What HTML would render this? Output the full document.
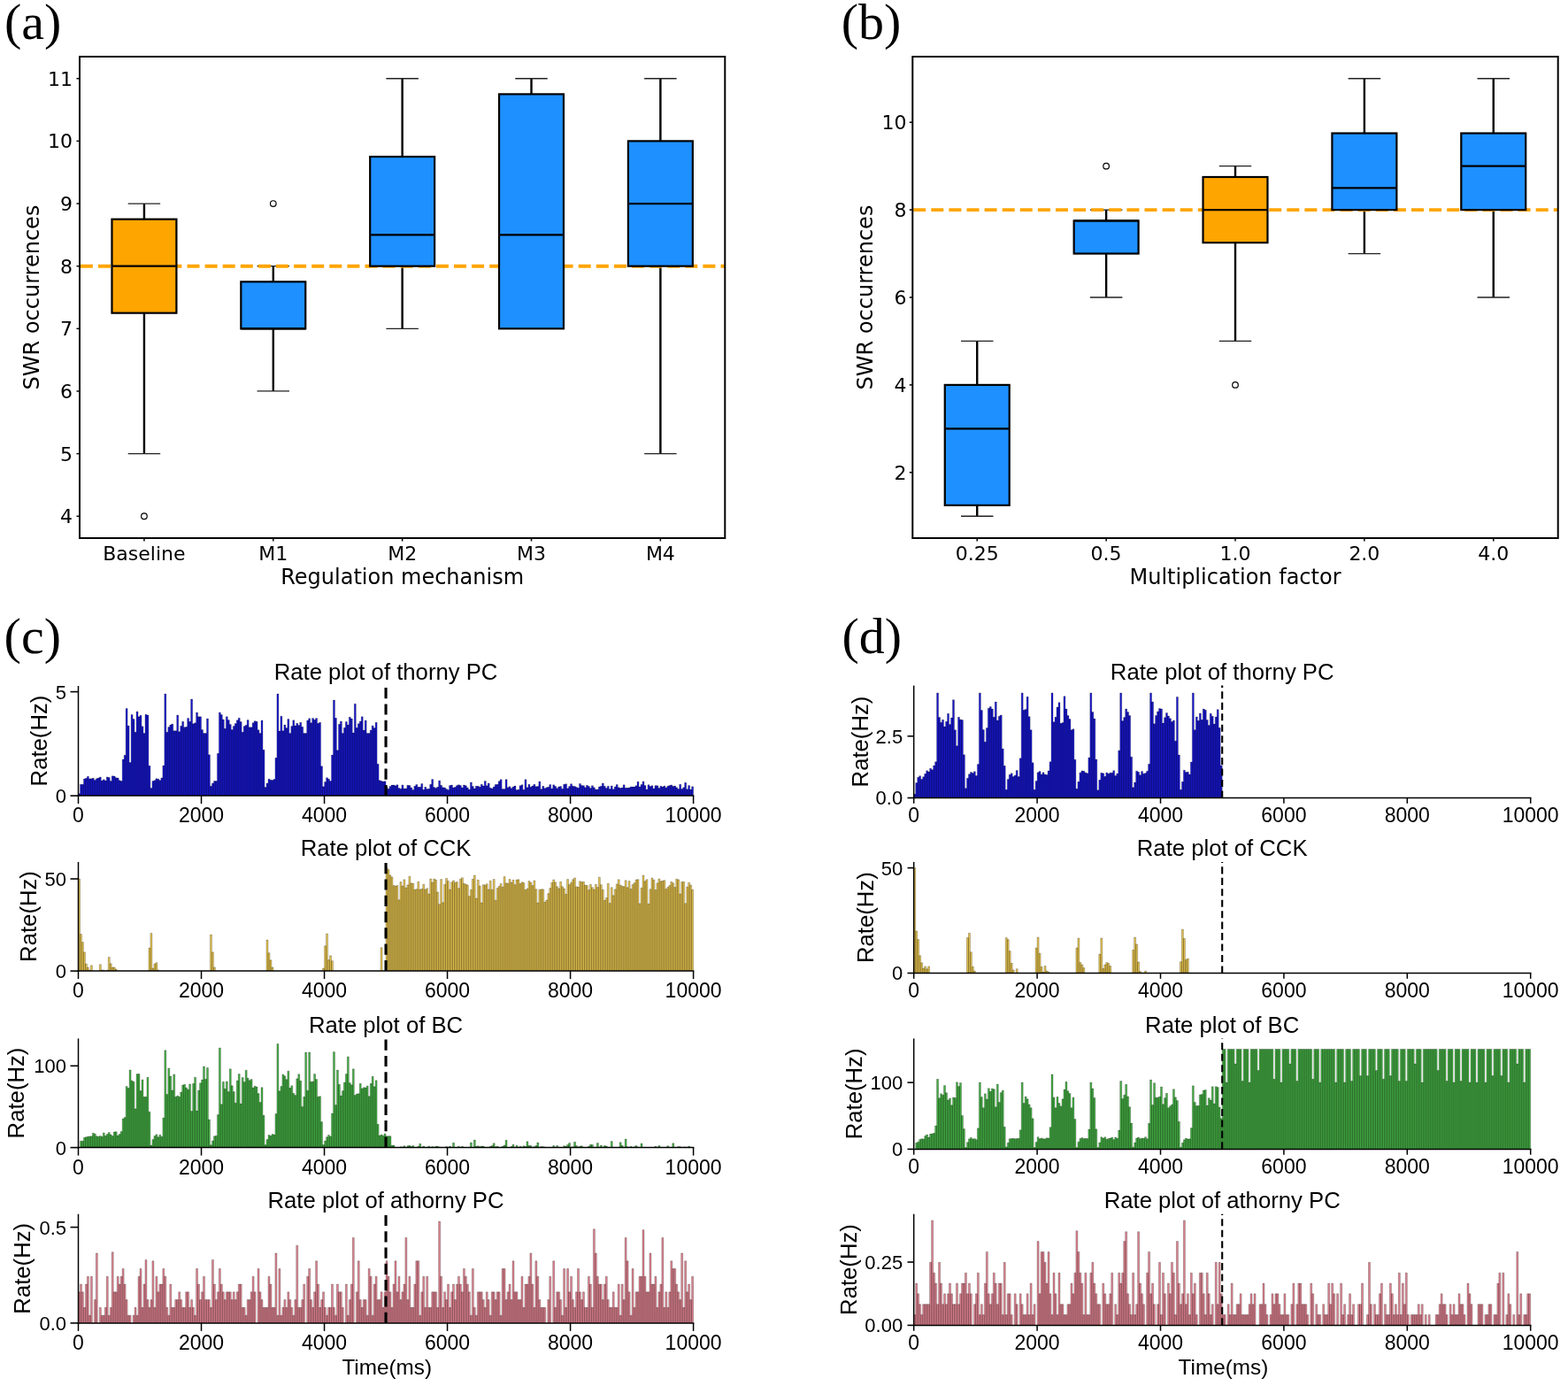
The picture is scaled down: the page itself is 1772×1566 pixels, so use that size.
<!DOCTYPE html>
<html><head><meta charset="utf-8"><title>SWR figure</title>
<style>html,body{margin:0;padding:0;background:#fff;overflow:hidden;} svg{display:block;}</style>
</head><body>
<svg width="1772" height="1566" viewBox="0 0 1772 1566"><text x="4.9" y="44.1" font-family="'Liberation Serif', 'Times New Roman', serif" font-size="58">(a)</text>
<text x="950.8" y="43.8" font-family="'Liberation Serif', 'Times New Roman', serif" font-size="58">(b)</text>
<text x="4.6" y="737.9" font-family="'Liberation Serif', 'Times New Roman', serif" font-size="58">(c)</text>
<text x="951.4" y="737.5" font-family="'Liberation Serif', 'Times New Roman', serif" font-size="58">(d)</text>
<line x1="162.93" y1="247.69" x2="162.93" y2="230.03" stroke="#000" stroke-width="2.4"/>
<line x1="162.93" y1="353.66" x2="162.93" y2="512.62" stroke="#000" stroke-width="2.4"/>
<line x1="144.70" y1="512.62" x2="181.16" y2="512.62" stroke="#222" stroke-width="1.3"/>
<line x1="144.70" y1="230.03" x2="181.16" y2="230.03" stroke="#222" stroke-width="1.3"/>
<line x1="308.79" y1="318.34" x2="308.79" y2="300.68" stroke="#000" stroke-width="2.4"/>
<line x1="308.79" y1="371.32" x2="308.79" y2="441.97" stroke="#000" stroke-width="2.4"/>
<line x1="290.56" y1="441.97" x2="327.02" y2="441.97" stroke="#222" stroke-width="1.3"/>
<line x1="290.56" y1="300.68" x2="327.02" y2="300.68" stroke="#222" stroke-width="1.3"/>
<line x1="454.65" y1="177.04" x2="454.65" y2="88.73" stroke="#000" stroke-width="2.4"/>
<line x1="454.65" y1="300.68" x2="454.65" y2="371.32" stroke="#000" stroke-width="2.4"/>
<line x1="436.42" y1="371.32" x2="472.88" y2="371.32" stroke="#222" stroke-width="1.3"/>
<line x1="436.42" y1="88.73" x2="472.88" y2="88.73" stroke="#222" stroke-width="1.3"/>
<line x1="600.51" y1="106.39" x2="600.51" y2="88.73" stroke="#000" stroke-width="2.4"/>
<line x1="600.51" y1="371.32" x2="600.51" y2="371.32" stroke="#000" stroke-width="2.4"/>
<line x1="582.28" y1="371.32" x2="618.74" y2="371.32" stroke="#222" stroke-width="1.3"/>
<line x1="582.28" y1="88.73" x2="618.74" y2="88.73" stroke="#222" stroke-width="1.3"/>
<line x1="746.37" y1="159.38" x2="746.37" y2="88.73" stroke="#000" stroke-width="2.4"/>
<line x1="746.37" y1="300.68" x2="746.37" y2="512.62" stroke="#000" stroke-width="2.4"/>
<line x1="728.14" y1="512.62" x2="764.60" y2="512.62" stroke="#222" stroke-width="1.3"/>
<line x1="728.14" y1="88.73" x2="764.60" y2="88.73" stroke="#222" stroke-width="1.3"/>
<line x1="90" y1="300.68" x2="819.3" y2="300.68" stroke="#FFA500" stroke-width="3.9" stroke-dasharray="14 6.1" stroke-dashoffset="-0.9"/>
<rect x="126.47" y="247.69" width="72.93" height="105.97" fill="#FFA500" stroke="#000" stroke-width="2.2"/>
<line x1="126.47" y1="300.68" x2="199.40" y2="300.68" stroke="#000" stroke-width="2.2"/>
<circle cx="162.93" cy="583.27" r="3.3" fill="none" stroke="#000" stroke-width="1.2"/>
<line x1="162.93" y1="608" x2="162.93" y2="611.5" stroke="#000" stroke-width="1.5"/>
<text x="162.93" y="632.6" font-family="'DejaVu Sans', sans-serif" font-size="22" text-anchor="middle">Baseline</text>
<rect x="272.32" y="318.34" width="72.93" height="52.99" fill="#1E90FF" stroke="#000" stroke-width="2.2"/>
<line x1="272.32" y1="371.32" x2="345.25" y2="371.32" stroke="#000" stroke-width="2.2"/>
<circle cx="308.79" cy="230.03" r="3.3" fill="none" stroke="#000" stroke-width="1.2"/>
<line x1="308.79" y1="608" x2="308.79" y2="611.5" stroke="#000" stroke-width="1.5"/>
<text x="308.79" y="632.6" font-family="'DejaVu Sans', sans-serif" font-size="22" text-anchor="middle">M1</text>
<rect x="418.19" y="177.04" width="72.93" height="123.64" fill="#1E90FF" stroke="#000" stroke-width="2.2"/>
<line x1="418.19" y1="265.35" x2="491.11" y2="265.35" stroke="#000" stroke-width="2.2"/>
<line x1="454.65" y1="608" x2="454.65" y2="611.5" stroke="#000" stroke-width="1.5"/>
<text x="454.65" y="632.6" font-family="'DejaVu Sans', sans-serif" font-size="22" text-anchor="middle">M2</text>
<rect x="564.04" y="106.39" width="72.93" height="264.94" fill="#1E90FF" stroke="#000" stroke-width="2.2"/>
<line x1="564.04" y1="265.35" x2="636.98" y2="265.35" stroke="#000" stroke-width="2.2"/>
<line x1="600.51" y1="608" x2="600.51" y2="611.5" stroke="#000" stroke-width="1.5"/>
<text x="600.51" y="632.6" font-family="'DejaVu Sans', sans-serif" font-size="22" text-anchor="middle">M3</text>
<rect x="709.90" y="159.38" width="72.93" height="141.30" fill="#1E90FF" stroke="#000" stroke-width="2.2"/>
<line x1="709.90" y1="230.03" x2="782.84" y2="230.03" stroke="#000" stroke-width="2.2"/>
<line x1="746.37" y1="608" x2="746.37" y2="611.5" stroke="#000" stroke-width="1.5"/>
<text x="746.37" y="632.6" font-family="'DejaVu Sans', sans-serif" font-size="22" text-anchor="middle">M4</text>
<line x1="86.5" y1="583.27" x2="90" y2="583.27" stroke="#000" stroke-width="1.5"/>
<text x="82" y="591.27" font-family="'DejaVu Sans', sans-serif" font-size="22" text-anchor="end">4</text>
<line x1="86.5" y1="512.62" x2="90" y2="512.62" stroke="#000" stroke-width="1.5"/>
<text x="82" y="520.62" font-family="'DejaVu Sans', sans-serif" font-size="22" text-anchor="end">5</text>
<line x1="86.5" y1="441.97" x2="90" y2="441.97" stroke="#000" stroke-width="1.5"/>
<text x="82" y="449.97" font-family="'DejaVu Sans', sans-serif" font-size="22" text-anchor="end">6</text>
<line x1="86.5" y1="371.32" x2="90" y2="371.32" stroke="#000" stroke-width="1.5"/>
<text x="82" y="379.32" font-family="'DejaVu Sans', sans-serif" font-size="22" text-anchor="end">7</text>
<line x1="86.5" y1="300.68" x2="90" y2="300.68" stroke="#000" stroke-width="1.5"/>
<text x="82" y="308.68" font-family="'DejaVu Sans', sans-serif" font-size="22" text-anchor="end">8</text>
<line x1="86.5" y1="230.03" x2="90" y2="230.03" stroke="#000" stroke-width="1.5"/>
<text x="82" y="238.03" font-family="'DejaVu Sans', sans-serif" font-size="22" text-anchor="end">9</text>
<line x1="86.5" y1="159.38" x2="90" y2="159.38" stroke="#000" stroke-width="1.5"/>
<text x="82" y="167.38" font-family="'DejaVu Sans', sans-serif" font-size="22" text-anchor="end">10</text>
<line x1="86.5" y1="88.73" x2="90" y2="88.73" stroke="#000" stroke-width="1.5"/>
<text x="82" y="96.73" font-family="'DejaVu Sans', sans-serif" font-size="22" text-anchor="end">11</text>
<rect x="90" y="64" width="729.3" height="544" fill="none" stroke="#000" stroke-width="2"/>
<text x="454.65" y="659.8" font-family="'DejaVu Sans', sans-serif" font-size="24" text-anchor="middle">Regulation mechanism</text>
<text transform="translate(44.2,336.00) rotate(-90)" font-family="'DejaVu Sans', sans-serif" font-size="24" text-anchor="middle">SWR occurrences</text>
<line x1="1104.24" y1="434.91" x2="1104.24" y2="385.45" stroke="#000" stroke-width="2.4"/>
<line x1="1104.24" y1="570.91" x2="1104.24" y2="583.27" stroke="#000" stroke-width="2.4"/>
<line x1="1086.01" y1="583.27" x2="1122.47" y2="583.27" stroke="#222" stroke-width="1.3"/>
<line x1="1086.01" y1="385.45" x2="1122.47" y2="385.45" stroke="#222" stroke-width="1.3"/>
<line x1="1250.12" y1="249.45" x2="1250.12" y2="237.09" stroke="#000" stroke-width="2.4"/>
<line x1="1250.12" y1="286.55" x2="1250.12" y2="336.00" stroke="#000" stroke-width="2.4"/>
<line x1="1231.88" y1="336.00" x2="1268.35" y2="336.00" stroke="#222" stroke-width="1.3"/>
<line x1="1231.88" y1="237.09" x2="1268.35" y2="237.09" stroke="#222" stroke-width="1.3"/>
<line x1="1396.00" y1="200.00" x2="1396.00" y2="187.64" stroke="#000" stroke-width="2.4"/>
<line x1="1396.00" y1="274.18" x2="1396.00" y2="385.45" stroke="#000" stroke-width="2.4"/>
<line x1="1377.77" y1="385.45" x2="1414.23" y2="385.45" stroke="#222" stroke-width="1.3"/>
<line x1="1377.77" y1="187.64" x2="1414.23" y2="187.64" stroke="#222" stroke-width="1.3"/>
<line x1="1541.88" y1="150.55" x2="1541.88" y2="88.73" stroke="#000" stroke-width="2.4"/>
<line x1="1541.88" y1="237.09" x2="1541.88" y2="286.55" stroke="#000" stroke-width="2.4"/>
<line x1="1523.65" y1="286.55" x2="1560.12" y2="286.55" stroke="#222" stroke-width="1.3"/>
<line x1="1523.65" y1="88.73" x2="1560.12" y2="88.73" stroke="#222" stroke-width="1.3"/>
<line x1="1687.76" y1="150.55" x2="1687.76" y2="88.73" stroke="#000" stroke-width="2.4"/>
<line x1="1687.76" y1="237.09" x2="1687.76" y2="336.00" stroke="#000" stroke-width="2.4"/>
<line x1="1669.53" y1="336.00" x2="1705.99" y2="336.00" stroke="#222" stroke-width="1.3"/>
<line x1="1669.53" y1="88.73" x2="1705.99" y2="88.73" stroke="#222" stroke-width="1.3"/>
<line x1="1031.3" y1="237.09" x2="1760.7" y2="237.09" stroke="#FFA500" stroke-width="3.9" stroke-dasharray="14 6.1" stroke-dashoffset="-0.9"/>
<rect x="1067.77" y="434.91" width="72.94" height="136.00" fill="#1E90FF" stroke="#000" stroke-width="2.2"/>
<line x1="1067.77" y1="484.36" x2="1140.71" y2="484.36" stroke="#000" stroke-width="2.2"/>
<line x1="1104.24" y1="608" x2="1104.24" y2="611.5" stroke="#000" stroke-width="1.5"/>
<text x="1104.24" y="632.6" font-family="'DejaVu Sans', sans-serif" font-size="22" text-anchor="middle">0.25</text>
<rect x="1213.65" y="249.45" width="72.94" height="37.09" fill="#1E90FF" stroke="#000" stroke-width="2.2"/>
<line x1="1213.65" y1="249.45" x2="1286.59" y2="249.45" stroke="#000" stroke-width="2.2"/>
<circle cx="1250.12" cy="187.64" r="3.3" fill="none" stroke="#000" stroke-width="1.2"/>
<line x1="1250.12" y1="608" x2="1250.12" y2="611.5" stroke="#000" stroke-width="1.5"/>
<text x="1250.12" y="632.6" font-family="'DejaVu Sans', sans-serif" font-size="22" text-anchor="middle">0.5</text>
<rect x="1359.53" y="200.00" width="72.94" height="74.18" fill="#FFA500" stroke="#000" stroke-width="2.2"/>
<line x1="1359.53" y1="237.09" x2="1432.47" y2="237.09" stroke="#000" stroke-width="2.2"/>
<circle cx="1396.00" cy="434.91" r="3.3" fill="none" stroke="#000" stroke-width="1.2"/>
<line x1="1396.00" y1="608" x2="1396.00" y2="611.5" stroke="#000" stroke-width="1.5"/>
<text x="1396.00" y="632.6" font-family="'DejaVu Sans', sans-serif" font-size="22" text-anchor="middle">1.0</text>
<rect x="1505.41" y="150.55" width="72.94" height="86.55" fill="#1E90FF" stroke="#000" stroke-width="2.2"/>
<line x1="1505.41" y1="212.36" x2="1578.35" y2="212.36" stroke="#000" stroke-width="2.2"/>
<line x1="1541.88" y1="608" x2="1541.88" y2="611.5" stroke="#000" stroke-width="1.5"/>
<text x="1541.88" y="632.6" font-family="'DejaVu Sans', sans-serif" font-size="22" text-anchor="middle">2.0</text>
<rect x="1651.29" y="150.55" width="72.94" height="86.55" fill="#1E90FF" stroke="#000" stroke-width="2.2"/>
<line x1="1651.29" y1="187.64" x2="1724.23" y2="187.64" stroke="#000" stroke-width="2.2"/>
<line x1="1687.76" y1="608" x2="1687.76" y2="611.5" stroke="#000" stroke-width="1.5"/>
<text x="1687.76" y="632.6" font-family="'DejaVu Sans', sans-serif" font-size="22" text-anchor="middle">4.0</text>
<line x1="1027.8" y1="533.82" x2="1031.3" y2="533.82" stroke="#000" stroke-width="1.5"/>
<text x="1024.6" y="541.82" font-family="'DejaVu Sans', sans-serif" font-size="22" text-anchor="end">2</text>
<line x1="1027.8" y1="434.91" x2="1031.3" y2="434.91" stroke="#000" stroke-width="1.5"/>
<text x="1024.6" y="442.91" font-family="'DejaVu Sans', sans-serif" font-size="22" text-anchor="end">4</text>
<line x1="1027.8" y1="336.00" x2="1031.3" y2="336.00" stroke="#000" stroke-width="1.5"/>
<text x="1024.6" y="344.00" font-family="'DejaVu Sans', sans-serif" font-size="22" text-anchor="end">6</text>
<line x1="1027.8" y1="237.09" x2="1031.3" y2="237.09" stroke="#000" stroke-width="1.5"/>
<text x="1024.6" y="245.09" font-family="'DejaVu Sans', sans-serif" font-size="22" text-anchor="end">8</text>
<line x1="1027.8" y1="138.18" x2="1031.3" y2="138.18" stroke="#000" stroke-width="1.5"/>
<text x="1024.6" y="146.18" font-family="'DejaVu Sans', sans-serif" font-size="22" text-anchor="end">10</text>
<rect x="1031.3" y="64" width="729.4000000000001" height="544" fill="none" stroke="#000" stroke-width="2"/>
<text x="1396.00" y="659.8" font-family="'DejaVu Sans', sans-serif" font-size="24" text-anchor="middle">Multiplication factor</text>
<text transform="translate(985.9,336.00) rotate(-90)" font-family="'DejaVu Sans', sans-serif" font-size="24" text-anchor="middle">SWR occurrences</text>
<path d="M88.50 899.10V896.75H90.49V886.18H92.47V886.18H94.46V879.99H96.44V879.36H98.43V877.22H100.42V879.92H102.40V879.67H104.39V879.20H106.37V881.57H108.36V879.64H110.35V878.96H112.33V878.00H114.32V882.09H116.30V880.86H118.29V882.11H120.28V877.90H122.26V878.58H124.25V882.42H126.23V876.87H128.22V876.99H130.21V878.82H132.19V879.03H134.18V881.73H136.16V882.56H138.15V858.07H140.14V853.27H142.12V800.40H144.11V820.00H146.09V861.50H148.08V807.45H150.07V812.50H152.05V827.19H154.04V804.04H156.02V809.80H158.01V808.23H160.00V820.80H161.98V828.60H163.97V807.31H165.95V807.94H167.94V865.24H169.93V890.38H171.91V882.46H173.90V881.71H175.88V879.76H177.87V880.32H179.86V881.64H181.84V878.89H183.83V865.07H185.81V783.95H187.80V827.24H189.79V821.50H191.77V819.08H193.76V817.95H195.74V825.73H197.73V825.80H199.72V807.94H201.70V826.72H203.69V820.26H205.67V815.28H207.66V821.69H209.65V821.15H211.63V811.49H213.62V815.21H215.60V789.90H217.59V817.72H219.58V816.76H221.56V805.08H223.55V809.80H225.53V809.85H227.52V824.51H229.51V828.44H231.49V828.60H233.48V811.94H235.46V852.76H237.45V888.17H239.44V885.07H241.42V882.42H243.41V882.51H245.39V851.32H247.38V805.10H249.37V807.40H251.35V812.90H253.34V823.15H255.32V809.80H257.31V813.58H259.30V818.38H261.28V824.46H263.27V820.54H265.25V817.58H267.24V813.84H269.23V811.35H271.21V815.44H273.20V827.31H275.18V820.49H277.17V819.29H279.16V813.54H281.14V821.74H283.13V821.81H285.11V816.71H287.10V814.69H289.09V815.16H291.07V824.82H293.06V828.60H295.04V813.98H297.03V847.28H299.02V889.47H301.00V884.95H302.99V880.32H304.97V881.22H306.96V881.52H308.95V880.51H310.93V856.35H312.92V783.95H314.90V825.94H316.89V809.14H318.88V825.71H320.86V819.01H322.85V822.56H324.83V812.50H326.82V828.60H328.81V820.59H330.79V813.87H332.78V819.95H334.76V817.18H336.75V819.55H338.74V816.19H340.72V821.27H342.71V828.60H344.69V828.60H346.68V814.08H348.67V811.75H350.65V816.73H352.64V811.54H354.62V813.37H356.61V811.59H358.60V817.30H360.58V816.31H362.57V865.64H364.55V888.78H366.54V883.43H368.53V878.70H370.51V880.14H372.50V882.46H374.48V853.11H376.47V791.00H378.46V811.30H380.44V847.66H382.43V818.14H384.41V814.88H386.40V828.60H388.39V822.16H390.37V815.56H392.36V818.99H394.34V810.25H396.33V812.01H398.32V828.04H400.30V795.23H402.29V822.30H404.27V817.67H406.26V814.90H408.25V809.80H410.23V825.08H412.22V814.05H414.20V828.48H416.19V828.60H418.18V825.12H420.16V819.98H422.15V822.58H424.13V816.31H426.12V863.19H428.11V881.80H430.09V882.58H432.08V883.07H434.06V882.77H436.05V889.16H438.04V891.23H440.02V888.48H442.01V887.12H443.99V887.09H445.98V887.82H447.97V886.79H449.95V890.52H451.94V891.13H453.92V886.88H455.91V890.99H457.90V890.88H459.88V887.23H461.87V887.51H463.85V889.96H465.84V892.40H467.83V888.20H469.81V886.39H471.80V889.30H473.78V889.32H475.77V885.54H477.76V892.28H479.74V889.25H481.73V891.58H483.71V891.23H485.70V886.25H487.69V880.58H489.67V889.58H491.66V890.45H493.64V889.25H495.63V882.06H497.62V887.16H499.60V889.63H501.59V889.96H503.57V891.46H505.56V892.43H507.55V887.44H509.53V887.07H511.52V889.96H513.50V889.32H515.49V887.42H517.48V886.74H519.46V887.59H521.45V889.94H523.43V886.93H525.42V887.66H527.41V889.94H529.39V892.07H531.38V884.08H533.36V888.48H535.35V891.04H537.34V888.29H539.32V888.34H541.31V889.14H543.29V886.18H545.28V888.08H547.27V882.56H549.25V887.84H551.24V885.02H553.22V890.15H555.21V890.92H557.20V889.02H559.18V886.39H561.17V886.20H563.15V882.67H565.14V880.70H567.13V891.51H569.11V891.44H571.10V880.63H573.08V889.84H575.07V888.74H577.06V890.71H579.04V888.97H581.03V887.98H583.01V892.43H585.00V892.24H586.99V887.73H588.97V886.83H590.96V892.19H592.94V880.86H594.93V889.79H596.92V886.34H598.90V889.21H600.89V887.94H602.87V886.32H604.86V888.69H606.85V888.55H608.83V883.07H610.82V891.72H612.80V888.29H614.79V890.85H616.78V889.86H618.76V889.16H620.75V886.48H622.73V891.02H624.72V886.86H626.71V888.55H628.69V890.80H630.68V888.92H632.66V888.50H634.65V891.32H636.64V886.29H638.62V885.82H640.61V890.80H642.59V888.57H644.58V885.66H646.57V888.22H648.55V888.52H650.54V889.49H652.52V890.33H654.51V885.47H656.50V887.40H658.48V887.63H660.47V889.82H662.45V887.37H664.44V888.38H666.43V890.45H668.41V887.80H670.40V889.82H672.38V891.91H674.37V892.03H676.36V888.95H678.34V888.17H680.33V884.93H682.31V888.31H684.30V890.59H686.29V888.13H688.27V891.60H690.26V887.91H692.24V891.77H694.23V888.90H696.22V886.55H698.20V889.75H700.19V890.59H702.17V889.98H704.16V886.83H706.15V890.22H708.13V890.22H710.12V890.05H712.10V888.95H714.09V889.09H716.08V888.95H718.06V887.70H720.05V883.14H722.03V889.07H724.02V886.39H726.01V882.96H727.99V887.51H729.98V892.00H731.96V886.81H733.95V888.50H735.94V887.80H737.92V890.97H739.91V887.66H741.89V887.68H743.88V890.38H745.87V888.24H747.85V889.11H749.84V888.03H751.82V889.91H753.81V888.29H755.80V887.40H757.78V886.88H759.77V888.45H761.75V888.01H763.74V889.84H765.73V891.60H767.71V886.22H769.70V891.46H771.68V889.82H773.67V884.37H775.66V891.79H777.64V887.59H779.63V892.12H781.61V888.81H783.60V899.10Z" fill="#1818d0"/>
<path d="M88.50 899.10V896.75H90.49V899.10M90.49 899.10V886.18H92.47V899.10M92.47 899.10V886.18H94.46V899.10M94.46 899.10V879.99H96.44V899.10M96.44 899.10V879.36H98.43V899.10M98.43 899.10V877.22H100.42V899.10M100.42 899.10V879.92H102.40V899.10M102.40 899.10V879.67H104.39V899.10M104.39 899.10V879.20H106.37V899.10M106.37 899.10V881.57H108.36V899.10M108.36 899.10V879.64H110.35V899.10M110.35 899.10V878.96H112.33V899.10M112.33 899.10V878.00H114.32V899.10M114.32 899.10V882.09H116.30V899.10M116.30 899.10V880.86H118.29V899.10M118.29 899.10V882.11H120.28V899.10M120.28 899.10V877.90H122.26V899.10M122.26 899.10V878.58H124.25V899.10M124.25 899.10V882.42H126.23V899.10M126.23 899.10V876.87H128.22V899.10M128.22 899.10V876.99H130.21V899.10M130.21 899.10V878.82H132.19V899.10M132.19 899.10V879.03H134.18V899.10M134.18 899.10V881.73H136.16V899.10M136.16 899.10V882.56H138.15V899.10M138.15 899.10V858.07H140.14V899.10M140.14 899.10V853.27H142.12V899.10M142.12 899.10V800.40H144.11V899.10M144.11 899.10V820.00H146.09V899.10M146.09 899.10V861.50H148.08V899.10M148.08 899.10V807.45H150.07V899.10M150.07 899.10V812.50H152.05V899.10M152.05 899.10V827.19H154.04V899.10M154.04 899.10V804.04H156.02V899.10M156.02 899.10V809.80H158.01V899.10M158.01 899.10V808.23H160.00V899.10M160.00 899.10V820.80H161.98V899.10M161.98 899.10V828.60H163.97V899.10M163.97 899.10V807.31H165.95V899.10M165.95 899.10V807.94H167.94V899.10M167.94 899.10V865.24H169.93V899.10M169.93 899.10V890.38H171.91V899.10M171.91 899.10V882.46H173.90V899.10M173.90 899.10V881.71H175.88V899.10M175.88 899.10V879.76H177.87V899.10M177.87 899.10V880.32H179.86V899.10M179.86 899.10V881.64H181.84V899.10M181.84 899.10V878.89H183.83V899.10M183.83 899.10V865.07H185.81V899.10M185.81 899.10V783.95H187.80V899.10M187.80 899.10V827.24H189.79V899.10M189.79 899.10V821.50H191.77V899.10M191.77 899.10V819.08H193.76V899.10M193.76 899.10V817.95H195.74V899.10M195.74 899.10V825.73H197.73V899.10M197.73 899.10V825.80H199.72V899.10M199.72 899.10V807.94H201.70V899.10M201.70 899.10V826.72H203.69V899.10M203.69 899.10V820.26H205.67V899.10M205.67 899.10V815.28H207.66V899.10M207.66 899.10V821.69H209.65V899.10M209.65 899.10V821.15H211.63V899.10M211.63 899.10V811.49H213.62V899.10M213.62 899.10V815.21H215.60V899.10M215.60 899.10V789.90H217.59V899.10M217.59 899.10V817.72H219.58V899.10M219.58 899.10V816.76H221.56V899.10M221.56 899.10V805.08H223.55V899.10M223.55 899.10V809.80H225.53V899.10M225.53 899.10V809.85H227.52V899.10M227.52 899.10V824.51H229.51V899.10M229.51 899.10V828.44H231.49V899.10M231.49 899.10V828.60H233.48V899.10M233.48 899.10V811.94H235.46V899.10M235.46 899.10V852.76H237.45V899.10M237.45 899.10V888.17H239.44V899.10M239.44 899.10V885.07H241.42V899.10M241.42 899.10V882.42H243.41V899.10M243.41 899.10V882.51H245.39V899.10M245.39 899.10V851.32H247.38V899.10M247.38 899.10V805.10H249.37V899.10M249.37 899.10V807.40H251.35V899.10M251.35 899.10V812.90H253.34V899.10M253.34 899.10V823.15H255.32V899.10M255.32 899.10V809.80H257.31V899.10M257.31 899.10V813.58H259.30V899.10M259.30 899.10V818.38H261.28V899.10M261.28 899.10V824.46H263.27V899.10M263.27 899.10V820.54H265.25V899.10M265.25 899.10V817.58H267.24V899.10M267.24 899.10V813.84H269.23V899.10M269.23 899.10V811.35H271.21V899.10M271.21 899.10V815.44H273.20V899.10M273.20 899.10V827.31H275.18V899.10M275.18 899.10V820.49H277.17V899.10M277.17 899.10V819.29H279.16V899.10M279.16 899.10V813.54H281.14V899.10M281.14 899.10V821.74H283.13V899.10M283.13 899.10V821.81H285.11V899.10M285.11 899.10V816.71H287.10V899.10M287.10 899.10V814.69H289.09V899.10M289.09 899.10V815.16H291.07V899.10M291.07 899.10V824.82H293.06V899.10M293.06 899.10V828.60H295.04V899.10M295.04 899.10V813.98H297.03V899.10M297.03 899.10V847.28H299.02V899.10M299.02 899.10V889.47H301.00V899.10M301.00 899.10V884.95H302.99V899.10M302.99 899.10V880.32H304.97V899.10M304.97 899.10V881.22H306.96V899.10M306.96 899.10V881.52H308.95V899.10M308.95 899.10V880.51H310.93V899.10M310.93 899.10V856.35H312.92V899.10M312.92 899.10V783.95H314.90V899.10M314.90 899.10V825.94H316.89V899.10M316.89 899.10V809.14H318.88V899.10M318.88 899.10V825.71H320.86V899.10M320.86 899.10V819.01H322.85V899.10M322.85 899.10V822.56H324.83V899.10M324.83 899.10V812.50H326.82V899.10M326.82 899.10V828.60H328.81V899.10M328.81 899.10V820.59H330.79V899.10M330.79 899.10V813.87H332.78V899.10M332.78 899.10V819.95H334.76V899.10M334.76 899.10V817.18H336.75V899.10M336.75 899.10V819.55H338.74V899.10M338.74 899.10V816.19H340.72V899.10M340.72 899.10V821.27H342.71V899.10M342.71 899.10V828.60H344.69V899.10M344.69 899.10V828.60H346.68V899.10M346.68 899.10V814.08H348.67V899.10M348.67 899.10V811.75H350.65V899.10M350.65 899.10V816.73H352.64V899.10M352.64 899.10V811.54H354.62V899.10M354.62 899.10V813.37H356.61V899.10M356.61 899.10V811.59H358.60V899.10M358.60 899.10V817.30H360.58V899.10M360.58 899.10V816.31H362.57V899.10M362.57 899.10V865.64H364.55V899.10M364.55 899.10V888.78H366.54V899.10M366.54 899.10V883.43H368.53V899.10M368.53 899.10V878.70H370.51V899.10M370.51 899.10V880.14H372.50V899.10M372.50 899.10V882.46H374.48V899.10M374.48 899.10V853.11H376.47V899.10M376.47 899.10V791.00H378.46V899.10M378.46 899.10V811.30H380.44V899.10M380.44 899.10V847.66H382.43V899.10M382.43 899.10V818.14H384.41V899.10M384.41 899.10V814.88H386.40V899.10M386.40 899.10V828.60H388.39V899.10M388.39 899.10V822.16H390.37V899.10M390.37 899.10V815.56H392.36V899.10M392.36 899.10V818.99H394.34V899.10M394.34 899.10V810.25H396.33V899.10M396.33 899.10V812.01H398.32V899.10M398.32 899.10V828.04H400.30V899.10M400.30 899.10V795.23H402.29V899.10M402.29 899.10V822.30H404.27V899.10M404.27 899.10V817.67H406.26V899.10M406.26 899.10V814.90H408.25V899.10M408.25 899.10V809.80H410.23V899.10M410.23 899.10V825.08H412.22V899.10M412.22 899.10V814.05H414.20V899.10M414.20 899.10V828.48H416.19V899.10M416.19 899.10V828.60H418.18V899.10M418.18 899.10V825.12H420.16V899.10M420.16 899.10V819.98H422.15V899.10M422.15 899.10V822.58H424.13V899.10M424.13 899.10V816.31H426.12V899.10M426.12 899.10V863.19H428.11V899.10M428.11 899.10V881.80H430.09V899.10M430.09 899.10V882.58H432.08V899.10M432.08 899.10V883.07H434.06V899.10M434.06 899.10V882.77H436.05V899.10M436.05 899.10V889.16H438.04V899.10M438.04 899.10V891.23H440.02V899.10M440.02 899.10V888.48H442.01V899.10M442.01 899.10V887.12H443.99V899.10M443.99 899.10V887.09H445.98V899.10M445.98 899.10V887.82H447.97V899.10M447.97 899.10V886.79H449.95V899.10M449.95 899.10V890.52H451.94V899.10M451.94 899.10V891.13H453.92V899.10M453.92 899.10V886.88H455.91V899.10M455.91 899.10V890.99H457.90V899.10M457.90 899.10V890.88H459.88V899.10M459.88 899.10V887.23H461.87V899.10M461.87 899.10V887.51H463.85V899.10M463.85 899.10V889.96H465.84V899.10M465.84 899.10V892.40H467.83V899.10M467.83 899.10V888.20H469.81V899.10M469.81 899.10V886.39H471.80V899.10M471.80 899.10V889.30H473.78V899.10M473.78 899.10V889.32H475.77V899.10M475.77 899.10V885.54H477.76V899.10M477.76 899.10V892.28H479.74V899.10M479.74 899.10V889.25H481.73V899.10M481.73 899.10V891.58H483.71V899.10M483.71 899.10V891.23H485.70V899.10M485.70 899.10V886.25H487.69V899.10M487.69 899.10V880.58H489.67V899.10M489.67 899.10V889.58H491.66V899.10M491.66 899.10V890.45H493.64V899.10M493.64 899.10V889.25H495.63V899.10M495.63 899.10V882.06H497.62V899.10M497.62 899.10V887.16H499.60V899.10M499.60 899.10V889.63H501.59V899.10M501.59 899.10V889.96H503.57V899.10M503.57 899.10V891.46H505.56V899.10M505.56 899.10V892.43H507.55V899.10M507.55 899.10V887.44H509.53V899.10M509.53 899.10V887.07H511.52V899.10M511.52 899.10V889.96H513.50V899.10M513.50 899.10V889.32H515.49V899.10M515.49 899.10V887.42H517.48V899.10M517.48 899.10V886.74H519.46V899.10M519.46 899.10V887.59H521.45V899.10M521.45 899.10V889.94H523.43V899.10M523.43 899.10V886.93H525.42V899.10M525.42 899.10V887.66H527.41V899.10M527.41 899.10V889.94H529.39V899.10M529.39 899.10V892.07H531.38V899.10M531.38 899.10V884.08H533.36V899.10M533.36 899.10V888.48H535.35V899.10M535.35 899.10V891.04H537.34V899.10M537.34 899.10V888.29H539.32V899.10M539.32 899.10V888.34H541.31V899.10M541.31 899.10V889.14H543.29V899.10M543.29 899.10V886.18H545.28V899.10M545.28 899.10V888.08H547.27V899.10M547.27 899.10V882.56H549.25V899.10M549.25 899.10V887.84H551.24V899.10M551.24 899.10V885.02H553.22V899.10M553.22 899.10V890.15H555.21V899.10M555.21 899.10V890.92H557.20V899.10M557.20 899.10V889.02H559.18V899.10M559.18 899.10V886.39H561.17V899.10M561.17 899.10V886.20H563.15V899.10M563.15 899.10V882.67H565.14V899.10M565.14 899.10V880.70H567.13V899.10M567.13 899.10V891.51H569.11V899.10M569.11 899.10V891.44H571.10V899.10M571.10 899.10V880.63H573.08V899.10M573.08 899.10V889.84H575.07V899.10M575.07 899.10V888.74H577.06V899.10M577.06 899.10V890.71H579.04V899.10M579.04 899.10V888.97H581.03V899.10M581.03 899.10V887.98H583.01V899.10M583.01 899.10V892.43H585.00V899.10M585.00 899.10V892.24H586.99V899.10M586.99 899.10V887.73H588.97V899.10M588.97 899.10V886.83H590.96V899.10M590.96 899.10V892.19H592.94V899.10M592.94 899.10V880.86H594.93V899.10M594.93 899.10V889.79H596.92V899.10M596.92 899.10V886.34H598.90V899.10M598.90 899.10V889.21H600.89V899.10M600.89 899.10V887.94H602.87V899.10M602.87 899.10V886.32H604.86V899.10M604.86 899.10V888.69H606.85V899.10M606.85 899.10V888.55H608.83V899.10M608.83 899.10V883.07H610.82V899.10M610.82 899.10V891.72H612.80V899.10M612.80 899.10V888.29H614.79V899.10M614.79 899.10V890.85H616.78V899.10M616.78 899.10V889.86H618.76V899.10M618.76 899.10V889.16H620.75V899.10M620.75 899.10V886.48H622.73V899.10M622.73 899.10V891.02H624.72V899.10M624.72 899.10V886.86H626.71V899.10M626.71 899.10V888.55H628.69V899.10M628.69 899.10V890.80H630.68V899.10M630.68 899.10V888.92H632.66V899.10M632.66 899.10V888.50H634.65V899.10M634.65 899.10V891.32H636.64V899.10M636.64 899.10V886.29H638.62V899.10M638.62 899.10V885.82H640.61V899.10M640.61 899.10V890.80H642.59V899.10M642.59 899.10V888.57H644.58V899.10M644.58 899.10V885.66H646.57V899.10M646.57 899.10V888.22H648.55V899.10M648.55 899.10V888.52H650.54V899.10M650.54 899.10V889.49H652.52V899.10M652.52 899.10V890.33H654.51V899.10M654.51 899.10V885.47H656.50V899.10M656.50 899.10V887.40H658.48V899.10M658.48 899.10V887.63H660.47V899.10M660.47 899.10V889.82H662.45V899.10M662.45 899.10V887.37H664.44V899.10M664.44 899.10V888.38H666.43V899.10M666.43 899.10V890.45H668.41V899.10M668.41 899.10V887.80H670.40V899.10M670.40 899.10V889.82H672.38V899.10M672.38 899.10V891.91H674.37V899.10M674.37 899.10V892.03H676.36V899.10M676.36 899.10V888.95H678.34V899.10M678.34 899.10V888.17H680.33V899.10M680.33 899.10V884.93H682.31V899.10M682.31 899.10V888.31H684.30V899.10M684.30 899.10V890.59H686.29V899.10M686.29 899.10V888.13H688.27V899.10M688.27 899.10V891.60H690.26V899.10M690.26 899.10V887.91H692.24V899.10M692.24 899.10V891.77H694.23V899.10M694.23 899.10V888.90H696.22V899.10M696.22 899.10V886.55H698.20V899.10M698.20 899.10V889.75H700.19V899.10M700.19 899.10V890.59H702.17V899.10M702.17 899.10V889.98H704.16V899.10M704.16 899.10V886.83H706.15V899.10M706.15 899.10V890.22H708.13V899.10M708.13 899.10V890.22H710.12V899.10M710.12 899.10V890.05H712.10V899.10M712.10 899.10V888.95H714.09V899.10M714.09 899.10V889.09H716.08V899.10M716.08 899.10V888.95H718.06V899.10M718.06 899.10V887.70H720.05V899.10M720.05 899.10V883.14H722.03V899.10M722.03 899.10V889.07H724.02V899.10M724.02 899.10V886.39H726.01V899.10M726.01 899.10V882.96H727.99V899.10M727.99 899.10V887.51H729.98V899.10M729.98 899.10V892.00H731.96V899.10M731.96 899.10V886.81H733.95V899.10M733.95 899.10V888.50H735.94V899.10M735.94 899.10V887.80H737.92V899.10M737.92 899.10V890.97H739.91V899.10M739.91 899.10V887.66H741.89V899.10M741.89 899.10V887.68H743.88V899.10M743.88 899.10V890.38H745.87V899.10M745.87 899.10V888.24H747.85V899.10M747.85 899.10V889.11H749.84V899.10M749.84 899.10V888.03H751.82V899.10M751.82 899.10V889.91H753.81V899.10M753.81 899.10V888.29H755.80V899.10M755.80 899.10V887.40H757.78V899.10M757.78 899.10V886.88H759.77V899.10M759.77 899.10V888.45H761.75V899.10M761.75 899.10V888.01H763.74V899.10M763.74 899.10V889.84H765.73V899.10M765.73 899.10V891.60H767.71V899.10M767.71 899.10V886.22H769.70V899.10M769.70 899.10V891.46H771.68V899.10M771.68 899.10V889.82H773.67V899.10M773.67 899.10V884.37H775.66V899.10M775.66 899.10V891.79H777.64V899.10M777.64 899.10V887.59H779.63V899.10M779.63 899.10V892.12H781.61V899.10M781.61 899.10V888.81H783.60V899.10" fill="none" stroke="#000" stroke-width="0.25"/>
<line x1="436.05" y1="899.10" x2="436.05" y2="775.00" stroke="#000" stroke-width="3.1" stroke-dasharray="12.2 6.1"/>
<line x1="88.50" y1="775.00" x2="88.50" y2="899.85" stroke="#000" stroke-width="1.5"/>
<line x1="87.75" y1="899.10" x2="784.35" y2="899.10" stroke="#000" stroke-width="1.5"/>
<line x1="88.50" y1="899.10" x2="88.50" y2="908.10" stroke="#000" stroke-width="1.5"/>
<text x="88.50" y="929.30" font-family="'Liberation Sans', Arial, sans-serif" font-size="23" text-anchor="middle">0</text>
<line x1="227.52" y1="899.10" x2="227.52" y2="908.10" stroke="#000" stroke-width="1.5"/>
<text x="227.52" y="929.30" font-family="'Liberation Sans', Arial, sans-serif" font-size="23" text-anchor="middle">2000</text>
<line x1="366.54" y1="899.10" x2="366.54" y2="908.10" stroke="#000" stroke-width="1.5"/>
<text x="366.54" y="929.30" font-family="'Liberation Sans', Arial, sans-serif" font-size="23" text-anchor="middle">4000</text>
<line x1="505.56" y1="899.10" x2="505.56" y2="908.10" stroke="#000" stroke-width="1.5"/>
<text x="505.56" y="929.30" font-family="'Liberation Sans', Arial, sans-serif" font-size="23" text-anchor="middle">6000</text>
<line x1="644.58" y1="899.10" x2="644.58" y2="908.10" stroke="#000" stroke-width="1.5"/>
<text x="644.58" y="929.30" font-family="'Liberation Sans', Arial, sans-serif" font-size="23" text-anchor="middle">8000</text>
<line x1="783.60" y1="899.10" x2="783.60" y2="908.10" stroke="#000" stroke-width="1.5"/>
<text x="783.60" y="929.30" font-family="'Liberation Sans', Arial, sans-serif" font-size="23" text-anchor="middle">10000</text>
<line x1="79.50" y1="899.10" x2="88.50" y2="899.10" stroke="#000" stroke-width="1.6"/>
<text x="75" y="907.00" font-family="'Liberation Sans', Arial, sans-serif" font-size="22" text-anchor="end">0</text>
<line x1="79.50" y1="781.60" x2="88.50" y2="781.60" stroke="#000" stroke-width="1.6"/>
<text x="75" y="789.50" font-family="'Liberation Sans', Arial, sans-serif" font-size="22" text-anchor="end">5</text>
<text x="436.05" y="768.40" font-family="'Liberation Sans', Arial, sans-serif" font-size="25.7" text-anchor="middle">Rate plot of thorny PC</text>
<text transform="translate(52.9,837.05) rotate(-90)" font-family="'Liberation Sans', Arial, sans-serif" font-size="25.7" text-anchor="middle">Rate(Hz)</text>
<path d="M88.50 1097.10V993.00H90.49V1055.46H92.47V1064.62H94.46V1075.86H96.44V1088.98H98.43V1092.94H100.42V1096.06H102.40V1090.85H104.39V1097.10H106.37V1097.10H108.36V1097.10H110.35V1097.10H112.33V1089.81H114.32V1096.06H116.30V1096.06H118.29V1097.10H120.28V1096.06H122.26V1081.48H124.25V1088.77H126.23V1092.94H128.22V1092.94H130.21V1095.02H132.19V1097.10H134.18V1097.10H136.16V1097.10H138.15V1097.10H140.14V1097.10H142.12V1097.10H144.11V1097.10H146.09V1097.10H148.08V1097.10H150.07V1097.10H152.05V1097.10H154.04V1097.10H156.02V1097.10H158.01V1097.10H160.00V1097.10H161.98V1097.10H163.97V1097.10H165.95V1097.10H167.94V1071.07H169.93V1054.42H171.91V1093.98H173.90V1088.98H175.88V1087.73H177.87V1096.06H179.86V1097.10H181.84V1097.10H183.83V1097.10H185.81V1097.10H187.80V1097.10H189.79V1097.10H191.77V1097.10H193.76V1097.10H195.74V1097.10H197.73V1097.10H199.72V1097.10H201.70V1097.10H203.69V1097.10H205.67V1097.10H207.66V1097.10H209.65V1097.10H211.63V1097.10H213.62V1097.10H215.60V1097.10H217.59V1097.10H219.58V1097.10H221.56V1097.10H223.55V1097.10H225.53V1097.10H227.52V1097.10H229.51V1097.10H231.49V1097.10H233.48V1097.10H235.46V1097.10H237.45V1056.08H239.44V1075.86H241.42V1092.94H243.41V1097.10H245.39V1097.10H247.38V1097.10H249.37V1097.10H251.35V1097.10H253.34V1097.10H255.32V1097.10H257.31V1097.10H259.30V1097.10H261.28V1097.10H263.27V1097.10H265.25V1097.10H267.24V1097.10H269.23V1097.10H271.21V1097.10H273.20V1097.10H275.18V1097.10H277.17V1097.10H279.16V1097.10H281.14V1097.10H283.13V1097.10H285.11V1097.10H287.10V1097.10H289.09V1097.10H291.07V1097.10H293.06V1097.10H295.04V1097.10H297.03V1097.10H299.02V1097.10H301.00V1062.12H302.99V1076.70H304.97V1084.82H306.96V1092.94H308.95V1097.10H310.93V1097.10H312.92V1097.10H314.90V1097.10H316.89V1097.10H318.88V1097.10H320.86V1097.10H322.85V1097.10H324.83V1097.10H326.82V1097.10H328.81V1097.10H330.79V1097.10H332.78V1097.10H334.76V1097.10H336.75V1097.10H338.74V1097.10H340.72V1097.10H342.71V1097.10H344.69V1097.10H346.68V1097.10H348.67V1097.10H350.65V1097.10H352.64V1097.10H354.62V1097.10H356.61V1097.10H358.60V1097.10H360.58V1097.10H362.57V1097.10H364.55V1093.98H366.54V1068.78H368.53V1055.04H370.51V1084.61H372.50V1079.82H374.48V1085.65H376.47V1097.10H378.46V1097.10H380.44V1097.10H382.43V1097.10H384.41V1097.10H386.40V1097.10H388.39V1097.10H390.37V1097.10H392.36V1097.10H394.34V1097.10H396.33V1097.10H398.32V1097.10H400.30V1097.10H402.29V1097.10H404.27V1097.10H406.26V1097.10H408.25V1097.10H410.23V1097.10H412.22V1097.10H414.20V1097.10H416.19V1097.10H418.18V1097.10H420.16V1097.10H422.15V1097.10H424.13V1097.10H426.12V1097.10H428.11V1097.10H430.09V1070.66H432.08V1097.10H434.06V1097.10H436.05V980.51H438.04V982.59H440.02V988.84H442.01V990.92H443.99V1000.56H445.98V1001.12H447.97V1000.60H449.95V1016.76H451.94V996.46H453.92V1001.10H455.91V993.85H457.90V1002.99H459.88V999.85H461.87V990.17H463.85V997.87H465.84V998.31H467.83V1005.22H469.81V1004.68H471.80V996.25H473.78V1005.05H475.77V1004.33H477.76V999.20H479.74V1004.93H481.73V1003.76H483.71V1009.97H485.70V993.00H487.69V997.12H489.67V993.08H491.66V994.17H493.64V1007.95H495.63V1021.67H497.62V993.56H499.60V1019.82H501.59V999.33H503.57V992.44H505.56V995.46H507.55V1004.95H509.53V996.73H511.52V994.89H513.50V997.14H515.49V996.41H517.48V1003.66H519.46V993.21H521.45V991.67H523.43V998.23H525.42V998.98H527.41V999.97H529.39V1012.61H531.38V1005.28H533.36V993.31H535.35V988.98H537.34V1015.09H539.32V994.33H541.31V1001.12H543.29V1020.00H545.28V999.64H547.27V1000.02H549.25V998.70H551.24V1004.93H553.22V995.21H555.21V1005.18H557.20V993.48H559.18V1017.17H561.17V1003.41H563.15V1001.29H565.14V998.48H567.13V1002.37H569.11V990.58H571.10V997.85H573.08V998.16H575.07V993.62H577.06V997.02H579.04V994.35H581.03V999.64H583.01V994.00H585.00V993.83H586.99V998.56H588.97V996.73H590.96V997.52H592.94V1005.45H594.93V1004.10H596.92V995.50H598.90V996.93H600.89V1000.47H602.87V994.92H604.86V1004.78H606.85V1020.07H608.83V1005.16H610.82V1004.87H612.80V1004.87H614.79V1019.32H616.78V1017.01H618.76V1009.61H620.75V1003.60H622.73V997.18H624.72V993.92H626.71V996.87H628.69V1001.77H630.68V1003.89H632.66V996.37H634.65V1001.77H636.64V1004.01H638.62V1010.36H640.61V993.54H642.59V999.60H644.58V997.06H646.57V993.75H648.55V991.92H650.54V1001.89H652.52V1002.31H654.51V995.81H656.50V996.64H658.48V996.14H660.47V1000.04H662.45V1000.56H664.44V1005.45H666.43V999.33H668.41V1002.68H670.40V1005.01H672.38V999.25H674.37V1002.60H676.36V991.21H678.34V999.66H680.33V1005.16H682.31V1017.36H684.30V1014.38H686.29V998.25H688.27V1020.57H690.26V1002.76H692.24V1011.86H694.23V1004.87H696.22V998.91H698.20V993.83H700.19V1000.08H702.17V1001.24H704.16V1001.81H706.15V994.79H708.13V1002.81H710.12V995.62H712.10V1004.51H714.09V999.54H716.08V997.62H718.06V993.94H720.05V993.67H722.03V1020.88H724.02V1003.22H726.01V988.96H727.99V995.66H729.98V993.81H731.96V1021.29H733.95V1004.74H735.94V991.94H737.92V994.19H739.91V1005.47H741.89V997.81H743.88V993.06H745.87V995.69H747.85V995.31H749.84V994.71H751.82V1004.41H753.81V1002.43H755.80V1000.45H757.78V996.21H759.77V997.77H761.75V1002.43H763.74V993.17H765.73V993.92H767.71V1009.97H769.70V996.48H771.68V996.27H773.67V1020.79H775.66V1002.14H777.64V997.21H779.63V1000.06H781.61V1005.20H783.60V1097.10Z" fill="#e6c450"/>
<path d="M88.50 1097.10V993.00H90.49V1097.10M90.49 1097.10V1055.46H92.47V1097.10M92.47 1097.10V1064.62H94.46V1097.10M94.46 1097.10V1075.86H96.44V1097.10M96.44 1097.10V1088.98H98.43V1097.10M98.43 1097.10V1092.94H100.42V1097.10M100.42 1097.10V1096.06H102.40V1097.10M102.40 1097.10V1090.85H104.39V1097.10M112.33 1097.10V1089.81H114.32V1097.10M114.32 1097.10V1096.06H116.30V1097.10M116.30 1097.10V1096.06H118.29V1097.10M120.28 1097.10V1096.06H122.26V1097.10M122.26 1097.10V1081.48H124.25V1097.10M124.25 1097.10V1088.77H126.23V1097.10M126.23 1097.10V1092.94H128.22V1097.10M128.22 1097.10V1092.94H130.21V1097.10M130.21 1097.10V1095.02H132.19V1097.10M167.94 1097.10V1071.07H169.93V1097.10M169.93 1097.10V1054.42H171.91V1097.10M171.91 1097.10V1093.98H173.90V1097.10M173.90 1097.10V1088.98H175.88V1097.10M175.88 1097.10V1087.73H177.87V1097.10M177.87 1097.10V1096.06H179.86V1097.10M237.45 1097.10V1056.08H239.44V1097.10M239.44 1097.10V1075.86H241.42V1097.10M241.42 1097.10V1092.94H243.41V1097.10M301.00 1097.10V1062.12H302.99V1097.10M302.99 1097.10V1076.70H304.97V1097.10M304.97 1097.10V1084.82H306.96V1097.10M306.96 1097.10V1092.94H308.95V1097.10M364.55 1097.10V1093.98H366.54V1097.10M366.54 1097.10V1068.78H368.53V1097.10M368.53 1097.10V1055.04H370.51V1097.10M370.51 1097.10V1084.61H372.50V1097.10M372.50 1097.10V1079.82H374.48V1097.10M374.48 1097.10V1085.65H376.47V1097.10M430.09 1097.10V1070.66H432.08V1097.10M436.05 1097.10V980.51H438.04V1097.10M438.04 1097.10V982.59H440.02V1097.10M440.02 1097.10V988.84H442.01V1097.10M442.01 1097.10V990.92H443.99V1097.10M443.99 1097.10V1000.56H445.98V1097.10M445.98 1097.10V1001.12H447.97V1097.10M447.97 1097.10V1000.60H449.95V1097.10M449.95 1097.10V1016.76H451.94V1097.10M451.94 1097.10V996.46H453.92V1097.10M453.92 1097.10V1001.10H455.91V1097.10M455.91 1097.10V993.85H457.90V1097.10M457.90 1097.10V1002.99H459.88V1097.10M459.88 1097.10V999.85H461.87V1097.10M461.87 1097.10V990.17H463.85V1097.10M463.85 1097.10V997.87H465.84V1097.10M465.84 1097.10V998.31H467.83V1097.10M467.83 1097.10V1005.22H469.81V1097.10M469.81 1097.10V1004.68H471.80V1097.10M471.80 1097.10V996.25H473.78V1097.10M473.78 1097.10V1005.05H475.77V1097.10M475.77 1097.10V1004.33H477.76V1097.10M477.76 1097.10V999.20H479.74V1097.10M479.74 1097.10V1004.93H481.73V1097.10M481.73 1097.10V1003.76H483.71V1097.10M483.71 1097.10V1009.97H485.70V1097.10M485.70 1097.10V993.00H487.69V1097.10M487.69 1097.10V997.12H489.67V1097.10M489.67 1097.10V993.08H491.66V1097.10M491.66 1097.10V994.17H493.64V1097.10M493.64 1097.10V1007.95H495.63V1097.10M495.63 1097.10V1021.67H497.62V1097.10M497.62 1097.10V993.56H499.60V1097.10M499.60 1097.10V1019.82H501.59V1097.10M501.59 1097.10V999.33H503.57V1097.10M503.57 1097.10V992.44H505.56V1097.10M505.56 1097.10V995.46H507.55V1097.10M507.55 1097.10V1004.95H509.53V1097.10M509.53 1097.10V996.73H511.52V1097.10M511.52 1097.10V994.89H513.50V1097.10M513.50 1097.10V997.14H515.49V1097.10M515.49 1097.10V996.41H517.48V1097.10M517.48 1097.10V1003.66H519.46V1097.10M519.46 1097.10V993.21H521.45V1097.10M521.45 1097.10V991.67H523.43V1097.10M523.43 1097.10V998.23H525.42V1097.10M525.42 1097.10V998.98H527.41V1097.10M527.41 1097.10V999.97H529.39V1097.10M529.39 1097.10V1012.61H531.38V1097.10M531.38 1097.10V1005.28H533.36V1097.10M533.36 1097.10V993.31H535.35V1097.10M535.35 1097.10V988.98H537.34V1097.10M537.34 1097.10V1015.09H539.32V1097.10M539.32 1097.10V994.33H541.31V1097.10M541.31 1097.10V1001.12H543.29V1097.10M543.29 1097.10V1020.00H545.28V1097.10M545.28 1097.10V999.64H547.27V1097.10M547.27 1097.10V1000.02H549.25V1097.10M549.25 1097.10V998.70H551.24V1097.10M551.24 1097.10V1004.93H553.22V1097.10M553.22 1097.10V995.21H555.21V1097.10M555.21 1097.10V1005.18H557.20V1097.10M557.20 1097.10V993.48H559.18V1097.10M559.18 1097.10V1017.17H561.17V1097.10M561.17 1097.10V1003.41H563.15V1097.10M563.15 1097.10V1001.29H565.14V1097.10M565.14 1097.10V998.48H567.13V1097.10M567.13 1097.10V1002.37H569.11V1097.10M569.11 1097.10V990.58H571.10V1097.10M571.10 1097.10V997.85H573.08V1097.10M573.08 1097.10V998.16H575.07V1097.10M575.07 1097.10V993.62H577.06V1097.10M577.06 1097.10V997.02H579.04V1097.10M579.04 1097.10V994.35H581.03V1097.10M581.03 1097.10V999.64H583.01V1097.10M583.01 1097.10V994.00H585.00V1097.10M585.00 1097.10V993.83H586.99V1097.10M586.99 1097.10V998.56H588.97V1097.10M588.97 1097.10V996.73H590.96V1097.10M590.96 1097.10V997.52H592.94V1097.10M592.94 1097.10V1005.45H594.93V1097.10M594.93 1097.10V1004.10H596.92V1097.10M596.92 1097.10V995.50H598.90V1097.10M598.90 1097.10V996.93H600.89V1097.10M600.89 1097.10V1000.47H602.87V1097.10M602.87 1097.10V994.92H604.86V1097.10M604.86 1097.10V1004.78H606.85V1097.10M606.85 1097.10V1020.07H608.83V1097.10M608.83 1097.10V1005.16H610.82V1097.10M610.82 1097.10V1004.87H612.80V1097.10M612.80 1097.10V1004.87H614.79V1097.10M614.79 1097.10V1019.32H616.78V1097.10M616.78 1097.10V1017.01H618.76V1097.10M618.76 1097.10V1009.61H620.75V1097.10M620.75 1097.10V1003.60H622.73V1097.10M622.73 1097.10V997.18H624.72V1097.10M624.72 1097.10V993.92H626.71V1097.10M626.71 1097.10V996.87H628.69V1097.10M628.69 1097.10V1001.77H630.68V1097.10M630.68 1097.10V1003.89H632.66V1097.10M632.66 1097.10V996.37H634.65V1097.10M634.65 1097.10V1001.77H636.64V1097.10M636.64 1097.10V1004.01H638.62V1097.10M638.62 1097.10V1010.36H640.61V1097.10M640.61 1097.10V993.54H642.59V1097.10M642.59 1097.10V999.60H644.58V1097.10M644.58 1097.10V997.06H646.57V1097.10M646.57 1097.10V993.75H648.55V1097.10M648.55 1097.10V991.92H650.54V1097.10M650.54 1097.10V1001.89H652.52V1097.10M652.52 1097.10V1002.31H654.51V1097.10M654.51 1097.10V995.81H656.50V1097.10M656.50 1097.10V996.64H658.48V1097.10M658.48 1097.10V996.14H660.47V1097.10M660.47 1097.10V1000.04H662.45V1097.10M662.45 1097.10V1000.56H664.44V1097.10M664.44 1097.10V1005.45H666.43V1097.10M666.43 1097.10V999.33H668.41V1097.10M668.41 1097.10V1002.68H670.40V1097.10M670.40 1097.10V1005.01H672.38V1097.10M672.38 1097.10V999.25H674.37V1097.10M674.37 1097.10V1002.60H676.36V1097.10M676.36 1097.10V991.21H678.34V1097.10M678.34 1097.10V999.66H680.33V1097.10M680.33 1097.10V1005.16H682.31V1097.10M682.31 1097.10V1017.36H684.30V1097.10M684.30 1097.10V1014.38H686.29V1097.10M686.29 1097.10V998.25H688.27V1097.10M688.27 1097.10V1020.57H690.26V1097.10M690.26 1097.10V1002.76H692.24V1097.10M692.24 1097.10V1011.86H694.23V1097.10M694.23 1097.10V1004.87H696.22V1097.10M696.22 1097.10V998.91H698.20V1097.10M698.20 1097.10V993.83H700.19V1097.10M700.19 1097.10V1000.08H702.17V1097.10M702.17 1097.10V1001.24H704.16V1097.10M704.16 1097.10V1001.81H706.15V1097.10M706.15 1097.10V994.79H708.13V1097.10M708.13 1097.10V1002.81H710.12V1097.10M710.12 1097.10V995.62H712.10V1097.10M712.10 1097.10V1004.51H714.09V1097.10M714.09 1097.10V999.54H716.08V1097.10M716.08 1097.10V997.62H718.06V1097.10M718.06 1097.10V993.94H720.05V1097.10M720.05 1097.10V993.67H722.03V1097.10M722.03 1097.10V1020.88H724.02V1097.10M724.02 1097.10V1003.22H726.01V1097.10M726.01 1097.10V988.96H727.99V1097.10M727.99 1097.10V995.66H729.98V1097.10M729.98 1097.10V993.81H731.96V1097.10M731.96 1097.10V1021.29H733.95V1097.10M733.95 1097.10V1004.74H735.94V1097.10M735.94 1097.10V991.94H737.92V1097.10M737.92 1097.10V994.19H739.91V1097.10M739.91 1097.10V1005.47H741.89V1097.10M741.89 1097.10V997.81H743.88V1097.10M743.88 1097.10V993.06H745.87V1097.10M745.87 1097.10V995.69H747.85V1097.10M747.85 1097.10V995.31H749.84V1097.10M749.84 1097.10V994.71H751.82V1097.10M751.82 1097.10V1004.41H753.81V1097.10M753.81 1097.10V1002.43H755.80V1097.10M755.80 1097.10V1000.45H757.78V1097.10M757.78 1097.10V996.21H759.77V1097.10M759.77 1097.10V997.77H761.75V1097.10M761.75 1097.10V1002.43H763.74V1097.10M763.74 1097.10V993.17H765.73V1097.10M765.73 1097.10V993.92H767.71V1097.10M767.71 1097.10V1009.97H769.70V1097.10M769.70 1097.10V996.48H771.68V1097.10M771.68 1097.10V996.27H773.67V1097.10M773.67 1097.10V1020.79H775.66V1097.10M775.66 1097.10V1002.14H777.64V1097.10M777.64 1097.10V997.21H779.63V1097.10M779.63 1097.10V1000.06H781.61V1097.10M781.61 1097.10V1005.20H783.60V1097.10" fill="none" stroke="#000" stroke-width="0.25"/>
<line x1="436.05" y1="1097.10" x2="436.05" y2="973.90" stroke="#000" stroke-width="3.1" stroke-dasharray="12.2 6.1"/>
<line x1="88.50" y1="973.90" x2="88.50" y2="1097.85" stroke="#000" stroke-width="1.5"/>
<line x1="87.75" y1="1097.10" x2="784.35" y2="1097.10" stroke="#000" stroke-width="1.5"/>
<line x1="88.50" y1="1097.10" x2="88.50" y2="1106.10" stroke="#000" stroke-width="1.5"/>
<text x="88.50" y="1127.30" font-family="'Liberation Sans', Arial, sans-serif" font-size="23" text-anchor="middle">0</text>
<line x1="227.52" y1="1097.10" x2="227.52" y2="1106.10" stroke="#000" stroke-width="1.5"/>
<text x="227.52" y="1127.30" font-family="'Liberation Sans', Arial, sans-serif" font-size="23" text-anchor="middle">2000</text>
<line x1="366.54" y1="1097.10" x2="366.54" y2="1106.10" stroke="#000" stroke-width="1.5"/>
<text x="366.54" y="1127.30" font-family="'Liberation Sans', Arial, sans-serif" font-size="23" text-anchor="middle">4000</text>
<line x1="505.56" y1="1097.10" x2="505.56" y2="1106.10" stroke="#000" stroke-width="1.5"/>
<text x="505.56" y="1127.30" font-family="'Liberation Sans', Arial, sans-serif" font-size="23" text-anchor="middle">6000</text>
<line x1="644.58" y1="1097.10" x2="644.58" y2="1106.10" stroke="#000" stroke-width="1.5"/>
<text x="644.58" y="1127.30" font-family="'Liberation Sans', Arial, sans-serif" font-size="23" text-anchor="middle">8000</text>
<line x1="783.60" y1="1097.10" x2="783.60" y2="1106.10" stroke="#000" stroke-width="1.5"/>
<text x="783.60" y="1127.30" font-family="'Liberation Sans', Arial, sans-serif" font-size="23" text-anchor="middle">10000</text>
<line x1="79.50" y1="1097.10" x2="88.50" y2="1097.10" stroke="#000" stroke-width="1.6"/>
<text x="75" y="1105.00" font-family="'Liberation Sans', Arial, sans-serif" font-size="22" text-anchor="end">0</text>
<line x1="79.50" y1="993.00" x2="88.50" y2="993.00" stroke="#000" stroke-width="1.6"/>
<text x="75" y="1000.90" font-family="'Liberation Sans', Arial, sans-serif" font-size="22" text-anchor="end">50</text>
<text x="436.05" y="967.30" font-family="'Liberation Sans', Arial, sans-serif" font-size="25.7" text-anchor="middle">Rate plot of CCK</text>
<text transform="translate(40.6,1035.50) rotate(-90)" font-family="'Liberation Sans', Arial, sans-serif" font-size="25.7" text-anchor="middle">Rate(Hz)</text>
<path d="M88.50 1296.60V1296.60H90.49V1289.22H92.47V1289.22H94.46V1285.26H96.44V1284.72H98.43V1284.16H100.42V1283.92H102.40V1283.79H104.39V1280.23H106.37V1281.13H108.36V1283.87H110.35V1284.16H112.33V1283.45H114.32V1284.25H116.30V1279.93H118.29V1283.23H120.28V1281.47H122.26V1279.49H124.25V1281.98H126.23V1283.60H128.22V1278.97H130.21V1278.78H132.19V1282.99H134.18V1281.48H136.16V1278.45H138.15V1263.94H140.14V1262.45H142.12V1227.38H144.11V1229.51H146.09V1208.91H148.08V1220.91H150.07V1222.23H152.05V1252.86H154.04V1213.53H156.02V1213.53H158.01V1232.50H160.00V1219.93H161.98V1239.37H163.97V1239.37H165.95V1217.21H167.94V1256.13H169.93V1294.05H171.91V1287.42H173.90V1283.60H175.88V1281.83H177.87V1284.76H179.86V1282.16H181.84V1284.34H183.83V1263.08H185.81V1186.76H187.80V1236.49H189.79V1206.99H191.77V1216.10H193.76V1231.90H195.74V1213.95H197.73V1239.37H199.72V1238.10H201.70V1239.37H203.69V1234.03H205.67V1225.97H207.66V1225.32H209.65V1228.96H211.63V1231.02H213.62V1224.88H215.60V1255.46H217.59V1224.33H219.58V1217.13H221.56V1255.12H223.55V1232.05H225.53V1223.66H227.52V1220.06H229.51V1204.95H231.49V1219.32H233.48V1206.44H235.46V1264.97H237.45V1293.66H239.44V1288.91H241.42V1283.74H243.41V1283.27H245.39V1259.57H247.38V1183.99H249.37V1247.77H251.35V1222.31H253.34V1230.23H255.32V1222.00H257.31V1233.52H259.30V1207.75H261.28V1226.73H263.27V1233.53H265.25V1246.19H267.24V1221.05H269.23V1213.53H271.21V1247.10H273.20V1217.42H275.18V1222.52H277.17V1209.27H279.16V1218.18H281.14V1220.77H283.13V1219.58H285.11V1229.04H287.10V1227.20H289.09V1227.99H291.07V1235.47H293.06V1245.56H295.04V1228.68H297.03V1260.14H299.02V1293.62H301.00V1287.48H302.99V1282.41H304.97V1283.35H306.96V1281.56H308.95V1282.11H310.93V1258.62H312.92V1179.38H314.90V1232.79H316.89V1227.46H318.88V1213.99H320.86V1215.87H322.85V1219.63H324.83V1210.13H326.82V1229.36H328.81V1226.73H330.79V1235.29H332.78V1237.57H334.76V1218.87H336.75V1213.71H338.74V1221.18H340.72V1250.39H342.71V1239.37H344.69V1189.07H346.68V1232.14H348.67V1188.98H350.65V1222.20H352.64V1222.10H354.62V1213.53H356.61V1219.53H358.60V1239.21H360.58V1238.71H362.57V1267.56H364.55V1293.41H366.54V1289.04H368.53V1284.70H370.51V1282.51H372.50V1283.97H374.48V1257.97H376.47V1188.61H378.46V1248.58H380.44V1209.08H382.43V1225.32H384.41V1238.12H386.40V1232.53H388.39V1223.10H390.37V1213.53H392.36V1193.93H394.34V1223.39H396.33V1225.70H398.32V1207.84H400.30V1237.51H402.29V1236.01H404.27V1235.71H406.26V1224.36H408.25V1229.92H410.23V1228.76H412.22V1228.90H414.20V1226.98H416.19V1238.66H418.18V1224.33H420.16V1216.32H422.15V1227.84H424.13V1220.75H426.12V1270.24H428.11V1282.97H430.09V1282.09H432.08V1283.14H434.06V1280.93H436.05V1283.68H438.04V1283.68H440.02V1283.68H442.01V1294.29H443.99V1294.04H445.98V1296.60H447.97V1296.60H449.95V1296.60H451.94V1295.80H453.92V1296.04H455.91V1294.71H457.90V1296.60H459.88V1294.78H461.87V1294.25H463.85V1295.55H465.84V1294.54H467.83V1296.60H469.81V1296.60H471.80V1295.19H473.78V1292.23H475.77V1296.60H477.76V1295.01H479.74V1296.60H481.73V1296.60H483.71V1295.09H485.70V1296.60H487.69V1295.58H489.67V1296.60H491.66V1295.23H493.64V1295.16H495.63V1296.06H497.62V1296.60H499.60V1296.60H501.59V1296.60H503.57V1295.56H505.56V1296.60H507.55V1295.08H509.53V1296.60H511.52V1291.34H513.50V1296.60H515.49V1296.60H517.48V1295.21H519.46V1296.60H521.45V1295.34H523.43V1296.60H525.42V1296.60H527.41V1296.60H529.39V1296.60H531.38V1290.93H533.36V1296.60H535.35V1288.06H537.34V1295.34H539.32V1294.87H541.31V1295.67H543.29V1295.06H545.28V1295.10H547.27V1296.60H549.25V1296.60H551.24V1296.60H553.22V1295.25H555.21V1294.54H557.20V1291.80H559.18V1295.71H561.17V1295.23H563.15V1296.60H565.14V1296.60H567.13V1295.31H569.11V1293.98H571.10V1288.17H573.08V1296.60H575.07V1296.60H577.06V1295.39H579.04V1293.21H581.03V1296.60H583.01V1294.36H585.00V1296.60H586.99V1295.23H588.97V1296.05H590.96V1294.76H592.94V1295.42H594.93V1289.82H596.92V1294.50H598.90V1294.47H600.89V1296.60H602.87V1295.67H604.86V1294.50H606.85V1290.98H608.83V1296.60H610.82V1295.46H612.80V1295.64H614.79V1296.08H616.78V1296.60H618.76V1296.60H620.75V1296.60H622.73V1296.60H624.72V1294.59H626.71V1296.60H628.69V1294.55H630.68V1296.60H632.66V1296.60H634.65V1296.60H636.64V1294.68H638.62V1295.15H640.61V1293.39H642.59V1291.40H644.58V1296.60H646.57V1295.77H648.55V1290.32H650.54V1294.61H652.52V1295.93H654.51V1295.16H656.50V1294.79H658.48V1296.60H660.47V1296.60H662.45V1296.60H664.44V1295.23H666.43V1293.37H668.41V1293.42H670.40V1296.60H672.38V1296.60H674.37V1291.43H676.36V1296.08H678.34V1294.08H680.33V1296.60H682.31V1294.60H684.30V1295.06H686.29V1296.60H688.27V1296.60H690.26V1289.58H692.24V1296.60H694.23V1296.60H696.22V1296.60H698.20V1296.60H700.19V1290.77H702.17V1294.23H704.16V1296.60H706.15V1287.11H708.13V1295.82H710.12V1296.60H712.10V1295.31H714.09V1296.60H716.08V1295.70H718.06V1294.57H720.05V1296.14H722.03V1296.60H724.02V1292.07H726.01V1296.60H727.99V1296.60H729.98V1296.60H731.96V1296.60H733.95V1296.60H735.94V1296.60H737.92V1296.60H739.91V1295.34H741.89V1296.60H743.88V1294.49H745.87V1296.60H747.85V1296.60H749.84V1296.60H751.82V1296.60H753.81V1294.71H755.80V1296.60H757.78V1296.60H759.77V1291.72H761.75V1296.60H763.74V1296.60H765.73V1295.57H767.71V1295.73H769.70V1296.60H771.68V1295.99H773.67V1295.90H775.66V1296.60H777.64V1295.10H779.63V1296.60H781.61V1296.60H783.60V1296.60Z" fill="#46b046"/>
<path d="M90.49 1296.60V1289.22H92.47V1296.60M92.47 1296.60V1289.22H94.46V1296.60M94.46 1296.60V1285.26H96.44V1296.60M96.44 1296.60V1284.72H98.43V1296.60M98.43 1296.60V1284.16H100.42V1296.60M100.42 1296.60V1283.92H102.40V1296.60M102.40 1296.60V1283.79H104.39V1296.60M104.39 1296.60V1280.23H106.37V1296.60M106.37 1296.60V1281.13H108.36V1296.60M108.36 1296.60V1283.87H110.35V1296.60M110.35 1296.60V1284.16H112.33V1296.60M112.33 1296.60V1283.45H114.32V1296.60M114.32 1296.60V1284.25H116.30V1296.60M116.30 1296.60V1279.93H118.29V1296.60M118.29 1296.60V1283.23H120.28V1296.60M120.28 1296.60V1281.47H122.26V1296.60M122.26 1296.60V1279.49H124.25V1296.60M124.25 1296.60V1281.98H126.23V1296.60M126.23 1296.60V1283.60H128.22V1296.60M128.22 1296.60V1278.97H130.21V1296.60M130.21 1296.60V1278.78H132.19V1296.60M132.19 1296.60V1282.99H134.18V1296.60M134.18 1296.60V1281.48H136.16V1296.60M136.16 1296.60V1278.45H138.15V1296.60M138.15 1296.60V1263.94H140.14V1296.60M140.14 1296.60V1262.45H142.12V1296.60M142.12 1296.60V1227.38H144.11V1296.60M144.11 1296.60V1229.51H146.09V1296.60M146.09 1296.60V1208.91H148.08V1296.60M148.08 1296.60V1220.91H150.07V1296.60M150.07 1296.60V1222.23H152.05V1296.60M152.05 1296.60V1252.86H154.04V1296.60M154.04 1296.60V1213.53H156.02V1296.60M156.02 1296.60V1213.53H158.01V1296.60M158.01 1296.60V1232.50H160.00V1296.60M160.00 1296.60V1219.93H161.98V1296.60M161.98 1296.60V1239.37H163.97V1296.60M163.97 1296.60V1239.37H165.95V1296.60M165.95 1296.60V1217.21H167.94V1296.60M167.94 1296.60V1256.13H169.93V1296.60M169.93 1296.60V1294.05H171.91V1296.60M171.91 1296.60V1287.42H173.90V1296.60M173.90 1296.60V1283.60H175.88V1296.60M175.88 1296.60V1281.83H177.87V1296.60M177.87 1296.60V1284.76H179.86V1296.60M179.86 1296.60V1282.16H181.84V1296.60M181.84 1296.60V1284.34H183.83V1296.60M183.83 1296.60V1263.08H185.81V1296.60M185.81 1296.60V1186.76H187.80V1296.60M187.80 1296.60V1236.49H189.79V1296.60M189.79 1296.60V1206.99H191.77V1296.60M191.77 1296.60V1216.10H193.76V1296.60M193.76 1296.60V1231.90H195.74V1296.60M195.74 1296.60V1213.95H197.73V1296.60M197.73 1296.60V1239.37H199.72V1296.60M199.72 1296.60V1238.10H201.70V1296.60M201.70 1296.60V1239.37H203.69V1296.60M203.69 1296.60V1234.03H205.67V1296.60M205.67 1296.60V1225.97H207.66V1296.60M207.66 1296.60V1225.32H209.65V1296.60M209.65 1296.60V1228.96H211.63V1296.60M211.63 1296.60V1231.02H213.62V1296.60M213.62 1296.60V1224.88H215.60V1296.60M215.60 1296.60V1255.46H217.59V1296.60M217.59 1296.60V1224.33H219.58V1296.60M219.58 1296.60V1217.13H221.56V1296.60M221.56 1296.60V1255.12H223.55V1296.60M223.55 1296.60V1232.05H225.53V1296.60M225.53 1296.60V1223.66H227.52V1296.60M227.52 1296.60V1220.06H229.51V1296.60M229.51 1296.60V1204.95H231.49V1296.60M231.49 1296.60V1219.32H233.48V1296.60M233.48 1296.60V1206.44H235.46V1296.60M235.46 1296.60V1264.97H237.45V1296.60M237.45 1296.60V1293.66H239.44V1296.60M239.44 1296.60V1288.91H241.42V1296.60M241.42 1296.60V1283.74H243.41V1296.60M243.41 1296.60V1283.27H245.39V1296.60M245.39 1296.60V1259.57H247.38V1296.60M247.38 1296.60V1183.99H249.37V1296.60M249.37 1296.60V1247.77H251.35V1296.60M251.35 1296.60V1222.31H253.34V1296.60M253.34 1296.60V1230.23H255.32V1296.60M255.32 1296.60V1222.00H257.31V1296.60M257.31 1296.60V1233.52H259.30V1296.60M259.30 1296.60V1207.75H261.28V1296.60M261.28 1296.60V1226.73H263.27V1296.60M263.27 1296.60V1233.53H265.25V1296.60M265.25 1296.60V1246.19H267.24V1296.60M267.24 1296.60V1221.05H269.23V1296.60M269.23 1296.60V1213.53H271.21V1296.60M271.21 1296.60V1247.10H273.20V1296.60M273.20 1296.60V1217.42H275.18V1296.60M275.18 1296.60V1222.52H277.17V1296.60M277.17 1296.60V1209.27H279.16V1296.60M279.16 1296.60V1218.18H281.14V1296.60M281.14 1296.60V1220.77H283.13V1296.60M283.13 1296.60V1219.58H285.11V1296.60M285.11 1296.60V1229.04H287.10V1296.60M287.10 1296.60V1227.20H289.09V1296.60M289.09 1296.60V1227.99H291.07V1296.60M291.07 1296.60V1235.47H293.06V1296.60M293.06 1296.60V1245.56H295.04V1296.60M295.04 1296.60V1228.68H297.03V1296.60M297.03 1296.60V1260.14H299.02V1296.60M299.02 1296.60V1293.62H301.00V1296.60M301.00 1296.60V1287.48H302.99V1296.60M302.99 1296.60V1282.41H304.97V1296.60M304.97 1296.60V1283.35H306.96V1296.60M306.96 1296.60V1281.56H308.95V1296.60M308.95 1296.60V1282.11H310.93V1296.60M310.93 1296.60V1258.62H312.92V1296.60M312.92 1296.60V1179.38H314.90V1296.60M314.90 1296.60V1232.79H316.89V1296.60M316.89 1296.60V1227.46H318.88V1296.60M318.88 1296.60V1213.99H320.86V1296.60M320.86 1296.60V1215.87H322.85V1296.60M322.85 1296.60V1219.63H324.83V1296.60M324.83 1296.60V1210.13H326.82V1296.60M326.82 1296.60V1229.36H328.81V1296.60M328.81 1296.60V1226.73H330.79V1296.60M330.79 1296.60V1235.29H332.78V1296.60M332.78 1296.60V1237.57H334.76V1296.60M334.76 1296.60V1218.87H336.75V1296.60M336.75 1296.60V1213.71H338.74V1296.60M338.74 1296.60V1221.18H340.72V1296.60M340.72 1296.60V1250.39H342.71V1296.60M342.71 1296.60V1239.37H344.69V1296.60M344.69 1296.60V1189.07H346.68V1296.60M346.68 1296.60V1232.14H348.67V1296.60M348.67 1296.60V1188.98H350.65V1296.60M350.65 1296.60V1222.20H352.64V1296.60M352.64 1296.60V1222.10H354.62V1296.60M354.62 1296.60V1213.53H356.61V1296.60M356.61 1296.60V1219.53H358.60V1296.60M358.60 1296.60V1239.21H360.58V1296.60M360.58 1296.60V1238.71H362.57V1296.60M362.57 1296.60V1267.56H364.55V1296.60M364.55 1296.60V1293.41H366.54V1296.60M366.54 1296.60V1289.04H368.53V1296.60M368.53 1296.60V1284.70H370.51V1296.60M370.51 1296.60V1282.51H372.50V1296.60M372.50 1296.60V1283.97H374.48V1296.60M374.48 1296.60V1257.97H376.47V1296.60M376.47 1296.60V1188.61H378.46V1296.60M378.46 1296.60V1248.58H380.44V1296.60M380.44 1296.60V1209.08H382.43V1296.60M382.43 1296.60V1225.32H384.41V1296.60M384.41 1296.60V1238.12H386.40V1296.60M386.40 1296.60V1232.53H388.39V1296.60M388.39 1296.60V1223.10H390.37V1296.60M390.37 1296.60V1213.53H392.36V1296.60M392.36 1296.60V1193.93H394.34V1296.60M394.34 1296.60V1223.39H396.33V1296.60M396.33 1296.60V1225.70H398.32V1296.60M398.32 1296.60V1207.84H400.30V1296.60M400.30 1296.60V1237.51H402.29V1296.60M402.29 1296.60V1236.01H404.27V1296.60M404.27 1296.60V1235.71H406.26V1296.60M406.26 1296.60V1224.36H408.25V1296.60M408.25 1296.60V1229.92H410.23V1296.60M410.23 1296.60V1228.76H412.22V1296.60M412.22 1296.60V1228.90H414.20V1296.60M414.20 1296.60V1226.98H416.19V1296.60M416.19 1296.60V1238.66H418.18V1296.60M418.18 1296.60V1224.33H420.16V1296.60M420.16 1296.60V1216.32H422.15V1296.60M422.15 1296.60V1227.84H424.13V1296.60M424.13 1296.60V1220.75H426.12V1296.60M426.12 1296.60V1270.24H428.11V1296.60M428.11 1296.60V1282.97H430.09V1296.60M430.09 1296.60V1282.09H432.08V1296.60M432.08 1296.60V1283.14H434.06V1296.60M434.06 1296.60V1280.93H436.05V1296.60M436.05 1296.60V1283.68H438.04V1296.60M438.04 1296.60V1283.68H440.02V1296.60M440.02 1296.60V1283.68H442.01V1296.60M442.01 1296.60V1294.29H443.99V1296.60M443.99 1296.60V1294.04H445.98V1296.60M451.94 1296.60V1295.80H453.92V1296.60M453.92 1296.60V1296.04H455.91V1296.60M455.91 1296.60V1294.71H457.90V1296.60M459.88 1296.60V1294.78H461.87V1296.60M461.87 1296.60V1294.25H463.85V1296.60M463.85 1296.60V1295.55H465.84V1296.60M465.84 1296.60V1294.54H467.83V1296.60M471.80 1296.60V1295.19H473.78V1296.60M473.78 1296.60V1292.23H475.77V1296.60M477.76 1296.60V1295.01H479.74V1296.60M483.71 1296.60V1295.09H485.70V1296.60M487.69 1296.60V1295.58H489.67V1296.60M491.66 1296.60V1295.23H493.64V1296.60M493.64 1296.60V1295.16H495.63V1296.60M495.63 1296.60V1296.06H497.62V1296.60M503.57 1296.60V1295.56H505.56V1296.60M507.55 1296.60V1295.08H509.53V1296.60M511.52 1296.60V1291.34H513.50V1296.60M517.48 1296.60V1295.21H519.46V1296.60M521.45 1296.60V1295.34H523.43V1296.60M531.38 1296.60V1290.93H533.36V1296.60M535.35 1296.60V1288.06H537.34V1296.60M537.34 1296.60V1295.34H539.32V1296.60M539.32 1296.60V1294.87H541.31V1296.60M541.31 1296.60V1295.67H543.29V1296.60M543.29 1296.60V1295.06H545.28V1296.60M545.28 1296.60V1295.10H547.27V1296.60M553.22 1296.60V1295.25H555.21V1296.60M555.21 1296.60V1294.54H557.20V1296.60M557.20 1296.60V1291.80H559.18V1296.60M559.18 1296.60V1295.71H561.17V1296.60M561.17 1296.60V1295.23H563.15V1296.60M567.13 1296.60V1295.31H569.11V1296.60M569.11 1296.60V1293.98H571.10V1296.60M571.10 1296.60V1288.17H573.08V1296.60M577.06 1296.60V1295.39H579.04V1296.60M579.04 1296.60V1293.21H581.03V1296.60M583.01 1296.60V1294.36H585.00V1296.60M586.99 1296.60V1295.23H588.97V1296.60M588.97 1296.60V1296.05H590.96V1296.60M590.96 1296.60V1294.76H592.94V1296.60M592.94 1296.60V1295.42H594.93V1296.60M594.93 1296.60V1289.82H596.92V1296.60M596.92 1296.60V1294.50H598.90V1296.60M598.90 1296.60V1294.47H600.89V1296.60M602.87 1296.60V1295.67H604.86V1296.60M604.86 1296.60V1294.50H606.85V1296.60M606.85 1296.60V1290.98H608.83V1296.60M610.82 1296.60V1295.46H612.80V1296.60M612.80 1296.60V1295.64H614.79V1296.60M614.79 1296.60V1296.08H616.78V1296.60M624.72 1296.60V1294.59H626.71V1296.60M628.69 1296.60V1294.55H630.68V1296.60M636.64 1296.60V1294.68H638.62V1296.60M638.62 1296.60V1295.15H640.61V1296.60M640.61 1296.60V1293.39H642.59V1296.60M642.59 1296.60V1291.40H644.58V1296.60M646.57 1296.60V1295.77H648.55V1296.60M648.55 1296.60V1290.32H650.54V1296.60M650.54 1296.60V1294.61H652.52V1296.60M652.52 1296.60V1295.93H654.51V1296.60M654.51 1296.60V1295.16H656.50V1296.60M656.50 1296.60V1294.79H658.48V1296.60M664.44 1296.60V1295.23H666.43V1296.60M666.43 1296.60V1293.37H668.41V1296.60M668.41 1296.60V1293.42H670.40V1296.60M674.37 1296.60V1291.43H676.36V1296.60M676.36 1296.60V1296.08H678.34V1296.60M678.34 1296.60V1294.08H680.33V1296.60M682.31 1296.60V1294.60H684.30V1296.60M684.30 1296.60V1295.06H686.29V1296.60M690.26 1296.60V1289.58H692.24V1296.60M700.19 1296.60V1290.77H702.17V1296.60M702.17 1296.60V1294.23H704.16V1296.60M706.15 1296.60V1287.11H708.13V1296.60M708.13 1296.60V1295.82H710.12V1296.60M712.10 1296.60V1295.31H714.09V1296.60M716.08 1296.60V1295.70H718.06V1296.60M718.06 1296.60V1294.57H720.05V1296.60M720.05 1296.60V1296.14H722.03V1296.60M724.02 1296.60V1292.07H726.01V1296.60M739.91 1296.60V1295.34H741.89V1296.60M743.88 1296.60V1294.49H745.87V1296.60M753.81 1296.60V1294.71H755.80V1296.60M759.77 1296.60V1291.72H761.75V1296.60M765.73 1296.60V1295.57H767.71V1296.60M767.71 1296.60V1295.73H769.70V1296.60M771.68 1296.60V1295.99H773.67V1296.60M773.67 1296.60V1295.90H775.66V1296.60M777.64 1296.60V1295.10H779.63V1296.60" fill="none" stroke="#000" stroke-width="0.25"/>
<line x1="436.05" y1="1296.60" x2="436.05" y2="1173.40" stroke="#000" stroke-width="3.1" stroke-dasharray="12.2 6.1"/>
<line x1="88.50" y1="1173.40" x2="88.50" y2="1297.35" stroke="#000" stroke-width="1.5"/>
<line x1="87.75" y1="1296.60" x2="784.35" y2="1296.60" stroke="#000" stroke-width="1.5"/>
<line x1="88.50" y1="1296.60" x2="88.50" y2="1305.60" stroke="#000" stroke-width="1.5"/>
<text x="88.50" y="1326.80" font-family="'Liberation Sans', Arial, sans-serif" font-size="23" text-anchor="middle">0</text>
<line x1="227.52" y1="1296.60" x2="227.52" y2="1305.60" stroke="#000" stroke-width="1.5"/>
<text x="227.52" y="1326.80" font-family="'Liberation Sans', Arial, sans-serif" font-size="23" text-anchor="middle">2000</text>
<line x1="366.54" y1="1296.60" x2="366.54" y2="1305.60" stroke="#000" stroke-width="1.5"/>
<text x="366.54" y="1326.80" font-family="'Liberation Sans', Arial, sans-serif" font-size="23" text-anchor="middle">4000</text>
<line x1="505.56" y1="1296.60" x2="505.56" y2="1305.60" stroke="#000" stroke-width="1.5"/>
<text x="505.56" y="1326.80" font-family="'Liberation Sans', Arial, sans-serif" font-size="23" text-anchor="middle">6000</text>
<line x1="644.58" y1="1296.60" x2="644.58" y2="1305.60" stroke="#000" stroke-width="1.5"/>
<text x="644.58" y="1326.80" font-family="'Liberation Sans', Arial, sans-serif" font-size="23" text-anchor="middle">8000</text>
<line x1="783.60" y1="1296.60" x2="783.60" y2="1305.60" stroke="#000" stroke-width="1.5"/>
<text x="783.60" y="1326.80" font-family="'Liberation Sans', Arial, sans-serif" font-size="23" text-anchor="middle">10000</text>
<line x1="79.50" y1="1296.60" x2="88.50" y2="1296.60" stroke="#000" stroke-width="1.6"/>
<text x="75" y="1304.50" font-family="'Liberation Sans', Arial, sans-serif" font-size="22" text-anchor="end">0</text>
<line x1="79.50" y1="1204.30" x2="88.50" y2="1204.30" stroke="#000" stroke-width="1.6"/>
<text x="75" y="1212.20" font-family="'Liberation Sans', Arial, sans-serif" font-size="22" text-anchor="end">100</text>
<text x="436.05" y="1166.80" font-family="'Liberation Sans', Arial, sans-serif" font-size="25.7" text-anchor="middle">Rate plot of BC</text>
<text transform="translate(27.1,1235.00) rotate(-90)" font-family="'Liberation Sans', Arial, sans-serif" font-size="25.7" text-anchor="middle">Rate(Hz)</text>
<path d="M88.50 1494.90V1459.81H90.49V1451.04H92.47V1459.81H94.46V1477.36H96.44V1451.04H98.43V1442.27H100.42V1486.13H102.40V1442.27H104.39V1494.90H106.37V1468.58H108.36V1415.95H110.35V1494.90H112.33V1477.36H114.32V1486.13H116.30V1486.13H118.29V1477.36H120.28V1442.27H122.26V1486.13H124.25V1477.36H126.23V1414.76H128.22V1459.81H130.21V1459.81H132.19V1442.27H134.18V1451.04H136.16V1442.27H138.15V1433.49H140.14V1451.04H142.12V1468.58H144.11V1486.13H146.09V1486.13H148.08V1494.90H150.07V1486.13H152.05V1477.36H154.04V1486.13H156.02V1442.27H158.01V1433.49H160.00V1477.36H161.98V1451.04H163.97V1423.42H165.95V1468.58H167.94V1477.36H169.93V1468.58H171.91V1424.72H173.90V1477.36H175.88V1442.27H177.87V1459.81H179.86V1451.04H181.84V1451.04H183.83V1433.49H185.81V1442.27H187.80V1477.36H189.79V1486.13H191.77V1451.04H193.76V1477.36H195.74V1477.36H197.73V1468.58H199.72V1468.58H201.70V1459.81H203.69V1468.58H205.67V1477.36H207.66V1477.36H209.65V1459.81H211.63V1459.81H213.62V1477.36H215.60V1468.58H217.59V1477.36H219.58V1486.13H221.56V1433.49H223.55V1451.04H225.53V1468.58H227.52V1459.81H229.51V1442.27H231.49V1468.58H233.48V1468.58H235.46V1468.58H237.45V1477.36H239.44V1423.42H241.42V1451.04H243.41V1468.58H245.39V1459.81H247.38V1433.49H249.37V1451.04H251.35V1459.81H253.34V1468.58H255.32V1459.81H257.31V1459.81H259.30V1459.81H261.28V1468.58H263.27V1459.81H265.25V1468.58H267.24V1459.81H269.23V1451.04H271.21V1451.04H273.20V1477.36H275.18V1477.36H277.17V1486.13H279.16V1468.58H281.14V1468.58H283.13V1459.81H285.11V1442.27H287.10V1459.81H289.09V1494.90H291.07V1433.49H293.06V1459.81H295.04V1468.58H297.03V1477.36H299.02V1477.36H301.00V1477.36H302.99V1442.27H304.97V1451.04H306.96V1477.36H308.95V1477.36H310.93V1415.95H312.92V1486.13H314.90V1433.49H316.89V1486.13H318.88V1477.36H320.86V1468.58H322.85V1477.36H324.83V1459.81H326.82V1468.58H328.81V1477.36H330.79V1486.13H332.78V1468.58H334.76V1407.18H336.75V1477.36H338.74V1477.36H340.72V1468.58H342.71V1451.04H344.69V1494.90H346.68V1442.27H348.67V1433.49H350.65V1468.58H352.64V1477.36H354.62V1459.81H356.61V1424.72H358.60V1451.04H360.58V1477.36H362.57V1468.58H364.55V1459.81H366.54V1477.36H368.53V1486.13H370.51V1477.36H372.50V1477.36H374.48V1451.04H376.47V1477.36H378.46V1486.13H380.44V1451.04H382.43V1459.81H384.41V1459.81H386.40V1477.36H388.39V1494.90H390.37V1451.04H392.36V1486.13H394.34V1468.58H396.33V1451.04H398.32V1398.40H400.30V1494.90H402.29V1459.81H404.27V1424.72H406.26V1468.58H408.25V1477.36H410.23V1468.58H412.22V1468.58H414.20V1486.13H416.19V1433.49H418.18V1442.27H420.16V1486.13H422.15V1451.04H424.13V1442.27H426.12V1468.58H428.11V1468.58H430.09V1459.81H432.08V1477.36H434.06V1459.81H436.05V1424.72H438.04V1442.27H440.02V1459.81H442.01V1477.36H443.99V1451.04H445.98V1424.72H447.97V1459.81H449.95V1442.27H451.94V1468.58H453.92V1459.81H455.91V1451.04H457.90V1398.40H459.88V1468.58H461.87V1442.27H463.85V1477.36H465.84V1477.36H467.83V1451.04H469.81V1424.72H471.80V1424.72H473.78V1486.13H475.77V1459.81H477.76V1442.27H479.74V1477.36H481.73V1442.27H483.71V1477.36H485.70V1477.36H487.69V1459.81H489.67V1459.81H491.66V1459.81H493.64V1477.36H495.63V1380.10H497.62V1442.27H499.60V1477.36H501.59V1459.81H503.57V1468.58H505.56V1451.04H507.55V1477.36H509.53V1459.81H511.52V1451.04H513.50V1468.58H515.49V1451.04H517.48V1442.27H519.46V1451.04H521.45V1459.81H523.43V1433.49H525.42V1442.27H527.41V1451.04H529.39V1459.81H531.38V1486.13H533.36V1433.49H535.35V1477.36H537.34V1486.13H539.32V1459.81H541.31V1459.81H543.29V1459.81H545.28V1468.58H547.27V1477.36H549.25V1459.81H551.24V1468.58H553.22V1486.13H555.21V1459.81H557.20V1459.81H559.18V1468.58H561.17V1459.81H563.15V1459.81H565.14V1486.13H567.13V1433.49H569.11V1433.49H571.10V1468.58H573.08V1459.81H575.07V1451.04H577.06V1468.58H579.04V1424.72H581.03V1459.81H583.01V1459.81H585.00V1468.58H586.99V1468.58H588.97V1442.27H590.96V1477.36H592.94V1451.04H594.93V1451.04H596.92V1442.27H598.90V1415.95H600.89V1451.04H602.87V1477.36H604.86V1424.72H606.85V1442.27H608.83V1468.58H610.82V1477.36H612.80V1477.36H614.79V1477.36H616.78V1494.90H618.76V1468.58H620.75V1442.27H622.73V1494.90H624.72V1424.72H626.71V1477.36H628.69V1459.81H630.68V1459.81H632.66V1468.58H634.65V1486.13H636.64V1433.49H638.62V1477.36H640.61V1433.49H642.59V1459.81H644.58V1442.27H646.57V1468.58H648.55V1477.36H650.54V1459.81H652.52V1433.49H654.51V1459.81H656.50V1468.58H658.48V1459.81H660.47V1477.36H662.45V1477.36H664.44V1442.27H666.43V1451.04H668.41V1477.36H670.40V1388.77H672.38V1415.95H674.37V1442.27H676.36V1451.04H678.34V1451.04H680.33V1468.58H682.31V1451.04H684.30V1442.27H686.29V1468.58H688.27V1477.36H690.26V1477.36H692.24V1459.81H694.23V1477.36H696.22V1477.36H698.20V1451.04H700.19V1486.13H702.17V1451.04H704.16V1468.58H706.15V1398.40H708.13V1424.72H710.12V1459.81H712.10V1486.13H714.09V1433.49H716.08V1477.36H718.06V1459.81H720.05V1459.81H722.03V1442.27H724.02V1442.27H726.01V1389.63H727.99V1442.27H729.98V1459.81H731.96V1459.81H733.95V1415.95H735.94V1451.04H737.92V1451.04H739.91V1442.27H741.89V1477.36H743.88V1459.81H745.87V1451.04H747.85V1398.40H749.84V1477.36H751.82V1459.81H753.81V1477.36H755.80V1459.81H757.78V1424.72H759.77V1433.49H761.75V1433.49H763.74V1451.04H765.73V1459.81H767.71V1468.58H769.70V1415.95H771.68V1477.36H773.67V1424.72H775.66V1459.81H777.64V1451.04H779.63V1468.58H781.61V1442.27H783.60V1494.90Z" fill="#e08592"/>
<path d="M88.50 1494.90V1459.81H90.49V1494.90M90.49 1494.90V1451.04H92.47V1494.90M92.47 1494.90V1459.81H94.46V1494.90M94.46 1494.90V1477.36H96.44V1494.90M96.44 1494.90V1451.04H98.43V1494.90M98.43 1494.90V1442.27H100.42V1494.90M100.42 1494.90V1486.13H102.40V1494.90M102.40 1494.90V1442.27H104.39V1494.90M106.37 1494.90V1468.58H108.36V1494.90M108.36 1494.90V1415.95H110.35V1494.90M112.33 1494.90V1477.36H114.32V1494.90M114.32 1494.90V1486.13H116.30V1494.90M116.30 1494.90V1486.13H118.29V1494.90M118.29 1494.90V1477.36H120.28V1494.90M120.28 1494.90V1442.27H122.26V1494.90M122.26 1494.90V1486.13H124.25V1494.90M124.25 1494.90V1477.36H126.23V1494.90M126.23 1494.90V1414.76H128.22V1494.90M128.22 1494.90V1459.81H130.21V1494.90M130.21 1494.90V1459.81H132.19V1494.90M132.19 1494.90V1442.27H134.18V1494.90M134.18 1494.90V1451.04H136.16V1494.90M136.16 1494.90V1442.27H138.15V1494.90M138.15 1494.90V1433.49H140.14V1494.90M140.14 1494.90V1451.04H142.12V1494.90M142.12 1494.90V1468.58H144.11V1494.90M144.11 1494.90V1486.13H146.09V1494.90M146.09 1494.90V1486.13H148.08V1494.90M150.07 1494.90V1486.13H152.05V1494.90M152.05 1494.90V1477.36H154.04V1494.90M154.04 1494.90V1486.13H156.02V1494.90M156.02 1494.90V1442.27H158.01V1494.90M158.01 1494.90V1433.49H160.00V1494.90M160.00 1494.90V1477.36H161.98V1494.90M161.98 1494.90V1451.04H163.97V1494.90M163.97 1494.90V1423.42H165.95V1494.90M165.95 1494.90V1468.58H167.94V1494.90M167.94 1494.90V1477.36H169.93V1494.90M169.93 1494.90V1468.58H171.91V1494.90M171.91 1494.90V1424.72H173.90V1494.90M173.90 1494.90V1477.36H175.88V1494.90M175.88 1494.90V1442.27H177.87V1494.90M177.87 1494.90V1459.81H179.86V1494.90M179.86 1494.90V1451.04H181.84V1494.90M181.84 1494.90V1451.04H183.83V1494.90M183.83 1494.90V1433.49H185.81V1494.90M185.81 1494.90V1442.27H187.80V1494.90M187.80 1494.90V1477.36H189.79V1494.90M189.79 1494.90V1486.13H191.77V1494.90M191.77 1494.90V1451.04H193.76V1494.90M193.76 1494.90V1477.36H195.74V1494.90M195.74 1494.90V1477.36H197.73V1494.90M197.73 1494.90V1468.58H199.72V1494.90M199.72 1494.90V1468.58H201.70V1494.90M201.70 1494.90V1459.81H203.69V1494.90M203.69 1494.90V1468.58H205.67V1494.90M205.67 1494.90V1477.36H207.66V1494.90M207.66 1494.90V1477.36H209.65V1494.90M209.65 1494.90V1459.81H211.63V1494.90M211.63 1494.90V1459.81H213.62V1494.90M213.62 1494.90V1477.36H215.60V1494.90M215.60 1494.90V1468.58H217.59V1494.90M217.59 1494.90V1477.36H219.58V1494.90M219.58 1494.90V1486.13H221.56V1494.90M221.56 1494.90V1433.49H223.55V1494.90M223.55 1494.90V1451.04H225.53V1494.90M225.53 1494.90V1468.58H227.52V1494.90M227.52 1494.90V1459.81H229.51V1494.90M229.51 1494.90V1442.27H231.49V1494.90M231.49 1494.90V1468.58H233.48V1494.90M233.48 1494.90V1468.58H235.46V1494.90M235.46 1494.90V1468.58H237.45V1494.90M237.45 1494.90V1477.36H239.44V1494.90M239.44 1494.90V1423.42H241.42V1494.90M241.42 1494.90V1451.04H243.41V1494.90M243.41 1494.90V1468.58H245.39V1494.90M245.39 1494.90V1459.81H247.38V1494.90M247.38 1494.90V1433.49H249.37V1494.90M249.37 1494.90V1451.04H251.35V1494.90M251.35 1494.90V1459.81H253.34V1494.90M253.34 1494.90V1468.58H255.32V1494.90M255.32 1494.90V1459.81H257.31V1494.90M257.31 1494.90V1459.81H259.30V1494.90M259.30 1494.90V1459.81H261.28V1494.90M261.28 1494.90V1468.58H263.27V1494.90M263.27 1494.90V1459.81H265.25V1494.90M265.25 1494.90V1468.58H267.24V1494.90M267.24 1494.90V1459.81H269.23V1494.90M269.23 1494.90V1451.04H271.21V1494.90M271.21 1494.90V1451.04H273.20V1494.90M273.20 1494.90V1477.36H275.18V1494.90M275.18 1494.90V1477.36H277.17V1494.90M277.17 1494.90V1486.13H279.16V1494.90M279.16 1494.90V1468.58H281.14V1494.90M281.14 1494.90V1468.58H283.13V1494.90M283.13 1494.90V1459.81H285.11V1494.90M285.11 1494.90V1442.27H287.10V1494.90M287.10 1494.90V1459.81H289.09V1494.90M291.07 1494.90V1433.49H293.06V1494.90M293.06 1494.90V1459.81H295.04V1494.90M295.04 1494.90V1468.58H297.03V1494.90M297.03 1494.90V1477.36H299.02V1494.90M299.02 1494.90V1477.36H301.00V1494.90M301.00 1494.90V1477.36H302.99V1494.90M302.99 1494.90V1442.27H304.97V1494.90M304.97 1494.90V1451.04H306.96V1494.90M306.96 1494.90V1477.36H308.95V1494.90M308.95 1494.90V1477.36H310.93V1494.90M310.93 1494.90V1415.95H312.92V1494.90M312.92 1494.90V1486.13H314.90V1494.90M314.90 1494.90V1433.49H316.89V1494.90M316.89 1494.90V1486.13H318.88V1494.90M318.88 1494.90V1477.36H320.86V1494.90M320.86 1494.90V1468.58H322.85V1494.90M322.85 1494.90V1477.36H324.83V1494.90M324.83 1494.90V1459.81H326.82V1494.90M326.82 1494.90V1468.58H328.81V1494.90M328.81 1494.90V1477.36H330.79V1494.90M330.79 1494.90V1486.13H332.78V1494.90M332.78 1494.90V1468.58H334.76V1494.90M334.76 1494.90V1407.18H336.75V1494.90M336.75 1494.90V1477.36H338.74V1494.90M338.74 1494.90V1477.36H340.72V1494.90M340.72 1494.90V1468.58H342.71V1494.90M342.71 1494.90V1451.04H344.69V1494.90M346.68 1494.90V1442.27H348.67V1494.90M348.67 1494.90V1433.49H350.65V1494.90M350.65 1494.90V1468.58H352.64V1494.90M352.64 1494.90V1477.36H354.62V1494.90M354.62 1494.90V1459.81H356.61V1494.90M356.61 1494.90V1424.72H358.60V1494.90M358.60 1494.90V1451.04H360.58V1494.90M360.58 1494.90V1477.36H362.57V1494.90M362.57 1494.90V1468.58H364.55V1494.90M364.55 1494.90V1459.81H366.54V1494.90M366.54 1494.90V1477.36H368.53V1494.90M368.53 1494.90V1486.13H370.51V1494.90M370.51 1494.90V1477.36H372.50V1494.90M372.50 1494.90V1477.36H374.48V1494.90M374.48 1494.90V1451.04H376.47V1494.90M376.47 1494.90V1477.36H378.46V1494.90M378.46 1494.90V1486.13H380.44V1494.90M380.44 1494.90V1451.04H382.43V1494.90M382.43 1494.90V1459.81H384.41V1494.90M384.41 1494.90V1459.81H386.40V1494.90M386.40 1494.90V1477.36H388.39V1494.90M390.37 1494.90V1451.04H392.36V1494.90M392.36 1494.90V1486.13H394.34V1494.90M394.34 1494.90V1468.58H396.33V1494.90M396.33 1494.90V1451.04H398.32V1494.90M398.32 1494.90V1398.40H400.30V1494.90M402.29 1494.90V1459.81H404.27V1494.90M404.27 1494.90V1424.72H406.26V1494.90M406.26 1494.90V1468.58H408.25V1494.90M408.25 1494.90V1477.36H410.23V1494.90M410.23 1494.90V1468.58H412.22V1494.90M412.22 1494.90V1468.58H414.20V1494.90M414.20 1494.90V1486.13H416.19V1494.90M416.19 1494.90V1433.49H418.18V1494.90M418.18 1494.90V1442.27H420.16V1494.90M420.16 1494.90V1486.13H422.15V1494.90M422.15 1494.90V1451.04H424.13V1494.90M424.13 1494.90V1442.27H426.12V1494.90M426.12 1494.90V1468.58H428.11V1494.90M428.11 1494.90V1468.58H430.09V1494.90M430.09 1494.90V1459.81H432.08V1494.90M432.08 1494.90V1477.36H434.06V1494.90M434.06 1494.90V1459.81H436.05V1494.90M436.05 1494.90V1424.72H438.04V1494.90M438.04 1494.90V1442.27H440.02V1494.90M440.02 1494.90V1459.81H442.01V1494.90M442.01 1494.90V1477.36H443.99V1494.90M443.99 1494.90V1451.04H445.98V1494.90M445.98 1494.90V1424.72H447.97V1494.90M447.97 1494.90V1459.81H449.95V1494.90M449.95 1494.90V1442.27H451.94V1494.90M451.94 1494.90V1468.58H453.92V1494.90M453.92 1494.90V1459.81H455.91V1494.90M455.91 1494.90V1451.04H457.90V1494.90M457.90 1494.90V1398.40H459.88V1494.90M459.88 1494.90V1468.58H461.87V1494.90M461.87 1494.90V1442.27H463.85V1494.90M463.85 1494.90V1477.36H465.84V1494.90M465.84 1494.90V1477.36H467.83V1494.90M467.83 1494.90V1451.04H469.81V1494.90M469.81 1494.90V1424.72H471.80V1494.90M471.80 1494.90V1424.72H473.78V1494.90M473.78 1494.90V1486.13H475.77V1494.90M475.77 1494.90V1459.81H477.76V1494.90M477.76 1494.90V1442.27H479.74V1494.90M479.74 1494.90V1477.36H481.73V1494.90M481.73 1494.90V1442.27H483.71V1494.90M483.71 1494.90V1477.36H485.70V1494.90M485.70 1494.90V1477.36H487.69V1494.90M487.69 1494.90V1459.81H489.67V1494.90M489.67 1494.90V1459.81H491.66V1494.90M491.66 1494.90V1459.81H493.64V1494.90M493.64 1494.90V1477.36H495.63V1494.90M495.63 1494.90V1380.10H497.62V1494.90M497.62 1494.90V1442.27H499.60V1494.90M499.60 1494.90V1477.36H501.59V1494.90M501.59 1494.90V1459.81H503.57V1494.90M503.57 1494.90V1468.58H505.56V1494.90M505.56 1494.90V1451.04H507.55V1494.90M507.55 1494.90V1477.36H509.53V1494.90M509.53 1494.90V1459.81H511.52V1494.90M511.52 1494.90V1451.04H513.50V1494.90M513.50 1494.90V1468.58H515.49V1494.90M515.49 1494.90V1451.04H517.48V1494.90M517.48 1494.90V1442.27H519.46V1494.90M519.46 1494.90V1451.04H521.45V1494.90M521.45 1494.90V1459.81H523.43V1494.90M523.43 1494.90V1433.49H525.42V1494.90M525.42 1494.90V1442.27H527.41V1494.90M527.41 1494.90V1451.04H529.39V1494.90M529.39 1494.90V1459.81H531.38V1494.90M531.38 1494.90V1486.13H533.36V1494.90M533.36 1494.90V1433.49H535.35V1494.90M535.35 1494.90V1477.36H537.34V1494.90M537.34 1494.90V1486.13H539.32V1494.90M539.32 1494.90V1459.81H541.31V1494.90M541.31 1494.90V1459.81H543.29V1494.90M543.29 1494.90V1459.81H545.28V1494.90M545.28 1494.90V1468.58H547.27V1494.90M547.27 1494.90V1477.36H549.25V1494.90M549.25 1494.90V1459.81H551.24V1494.90M551.24 1494.90V1468.58H553.22V1494.90M553.22 1494.90V1486.13H555.21V1494.90M555.21 1494.90V1459.81H557.20V1494.90M557.20 1494.90V1459.81H559.18V1494.90M559.18 1494.90V1468.58H561.17V1494.90M561.17 1494.90V1459.81H563.15V1494.90M563.15 1494.90V1459.81H565.14V1494.90M565.14 1494.90V1486.13H567.13V1494.90M567.13 1494.90V1433.49H569.11V1494.90M569.11 1494.90V1433.49H571.10V1494.90M571.10 1494.90V1468.58H573.08V1494.90M573.08 1494.90V1459.81H575.07V1494.90M575.07 1494.90V1451.04H577.06V1494.90M577.06 1494.90V1468.58H579.04V1494.90M579.04 1494.90V1424.72H581.03V1494.90M581.03 1494.90V1459.81H583.01V1494.90M583.01 1494.90V1459.81H585.00V1494.90M585.00 1494.90V1468.58H586.99V1494.90M586.99 1494.90V1468.58H588.97V1494.90M588.97 1494.90V1442.27H590.96V1494.90M590.96 1494.90V1477.36H592.94V1494.90M592.94 1494.90V1451.04H594.93V1494.90M594.93 1494.90V1451.04H596.92V1494.90M596.92 1494.90V1442.27H598.90V1494.90M598.90 1494.90V1415.95H600.89V1494.90M600.89 1494.90V1451.04H602.87V1494.90M602.87 1494.90V1477.36H604.86V1494.90M604.86 1494.90V1424.72H606.85V1494.90M606.85 1494.90V1442.27H608.83V1494.90M608.83 1494.90V1468.58H610.82V1494.90M610.82 1494.90V1477.36H612.80V1494.90M612.80 1494.90V1477.36H614.79V1494.90M614.79 1494.90V1477.36H616.78V1494.90M618.76 1494.90V1468.58H620.75V1494.90M620.75 1494.90V1442.27H622.73V1494.90M624.72 1494.90V1424.72H626.71V1494.90M626.71 1494.90V1477.36H628.69V1494.90M628.69 1494.90V1459.81H630.68V1494.90M630.68 1494.90V1459.81H632.66V1494.90M632.66 1494.90V1468.58H634.65V1494.90M634.65 1494.90V1486.13H636.64V1494.90M636.64 1494.90V1433.49H638.62V1494.90M638.62 1494.90V1477.36H640.61V1494.90M640.61 1494.90V1433.49H642.59V1494.90M642.59 1494.90V1459.81H644.58V1494.90M644.58 1494.90V1442.27H646.57V1494.90M646.57 1494.90V1468.58H648.55V1494.90M648.55 1494.90V1477.36H650.54V1494.90M650.54 1494.90V1459.81H652.52V1494.90M652.52 1494.90V1433.49H654.51V1494.90M654.51 1494.90V1459.81H656.50V1494.90M656.50 1494.90V1468.58H658.48V1494.90M658.48 1494.90V1459.81H660.47V1494.90M660.47 1494.90V1477.36H662.45V1494.90M662.45 1494.90V1477.36H664.44V1494.90M664.44 1494.90V1442.27H666.43V1494.90M666.43 1494.90V1451.04H668.41V1494.90M668.41 1494.90V1477.36H670.40V1494.90M670.40 1494.90V1388.77H672.38V1494.90M672.38 1494.90V1415.95H674.37V1494.90M674.37 1494.90V1442.27H676.36V1494.90M676.36 1494.90V1451.04H678.34V1494.90M678.34 1494.90V1451.04H680.33V1494.90M680.33 1494.90V1468.58H682.31V1494.90M682.31 1494.90V1451.04H684.30V1494.90M684.30 1494.90V1442.27H686.29V1494.90M686.29 1494.90V1468.58H688.27V1494.90M688.27 1494.90V1477.36H690.26V1494.90M690.26 1494.90V1477.36H692.24V1494.90M692.24 1494.90V1459.81H694.23V1494.90M694.23 1494.90V1477.36H696.22V1494.90M696.22 1494.90V1477.36H698.20V1494.90M698.20 1494.90V1451.04H700.19V1494.90M700.19 1494.90V1486.13H702.17V1494.90M702.17 1494.90V1451.04H704.16V1494.90M704.16 1494.90V1468.58H706.15V1494.90M706.15 1494.90V1398.40H708.13V1494.90M708.13 1494.90V1424.72H710.12V1494.90M710.12 1494.90V1459.81H712.10V1494.90M712.10 1494.90V1486.13H714.09V1494.90M714.09 1494.90V1433.49H716.08V1494.90M716.08 1494.90V1477.36H718.06V1494.90M718.06 1494.90V1459.81H720.05V1494.90M720.05 1494.90V1459.81H722.03V1494.90M722.03 1494.90V1442.27H724.02V1494.90M724.02 1494.90V1442.27H726.01V1494.90M726.01 1494.90V1389.63H727.99V1494.90M727.99 1494.90V1442.27H729.98V1494.90M729.98 1494.90V1459.81H731.96V1494.90M731.96 1494.90V1459.81H733.95V1494.90M733.95 1494.90V1415.95H735.94V1494.90M735.94 1494.90V1451.04H737.92V1494.90M737.92 1494.90V1451.04H739.91V1494.90M739.91 1494.90V1442.27H741.89V1494.90M741.89 1494.90V1477.36H743.88V1494.90M743.88 1494.90V1459.81H745.87V1494.90M745.87 1494.90V1451.04H747.85V1494.90M747.85 1494.90V1398.40H749.84V1494.90M749.84 1494.90V1477.36H751.82V1494.90M751.82 1494.90V1459.81H753.81V1494.90M753.81 1494.90V1477.36H755.80V1494.90M755.80 1494.90V1459.81H757.78V1494.90M757.78 1494.90V1424.72H759.77V1494.90M759.77 1494.90V1433.49H761.75V1494.90M761.75 1494.90V1433.49H763.74V1494.90M763.74 1494.90V1451.04H765.73V1494.90M765.73 1494.90V1459.81H767.71V1494.90M767.71 1494.90V1468.58H769.70V1494.90M769.70 1494.90V1415.95H771.68V1494.90M771.68 1494.90V1477.36H773.67V1494.90M773.67 1494.90V1424.72H775.66V1494.90M775.66 1494.90V1459.81H777.64V1494.90M777.64 1494.90V1451.04H779.63V1494.90M779.63 1494.90V1468.58H781.61V1494.90M781.61 1494.90V1442.27H783.60V1494.90" fill="none" stroke="#000" stroke-width="0.25"/>
<line x1="436.05" y1="1494.90" x2="436.05" y2="1371.70" stroke="#000" stroke-width="3.1" stroke-dasharray="12.2 6.1"/>
<line x1="88.50" y1="1371.70" x2="88.50" y2="1495.65" stroke="#000" stroke-width="1.5"/>
<line x1="87.75" y1="1494.90" x2="784.35" y2="1494.90" stroke="#000" stroke-width="1.5"/>
<line x1="88.50" y1="1494.90" x2="88.50" y2="1503.90" stroke="#000" stroke-width="1.5"/>
<text x="88.50" y="1525.10" font-family="'Liberation Sans', Arial, sans-serif" font-size="23" text-anchor="middle">0</text>
<line x1="227.52" y1="1494.90" x2="227.52" y2="1503.90" stroke="#000" stroke-width="1.5"/>
<text x="227.52" y="1525.10" font-family="'Liberation Sans', Arial, sans-serif" font-size="23" text-anchor="middle">2000</text>
<line x1="366.54" y1="1494.90" x2="366.54" y2="1503.90" stroke="#000" stroke-width="1.5"/>
<text x="366.54" y="1525.10" font-family="'Liberation Sans', Arial, sans-serif" font-size="23" text-anchor="middle">4000</text>
<line x1="505.56" y1="1494.90" x2="505.56" y2="1503.90" stroke="#000" stroke-width="1.5"/>
<text x="505.56" y="1525.10" font-family="'Liberation Sans', Arial, sans-serif" font-size="23" text-anchor="middle">6000</text>
<line x1="644.58" y1="1494.90" x2="644.58" y2="1503.90" stroke="#000" stroke-width="1.5"/>
<text x="644.58" y="1525.10" font-family="'Liberation Sans', Arial, sans-serif" font-size="23" text-anchor="middle">8000</text>
<line x1="783.60" y1="1494.90" x2="783.60" y2="1503.90" stroke="#000" stroke-width="1.5"/>
<text x="783.60" y="1525.10" font-family="'Liberation Sans', Arial, sans-serif" font-size="23" text-anchor="middle">10000</text>
<line x1="79.50" y1="1494.90" x2="88.50" y2="1494.90" stroke="#000" stroke-width="1.6"/>
<text x="75" y="1502.80" font-family="'Liberation Sans', Arial, sans-serif" font-size="22" text-anchor="end">0.0</text>
<line x1="79.50" y1="1386.60" x2="88.50" y2="1386.60" stroke="#000" stroke-width="1.6"/>
<text x="75" y="1394.50" font-family="'Liberation Sans', Arial, sans-serif" font-size="22" text-anchor="end">0.5</text>
<text x="436.05" y="1365.10" font-family="'Liberation Sans', Arial, sans-serif" font-size="25.7" text-anchor="middle">Rate plot of athorny PC</text>
<text transform="translate(33.9,1433.30) rotate(-90)" font-family="'Liberation Sans', Arial, sans-serif" font-size="25.7" text-anchor="middle">Rate(Hz)</text>
<text x="437.25" y="1552.8" font-family="'Liberation Sans', Arial, sans-serif" font-size="24.3" text-anchor="middle">Time(ms)</text>
<path d="M1032.70 901.50V897.32H1034.69V884.62H1036.68V878.32H1038.67V876.70H1040.67V880.58H1042.66V877.65H1044.65V874.35H1046.64V870.81H1048.63V871.93H1050.62V868.16H1052.61V869.69H1054.61V864.98H1056.60V860.71H1058.59V782.92H1060.58V810.38H1062.57V816.13H1064.56V813.25H1066.55V820.98H1068.55V815.29H1070.54V806.28H1072.53V818.58H1074.52V810.96H1076.51V790.71H1078.50V824.77H1080.49V842.71H1082.49V810.35H1084.48V812.92H1086.47V813.48H1088.46V852.76H1090.45V890.70H1092.44V879.35H1094.43V874.69H1096.43V872.46H1098.42V873.54H1100.41V871.67H1102.40V876.47H1104.39V863.61H1106.38V782.92H1108.37V802.46H1110.37V824.58H1112.36V838.19H1114.35V822.60H1116.34V800.14H1118.33V798.41H1120.32V801.06H1122.31V810.24H1124.31V793.08H1126.30V813.92H1128.29V809.29H1130.28V807.90H1132.27V845.98H1134.26V865.26H1136.25V892.29H1138.25V880.49H1140.24V875.27H1142.23V873.77H1144.22V877.48H1146.21V876.03H1148.20V870.50H1150.19V877.48H1152.19V856.86H1154.18V782.92H1156.17V802.29H1158.16V801.42H1160.15V787.28H1162.14V809.65H1164.13V824.77H1166.13V861.74H1168.12V892.18H1170.11V882.44H1172.10V872.74H1174.09V871.59H1176.08V874.88H1178.07V872.87H1180.07V874.97H1182.06V875.50H1184.05V870.89H1186.04V860.79H1188.03V782.92H1190.02V815.76H1192.01V810.13H1194.01V799.00H1196.00V793.78H1197.99V817.33H1199.98V816.43H1201.97V786.72H1203.96V801.06H1205.95V808.45H1207.95V812.50H1209.94V824.77H1211.93V823.77H1213.92V858.28H1215.91V891.18H1217.90V883.23H1219.89V873.01H1221.89V871.03H1223.88V871.26H1225.87V872.93H1227.86V873.85H1229.85V856.08H1231.84V782.92H1233.83V804.58H1235.83V812.11H1237.82V858.12H1239.81V892.80H1241.80V881.27H1243.79V873.35H1245.78V873.77H1247.77V877.31H1249.77V872.93H1251.76V874.27H1253.75V873.18H1255.74V873.18H1257.73V870.70H1259.72V876.45H1261.71V874.10H1263.71V847.93H1265.70V782.92H1267.69V814.62H1269.68V810.49H1271.67V801.06H1273.66V804.60H1275.65V808.45H1277.65V855.19H1279.64V889.81H1281.63V883.98H1283.62V871.14H1285.61V872.32H1287.60V875.72H1289.59V871.62H1291.59V874.21H1293.58V873.60H1295.57V871.17H1297.56V863.22H1299.55V782.92H1301.54V793.00H1303.53V817.86H1305.53V808.43H1307.52V803.88H1309.51V800.53H1311.50V801.06H1313.49V816.99H1315.48V810.66H1317.47V805.52H1319.47V809.04H1321.46V811.80H1323.45V815.60H1325.44V813.92H1327.43V837.13H1329.42V787.42H1331.41V852.93H1333.41V892.29H1335.40V883.31H1337.39V870.22H1339.38V872.46H1341.37V872.15H1343.36V874.91H1345.35V861.02H1347.35V782.92H1349.34V824.77H1351.33V809.90H1353.32V814.23H1355.31V806.00H1357.30V813.22H1359.29V801.06H1361.29V802.15H1363.28V813.39H1365.27V819.47H1367.26V806.25H1369.25V809.32H1371.24V818.05H1373.23V809.99H1375.23V801.67H1377.22V822.29H1379.21V864.95H1381.20V901.50H1383.19V901.50H1385.18V901.50H1387.17V901.50H1389.17V901.50H1391.16V901.50H1393.15V901.50H1395.14V901.50H1397.13V901.50H1399.12V901.50H1401.11V901.50H1403.11V901.50H1405.10V901.50H1407.09V901.50H1409.08V901.50H1411.07V901.50H1413.06V901.50H1415.05V901.50H1417.05V901.50H1419.04V901.50H1421.03V901.50H1423.02V901.50H1425.01V901.50H1427.00V901.50H1428.99V901.50H1430.99V901.50H1432.98V901.50H1434.97V901.50H1436.96V901.50H1438.95V901.50H1440.94V901.50H1442.93V901.50H1444.93V901.50H1446.92V901.50H1448.91V901.50H1450.90V901.50H1452.89V901.50H1454.88V901.50H1456.87V901.50H1458.87V901.50H1460.86V901.50H1462.85V901.50H1464.84V901.50H1466.83V901.50H1468.82V901.50H1470.81V901.50H1472.81V901.50H1474.80V901.50H1476.79V901.50H1478.78V901.50H1480.77V901.50H1482.76V901.50H1484.75V901.50H1486.75V901.50H1488.74V901.50H1490.73V901.50H1492.72V901.50H1494.71V901.50H1496.70V901.50H1498.69V901.50H1500.69V901.50H1502.68V901.50H1504.67V901.50H1506.66V901.50H1508.65V901.50H1510.64V901.50H1512.63V901.50H1514.63V901.50H1516.62V901.50H1518.61V901.50H1520.60V901.50H1522.59V901.50H1524.58V901.50H1526.57V901.50H1528.57V901.50H1530.56V901.50H1532.55V901.50H1534.54V901.50H1536.53V901.50H1538.52V901.50H1540.51V901.50H1542.51V901.50H1544.50V901.50H1546.49V901.50H1548.48V901.50H1550.47V901.50H1552.46V901.50H1554.45V901.50H1556.45V901.50H1558.44V901.50H1560.43V901.50H1562.42V901.50H1564.41V901.50H1566.40V901.50H1568.39V901.50H1570.39V901.50H1572.38V901.50H1574.37V901.50H1576.36V901.50H1578.35V901.50H1580.34V901.50H1582.33V901.50H1584.33V901.50H1586.32V901.50H1588.31V901.50H1590.30V901.50H1592.29V901.50H1594.28V901.50H1596.27V901.50H1598.27V901.50H1600.26V901.50H1602.25V901.50H1604.24V901.50H1606.23V901.50H1608.22V901.50H1610.21V901.50H1612.21V901.50H1614.20V901.50H1616.19V901.50H1618.18V901.50H1620.17V901.50H1622.16V901.50H1624.15V901.50H1626.15V901.50H1628.14V901.50H1630.13V901.50H1632.12V901.50H1634.11V901.50H1636.10V901.50H1638.09V901.50H1640.09V901.50H1642.08V901.50H1644.07V901.50H1646.06V901.50H1648.05V901.50H1650.04V901.50H1652.03V901.50H1654.03V901.50H1656.02V901.50H1658.01V901.50H1660.00V901.50H1661.99V901.50H1663.98V901.50H1665.97V901.50H1667.97V901.50H1669.96V901.50H1671.95V901.50H1673.94V901.50H1675.93V901.50H1677.92V901.50H1679.91V901.50H1681.91V901.50H1683.90V901.50H1685.89V901.50H1687.88V901.50H1689.87V901.50H1691.86V901.50H1693.85V901.50H1695.85V901.50H1697.84V901.50H1699.83V901.50H1701.82V901.50H1703.81V901.50H1705.80V901.50H1707.79V901.50H1709.79V901.50H1711.78V901.50H1713.77V901.50H1715.76V901.50H1717.75V901.50H1719.74V901.50H1721.73V901.50H1723.73V901.50H1725.72V901.50H1727.71V901.50H1729.70V901.50Z" fill="#1818d0"/>
<path d="M1032.70 901.50V897.32H1034.69V901.50M1034.69 901.50V884.62H1036.68V901.50M1036.68 901.50V878.32H1038.67V901.50M1038.67 901.50V876.70H1040.67V901.50M1040.67 901.50V880.58H1042.66V901.50M1042.66 901.50V877.65H1044.65V901.50M1044.65 901.50V874.35H1046.64V901.50M1046.64 901.50V870.81H1048.63V901.50M1048.63 901.50V871.93H1050.62V901.50M1050.62 901.50V868.16H1052.61V901.50M1052.61 901.50V869.69H1054.61V901.50M1054.61 901.50V864.98H1056.60V901.50M1056.60 901.50V860.71H1058.59V901.50M1058.59 901.50V782.92H1060.58V901.50M1060.58 901.50V810.38H1062.57V901.50M1062.57 901.50V816.13H1064.56V901.50M1064.56 901.50V813.25H1066.55V901.50M1066.55 901.50V820.98H1068.55V901.50M1068.55 901.50V815.29H1070.54V901.50M1070.54 901.50V806.28H1072.53V901.50M1072.53 901.50V818.58H1074.52V901.50M1074.52 901.50V810.96H1076.51V901.50M1076.51 901.50V790.71H1078.50V901.50M1078.50 901.50V824.77H1080.49V901.50M1080.49 901.50V842.71H1082.49V901.50M1082.49 901.50V810.35H1084.48V901.50M1084.48 901.50V812.92H1086.47V901.50M1086.47 901.50V813.48H1088.46V901.50M1088.46 901.50V852.76H1090.45V901.50M1090.45 901.50V890.70H1092.44V901.50M1092.44 901.50V879.35H1094.43V901.50M1094.43 901.50V874.69H1096.43V901.50M1096.43 901.50V872.46H1098.42V901.50M1098.42 901.50V873.54H1100.41V901.50M1100.41 901.50V871.67H1102.40V901.50M1102.40 901.50V876.47H1104.39V901.50M1104.39 901.50V863.61H1106.38V901.50M1106.38 901.50V782.92H1108.37V901.50M1108.37 901.50V802.46H1110.37V901.50M1110.37 901.50V824.58H1112.36V901.50M1112.36 901.50V838.19H1114.35V901.50M1114.35 901.50V822.60H1116.34V901.50M1116.34 901.50V800.14H1118.33V901.50M1118.33 901.50V798.41H1120.32V901.50M1120.32 901.50V801.06H1122.31V901.50M1122.31 901.50V810.24H1124.31V901.50M1124.31 901.50V793.08H1126.30V901.50M1126.30 901.50V813.92H1128.29V901.50M1128.29 901.50V809.29H1130.28V901.50M1130.28 901.50V807.90H1132.27V901.50M1132.27 901.50V845.98H1134.26V901.50M1134.26 901.50V865.26H1136.25V901.50M1136.25 901.50V892.29H1138.25V901.50M1138.25 901.50V880.49H1140.24V901.50M1140.24 901.50V875.27H1142.23V901.50M1142.23 901.50V873.77H1144.22V901.50M1144.22 901.50V877.48H1146.21V901.50M1146.21 901.50V876.03H1148.20V901.50M1148.20 901.50V870.50H1150.19V901.50M1150.19 901.50V877.48H1152.19V901.50M1152.19 901.50V856.86H1154.18V901.50M1154.18 901.50V782.92H1156.17V901.50M1156.17 901.50V802.29H1158.16V901.50M1158.16 901.50V801.42H1160.15V901.50M1160.15 901.50V787.28H1162.14V901.50M1162.14 901.50V809.65H1164.13V901.50M1164.13 901.50V824.77H1166.13V901.50M1166.13 901.50V861.74H1168.12V901.50M1168.12 901.50V892.18H1170.11V901.50M1170.11 901.50V882.44H1172.10V901.50M1172.10 901.50V872.74H1174.09V901.50M1174.09 901.50V871.59H1176.08V901.50M1176.08 901.50V874.88H1178.07V901.50M1178.07 901.50V872.87H1180.07V901.50M1180.07 901.50V874.97H1182.06V901.50M1182.06 901.50V875.50H1184.05V901.50M1184.05 901.50V870.89H1186.04V901.50M1186.04 901.50V860.79H1188.03V901.50M1188.03 901.50V782.92H1190.02V901.50M1190.02 901.50V815.76H1192.01V901.50M1192.01 901.50V810.13H1194.01V901.50M1194.01 901.50V799.00H1196.00V901.50M1196.00 901.50V793.78H1197.99V901.50M1197.99 901.50V817.33H1199.98V901.50M1199.98 901.50V816.43H1201.97V901.50M1201.97 901.50V786.72H1203.96V901.50M1203.96 901.50V801.06H1205.95V901.50M1205.95 901.50V808.45H1207.95V901.50M1207.95 901.50V812.50H1209.94V901.50M1209.94 901.50V824.77H1211.93V901.50M1211.93 901.50V823.77H1213.92V901.50M1213.92 901.50V858.28H1215.91V901.50M1215.91 901.50V891.18H1217.90V901.50M1217.90 901.50V883.23H1219.89V901.50M1219.89 901.50V873.01H1221.89V901.50M1221.89 901.50V871.03H1223.88V901.50M1223.88 901.50V871.26H1225.87V901.50M1225.87 901.50V872.93H1227.86V901.50M1227.86 901.50V873.85H1229.85V901.50M1229.85 901.50V856.08H1231.84V901.50M1231.84 901.50V782.92H1233.83V901.50M1233.83 901.50V804.58H1235.83V901.50M1235.83 901.50V812.11H1237.82V901.50M1237.82 901.50V858.12H1239.81V901.50M1239.81 901.50V892.80H1241.80V901.50M1241.80 901.50V881.27H1243.79V901.50M1243.79 901.50V873.35H1245.78V901.50M1245.78 901.50V873.77H1247.77V901.50M1247.77 901.50V877.31H1249.77V901.50M1249.77 901.50V872.93H1251.76V901.50M1251.76 901.50V874.27H1253.75V901.50M1253.75 901.50V873.18H1255.74V901.50M1255.74 901.50V873.18H1257.73V901.50M1257.73 901.50V870.70H1259.72V901.50M1259.72 901.50V876.45H1261.71V901.50M1261.71 901.50V874.10H1263.71V901.50M1263.71 901.50V847.93H1265.70V901.50M1265.70 901.50V782.92H1267.69V901.50M1267.69 901.50V814.62H1269.68V901.50M1269.68 901.50V810.49H1271.67V901.50M1271.67 901.50V801.06H1273.66V901.50M1273.66 901.50V804.60H1275.65V901.50M1275.65 901.50V808.45H1277.65V901.50M1277.65 901.50V855.19H1279.64V901.50M1279.64 901.50V889.81H1281.63V901.50M1281.63 901.50V883.98H1283.62V901.50M1283.62 901.50V871.14H1285.61V901.50M1285.61 901.50V872.32H1287.60V901.50M1287.60 901.50V875.72H1289.59V901.50M1289.59 901.50V871.62H1291.59V901.50M1291.59 901.50V874.21H1293.58V901.50M1293.58 901.50V873.60H1295.57V901.50M1295.57 901.50V871.17H1297.56V901.50M1297.56 901.50V863.22H1299.55V901.50M1299.55 901.50V782.92H1301.54V901.50M1301.54 901.50V793.00H1303.53V901.50M1303.53 901.50V817.86H1305.53V901.50M1305.53 901.50V808.43H1307.52V901.50M1307.52 901.50V803.88H1309.51V901.50M1309.51 901.50V800.53H1311.50V901.50M1311.50 901.50V801.06H1313.49V901.50M1313.49 901.50V816.99H1315.48V901.50M1315.48 901.50V810.66H1317.47V901.50M1317.47 901.50V805.52H1319.47V901.50M1319.47 901.50V809.04H1321.46V901.50M1321.46 901.50V811.80H1323.45V901.50M1323.45 901.50V815.60H1325.44V901.50M1325.44 901.50V813.92H1327.43V901.50M1327.43 901.50V837.13H1329.42V901.50M1329.42 901.50V787.42H1331.41V901.50M1331.41 901.50V852.93H1333.41V901.50M1333.41 901.50V892.29H1335.40V901.50M1335.40 901.50V883.31H1337.39V901.50M1337.39 901.50V870.22H1339.38V901.50M1339.38 901.50V872.46H1341.37V901.50M1341.37 901.50V872.15H1343.36V901.50M1343.36 901.50V874.91H1345.35V901.50M1345.35 901.50V861.02H1347.35V901.50M1347.35 901.50V782.92H1349.34V901.50M1349.34 901.50V824.77H1351.33V901.50M1351.33 901.50V809.90H1353.32V901.50M1353.32 901.50V814.23H1355.31V901.50M1355.31 901.50V806.00H1357.30V901.50M1357.30 901.50V813.22H1359.29V901.50M1359.29 901.50V801.06H1361.29V901.50M1361.29 901.50V802.15H1363.28V901.50M1363.28 901.50V813.39H1365.27V901.50M1365.27 901.50V819.47H1367.26V901.50M1367.26 901.50V806.25H1369.25V901.50M1369.25 901.50V809.32H1371.24V901.50M1371.24 901.50V818.05H1373.23V901.50M1373.23 901.50V809.99H1375.23V901.50M1375.23 901.50V801.67H1377.22V901.50M1377.22 901.50V822.29H1379.21V901.50M1379.21 901.50V864.95H1381.20V901.50" fill="none" stroke="#000" stroke-width="0.25"/>
<line x1="1381.20" y1="901.50" x2="1381.20" y2="774.60" stroke="#000" stroke-width="2.1" stroke-dasharray="8.1 4.35"/>
<line x1="1032.70" y1="774.60" x2="1032.70" y2="902.25" stroke="#000" stroke-width="1.5"/>
<line x1="1031.95" y1="901.50" x2="1730.45" y2="901.50" stroke="#000" stroke-width="1.5"/>
<line x1="1032.70" y1="901.50" x2="1032.70" y2="907.80" stroke="#000" stroke-width="1.5"/>
<text x="1032.70" y="929.00" font-family="'Liberation Sans', Arial, sans-serif" font-size="23" text-anchor="middle">0</text>
<line x1="1172.10" y1="901.50" x2="1172.10" y2="907.80" stroke="#000" stroke-width="1.5"/>
<text x="1172.10" y="929.00" font-family="'Liberation Sans', Arial, sans-serif" font-size="23" text-anchor="middle">2000</text>
<line x1="1311.50" y1="901.50" x2="1311.50" y2="907.80" stroke="#000" stroke-width="1.5"/>
<text x="1311.50" y="929.00" font-family="'Liberation Sans', Arial, sans-serif" font-size="23" text-anchor="middle">4000</text>
<line x1="1450.90" y1="901.50" x2="1450.90" y2="907.80" stroke="#000" stroke-width="1.5"/>
<text x="1450.90" y="929.00" font-family="'Liberation Sans', Arial, sans-serif" font-size="23" text-anchor="middle">6000</text>
<line x1="1590.30" y1="901.50" x2="1590.30" y2="907.80" stroke="#000" stroke-width="1.5"/>
<text x="1590.30" y="929.00" font-family="'Liberation Sans', Arial, sans-serif" font-size="23" text-anchor="middle">8000</text>
<line x1="1729.70" y1="901.50" x2="1729.70" y2="907.80" stroke="#000" stroke-width="1.5"/>
<text x="1729.70" y="929.00" font-family="'Liberation Sans', Arial, sans-serif" font-size="23" text-anchor="middle">10000</text>
<line x1="1025.50" y1="901.50" x2="1032.70" y2="901.50" stroke="#000" stroke-width="1.6"/>
<text x="1020.2" y="909.40" font-family="'Liberation Sans', Arial, sans-serif" font-size="22" text-anchor="end">0.0</text>
<line x1="1025.50" y1="831.75" x2="1032.70" y2="831.75" stroke="#000" stroke-width="1.6"/>
<text x="1020.2" y="839.65" font-family="'Liberation Sans', Arial, sans-serif" font-size="22" text-anchor="end">2.5</text>
<text x="1381.20" y="768.00" font-family="'Liberation Sans', Arial, sans-serif" font-size="25.7" text-anchor="middle">Rate plot of thorny PC</text>
<text transform="translate(980.6,838.05) rotate(-90)" font-family="'Liberation Sans', Arial, sans-serif" font-size="25.7" text-anchor="middle">Rate(Hz)</text>
<path d="M1032.70 1099.50V980.60H1034.69V1051.94H1036.68V1061.45H1038.67V1079.76H1040.67V1087.85H1042.66V1094.03H1044.65V1091.89H1046.64V1094.74H1048.63V1091.89H1050.62V1099.50H1052.61V1099.50H1054.61V1099.50H1056.60V1099.50H1058.59V1099.50H1060.58V1099.50H1062.57V1099.50H1064.56V1099.50H1066.55V1099.50H1068.55V1099.50H1070.54V1099.50H1072.53V1099.50H1074.52V1099.50H1076.51V1099.50H1078.50V1099.50H1080.49V1099.50H1082.49V1099.50H1084.48V1099.50H1086.47V1099.50H1088.46V1099.50H1090.45V1099.50H1092.44V1059.55H1094.43V1054.32H1096.43V1075.72H1098.42V1092.37H1100.41V1097.12H1102.40V1099.50H1104.39V1099.50H1106.38V1099.50H1108.37V1099.50H1110.37V1099.50H1112.36V1099.50H1114.35V1099.50H1116.34V1099.50H1118.33V1099.50H1120.32V1099.50H1122.31V1099.50H1124.31V1099.50H1126.30V1099.50H1128.29V1099.50H1130.28V1099.50H1132.27V1099.50H1134.26V1099.50H1136.25V1059.55H1138.25V1061.45H1140.24V1074.53H1142.23V1088.32H1144.22V1095.93H1146.21V1099.50H1148.20V1094.74H1150.19V1099.50H1152.19V1099.50H1154.18V1099.50H1156.17V1099.50H1158.16V1099.50H1160.15V1099.50H1162.14V1099.50H1164.13V1099.50H1166.13V1099.50H1168.12V1099.50H1170.11V1070.96H1172.10V1059.07H1174.09V1077.15H1176.08V1092.37H1178.07V1098.31H1180.07V1091.41H1182.06V1097.12H1184.05V1098.31H1186.04V1099.50H1188.03V1099.50H1190.02V1099.50H1192.01V1099.50H1194.01V1099.50H1196.00V1099.50H1197.99V1099.50H1199.98V1099.50H1201.97V1099.50H1203.96V1099.50H1205.95V1099.50H1207.95V1099.50H1209.94V1099.50H1211.93V1099.50H1213.92V1099.50H1215.91V1070.96H1217.90V1060.03H1219.89V1087.61H1221.89V1089.99H1223.88V1093.56H1225.87V1099.50H1227.86V1099.50H1229.85V1099.50H1231.84V1099.50H1233.83V1099.50H1235.83V1099.50H1237.82V1099.50H1239.81V1099.50H1241.80V1078.10H1243.79V1060.03H1245.78V1094.27H1247.77V1089.99H1249.77V1087.61H1251.76V1088.56H1253.75V1091.41H1255.74V1099.50H1257.73V1099.50H1259.72V1099.50H1261.71V1099.50H1263.71V1099.50H1265.70V1099.50H1267.69V1099.50H1269.68V1099.50H1271.67V1099.50H1273.66V1099.50H1275.65V1099.50H1277.65V1099.50H1279.64V1073.34H1281.63V1059.07H1283.62V1066.92H1285.61V1086.90H1287.60V1097.60H1289.59V1099.50H1291.59V1099.50H1293.58V1097.12H1295.57V1099.50H1297.56V1099.50H1299.55V1099.50H1301.54V1099.50H1303.53V1099.50H1305.53V1099.50H1307.52V1099.50H1309.51V1099.50H1311.50V1099.50H1313.49V1099.50H1315.48V1099.50H1317.47V1099.50H1319.47V1099.50H1321.46V1099.50H1323.45V1099.50H1325.44V1099.50H1327.43V1099.50H1329.42V1099.50H1331.41V1099.50H1333.41V1086.66H1335.40V1050.04H1337.39V1060.50H1339.38V1084.28H1341.37V1083.09H1343.36V1099.50H1345.35V1099.50H1347.35V1099.50H1349.34V1099.50H1351.33V1099.50H1353.32V1099.50H1355.31V1099.50H1357.30V1099.50H1359.29V1099.50H1361.29V1099.50H1363.28V1099.50H1365.27V1099.50H1367.26V1099.50H1369.25V1099.50H1371.24V1099.50H1373.23V1099.50H1375.23V1099.50H1377.22V1099.50H1379.21V1099.50H1381.20V1099.50H1383.19V1099.50H1385.18V1099.50H1387.17V1099.50H1389.17V1099.50H1391.16V1099.50H1393.15V1099.50H1395.14V1099.50H1397.13V1099.50H1399.12V1099.50H1401.11V1099.50H1403.11V1099.50H1405.10V1099.50H1407.09V1099.50H1409.08V1099.50H1411.07V1099.50H1413.06V1099.50H1415.05V1099.50H1417.05V1099.50H1419.04V1099.50H1421.03V1099.50H1423.02V1099.50H1425.01V1099.50H1427.00V1099.50H1428.99V1099.50H1430.99V1099.50H1432.98V1099.50H1434.97V1099.50H1436.96V1099.50H1438.95V1099.50H1440.94V1099.50H1442.93V1099.50H1444.93V1099.50H1446.92V1099.50H1448.91V1099.50H1450.90V1099.50H1452.89V1099.50H1454.88V1099.50H1456.87V1099.50H1458.87V1099.50H1460.86V1099.50H1462.85V1099.50H1464.84V1099.50H1466.83V1099.50H1468.82V1099.50H1470.81V1099.50H1472.81V1099.50H1474.80V1099.50H1476.79V1099.50H1478.78V1099.50H1480.77V1099.50H1482.76V1099.50H1484.75V1099.50H1486.75V1099.50H1488.74V1099.50H1490.73V1099.50H1492.72V1099.50H1494.71V1099.50H1496.70V1099.50H1498.69V1099.50H1500.69V1099.50H1502.68V1099.50H1504.67V1099.50H1506.66V1099.50H1508.65V1099.50H1510.64V1099.50H1512.63V1099.50H1514.63V1099.50H1516.62V1099.50H1518.61V1099.50H1520.60V1099.50H1522.59V1099.50H1524.58V1099.50H1526.57V1099.50H1528.57V1099.50H1530.56V1099.50H1532.55V1099.50H1534.54V1099.50H1536.53V1099.50H1538.52V1099.50H1540.51V1099.50H1542.51V1099.50H1544.50V1099.50H1546.49V1099.50H1548.48V1099.50H1550.47V1099.50H1552.46V1099.50H1554.45V1099.50H1556.45V1099.50H1558.44V1099.50H1560.43V1099.50H1562.42V1099.50H1564.41V1099.50H1566.40V1099.50H1568.39V1099.50H1570.39V1099.50H1572.38V1099.50H1574.37V1099.50H1576.36V1099.50H1578.35V1099.50H1580.34V1099.50H1582.33V1099.50H1584.33V1099.50H1586.32V1099.50H1588.31V1099.50H1590.30V1099.50H1592.29V1099.50H1594.28V1099.50H1596.27V1099.50H1598.27V1099.50H1600.26V1099.50H1602.25V1099.50H1604.24V1099.50H1606.23V1099.50H1608.22V1099.50H1610.21V1099.50H1612.21V1099.50H1614.20V1099.50H1616.19V1099.50H1618.18V1099.50H1620.17V1099.50H1622.16V1099.50H1624.15V1099.50H1626.15V1099.50H1628.14V1099.50H1630.13V1099.50H1632.12V1099.50H1634.11V1099.50H1636.10V1099.50H1638.09V1099.50H1640.09V1099.50H1642.08V1099.50H1644.07V1099.50H1646.06V1099.50H1648.05V1099.50H1650.04V1099.50H1652.03V1099.50H1654.03V1099.50H1656.02V1099.50H1658.01V1099.50H1660.00V1099.50H1661.99V1099.50H1663.98V1099.50H1665.97V1099.50H1667.97V1099.50H1669.96V1099.50H1671.95V1099.50H1673.94V1099.50H1675.93V1099.50H1677.92V1099.50H1679.91V1099.50H1681.91V1099.50H1683.90V1099.50H1685.89V1099.50H1687.88V1099.50H1689.87V1099.50H1691.86V1099.50H1693.85V1099.50H1695.85V1099.50H1697.84V1099.50H1699.83V1099.50H1701.82V1099.50H1703.81V1099.50H1705.80V1099.50H1707.79V1099.50H1709.79V1099.50H1711.78V1099.50H1713.77V1099.50H1715.76V1099.50H1717.75V1099.50H1719.74V1099.50H1721.73V1099.50H1723.73V1099.50H1725.72V1099.50H1727.71V1099.50H1729.70V1099.50Z" fill="#e6c450"/>
<path d="M1032.70 1099.50V980.60H1034.69V1099.50M1034.69 1099.50V1051.94H1036.68V1099.50M1036.68 1099.50V1061.45H1038.67V1099.50M1038.67 1099.50V1079.76H1040.67V1099.50M1040.67 1099.50V1087.85H1042.66V1099.50M1042.66 1099.50V1094.03H1044.65V1099.50M1044.65 1099.50V1091.89H1046.64V1099.50M1046.64 1099.50V1094.74H1048.63V1099.50M1048.63 1099.50V1091.89H1050.62V1099.50M1092.44 1099.50V1059.55H1094.43V1099.50M1094.43 1099.50V1054.32H1096.43V1099.50M1096.43 1099.50V1075.72H1098.42V1099.50M1098.42 1099.50V1092.37H1100.41V1099.50M1100.41 1099.50V1097.12H1102.40V1099.50M1136.25 1099.50V1059.55H1138.25V1099.50M1138.25 1099.50V1061.45H1140.24V1099.50M1140.24 1099.50V1074.53H1142.23V1099.50M1142.23 1099.50V1088.32H1144.22V1099.50M1144.22 1099.50V1095.93H1146.21V1099.50M1148.20 1099.50V1094.74H1150.19V1099.50M1170.11 1099.50V1070.96H1172.10V1099.50M1172.10 1099.50V1059.07H1174.09V1099.50M1174.09 1099.50V1077.15H1176.08V1099.50M1176.08 1099.50V1092.37H1178.07V1099.50M1178.07 1099.50V1098.31H1180.07V1099.50M1180.07 1099.50V1091.41H1182.06V1099.50M1182.06 1099.50V1097.12H1184.05V1099.50M1184.05 1099.50V1098.31H1186.04V1099.50M1215.91 1099.50V1070.96H1217.90V1099.50M1217.90 1099.50V1060.03H1219.89V1099.50M1219.89 1099.50V1087.61H1221.89V1099.50M1221.89 1099.50V1089.99H1223.88V1099.50M1223.88 1099.50V1093.56H1225.87V1099.50M1241.80 1099.50V1078.10H1243.79V1099.50M1243.79 1099.50V1060.03H1245.78V1099.50M1245.78 1099.50V1094.27H1247.77V1099.50M1247.77 1099.50V1089.99H1249.77V1099.50M1249.77 1099.50V1087.61H1251.76V1099.50M1251.76 1099.50V1088.56H1253.75V1099.50M1253.75 1099.50V1091.41H1255.74V1099.50M1279.64 1099.50V1073.34H1281.63V1099.50M1281.63 1099.50V1059.07H1283.62V1099.50M1283.62 1099.50V1066.92H1285.61V1099.50M1285.61 1099.50V1086.90H1287.60V1099.50M1287.60 1099.50V1097.60H1289.59V1099.50M1293.58 1099.50V1097.12H1295.57V1099.50M1333.41 1099.50V1086.66H1335.40V1099.50M1335.40 1099.50V1050.04H1337.39V1099.50M1337.39 1099.50V1060.50H1339.38V1099.50M1339.38 1099.50V1084.28H1341.37V1099.50M1341.37 1099.50V1083.09H1343.36V1099.50" fill="none" stroke="#000" stroke-width="0.25"/>
<line x1="1381.20" y1="1099.50" x2="1381.20" y2="973.90" stroke="#000" stroke-width="2.1" stroke-dasharray="8.1 4.35"/>
<line x1="1032.70" y1="973.90" x2="1032.70" y2="1100.25" stroke="#000" stroke-width="1.5"/>
<line x1="1031.95" y1="1099.50" x2="1730.45" y2="1099.50" stroke="#000" stroke-width="1.5"/>
<line x1="1032.70" y1="1099.50" x2="1032.70" y2="1105.80" stroke="#000" stroke-width="1.5"/>
<text x="1032.70" y="1127.00" font-family="'Liberation Sans', Arial, sans-serif" font-size="23" text-anchor="middle">0</text>
<line x1="1172.10" y1="1099.50" x2="1172.10" y2="1105.80" stroke="#000" stroke-width="1.5"/>
<text x="1172.10" y="1127.00" font-family="'Liberation Sans', Arial, sans-serif" font-size="23" text-anchor="middle">2000</text>
<line x1="1311.50" y1="1099.50" x2="1311.50" y2="1105.80" stroke="#000" stroke-width="1.5"/>
<text x="1311.50" y="1127.00" font-family="'Liberation Sans', Arial, sans-serif" font-size="23" text-anchor="middle">4000</text>
<line x1="1450.90" y1="1099.50" x2="1450.90" y2="1105.80" stroke="#000" stroke-width="1.5"/>
<text x="1450.90" y="1127.00" font-family="'Liberation Sans', Arial, sans-serif" font-size="23" text-anchor="middle">6000</text>
<line x1="1590.30" y1="1099.50" x2="1590.30" y2="1105.80" stroke="#000" stroke-width="1.5"/>
<text x="1590.30" y="1127.00" font-family="'Liberation Sans', Arial, sans-serif" font-size="23" text-anchor="middle">8000</text>
<line x1="1729.70" y1="1099.50" x2="1729.70" y2="1105.80" stroke="#000" stroke-width="1.5"/>
<text x="1729.70" y="1127.00" font-family="'Liberation Sans', Arial, sans-serif" font-size="23" text-anchor="middle">10000</text>
<line x1="1025.50" y1="1099.50" x2="1032.70" y2="1099.50" stroke="#000" stroke-width="1.6"/>
<text x="1020.2" y="1107.40" font-family="'Liberation Sans', Arial, sans-serif" font-size="22" text-anchor="end">0</text>
<line x1="1025.50" y1="980.60" x2="1032.70" y2="980.60" stroke="#000" stroke-width="1.6"/>
<text x="1020.2" y="988.50" font-family="'Liberation Sans', Arial, sans-serif" font-size="22" text-anchor="end">50</text>
<text x="1381.20" y="967.30" font-family="'Liberation Sans', Arial, sans-serif" font-size="25.7" text-anchor="middle">Rate plot of CCK</text>
<text transform="translate(987.4,1036.70) rotate(-90)" font-family="'Liberation Sans', Arial, sans-serif" font-size="25.7" text-anchor="middle">Rate(Hz)</text>
<path d="M1032.70 1298.40V1298.40H1034.69V1291.33H1036.68V1290.18H1038.67V1287.50H1040.67V1286.63H1042.66V1287.00H1044.65V1283.39H1046.64V1282.04H1048.63V1285.12H1050.62V1281.26H1052.61V1280.90H1054.61V1280.28H1056.60V1271.96H1058.59V1219.34H1060.58V1240.71H1062.57V1235.74H1064.56V1237.29H1066.55V1226.45H1068.55V1234.67H1070.54V1242.89H1072.53V1240.94H1074.52V1248.84H1076.51V1239.90H1078.50V1240.55H1080.49V1222.86H1082.49V1227.46H1084.48V1223.50H1086.47V1260.42H1088.46V1275.58H1090.45V1296.51H1092.44V1290.67H1094.43V1286.87H1096.43V1285.30H1098.42V1287.02H1100.41V1286.48H1102.40V1287.65H1104.39V1274.85H1106.38V1223.10H1108.37V1239.46H1110.37V1251.71H1112.36V1235.86H1114.35V1241.99H1116.34V1229.70H1118.33V1233.37H1120.32V1229.97H1122.31V1230.63H1124.31V1250.86H1126.30V1225.10H1128.29V1245.55H1130.28V1234.43H1132.27V1231.99H1134.26V1273.20H1136.25V1295.92H1138.25V1291.17H1140.24V1286.63H1142.23V1286.43H1144.22V1286.28H1146.21V1286.66H1148.20V1286.43H1150.19V1286.36H1152.19V1276.81H1154.18V1223.10H1156.17V1246.50H1158.16V1239.11H1160.15V1241.69H1162.14V1247.88H1164.13V1251.71H1166.13V1263.86H1168.12V1296.59H1170.11V1290.51H1172.10V1284.70H1174.09V1286.64H1176.08V1285.89H1178.07V1286.63H1180.07V1286.85H1182.06V1285.85H1184.05V1285.91H1186.04V1273.72H1188.03V1214.06H1190.02V1240.02H1192.01V1251.71H1194.01V1239.36H1196.00V1246.43H1197.99V1249.88H1199.98V1241.80H1201.97V1231.12H1203.96V1222.35H1205.95V1232.73H1207.95V1235.59H1209.94V1251.71H1211.93V1240.07H1213.92V1264.55H1215.91V1296.53H1217.90V1290.13H1219.89V1286.40H1221.89V1285.38H1223.88V1286.60H1225.87V1286.37H1227.86V1286.40H1229.85V1276.01H1231.84V1223.10H1233.83V1229.93H1235.83V1240.45H1237.82V1275.80H1239.81V1296.49H1241.80V1291.07H1243.79V1284.73H1245.78V1286.01H1247.77V1284.83H1249.77V1287.14H1251.76V1286.48H1253.75V1286.08H1255.74V1285.09H1257.73V1287.43H1259.72V1284.99H1261.71V1286.29H1263.71V1277.02H1265.70V1221.59H1267.69V1241.38H1269.68V1237.16H1271.67V1225.26H1273.66V1238.92H1275.65V1250.67H1277.65V1269.11H1279.64V1296.13H1281.63V1290.92H1283.62V1285.96H1285.61V1285.09H1287.60V1286.66H1289.59V1285.93H1291.59V1286.26H1293.58V1284.64H1295.57V1286.76H1297.56V1269.25H1299.55V1220.09H1301.54V1248.57H1303.53V1223.67H1305.53V1239.97H1307.52V1240.13H1309.51V1239.11H1311.50V1228.05H1313.49V1247.76H1315.48V1240.48H1317.47V1235.35H1319.47V1251.71H1321.46V1249.67H1323.45V1247.99H1325.44V1230.63H1327.43V1239.85H1329.42V1243.43H1331.41V1267.21H1333.41V1296.35H1335.40V1291.19H1337.39V1287.76H1339.38V1286.08H1341.37V1287.00H1343.36V1286.87H1345.35V1274.44H1347.35V1226.87H1349.34V1245.40H1351.33V1249.49H1353.32V1249.35H1355.31V1236.93H1357.30V1236.39H1359.29V1232.04H1361.29V1231.53H1363.28V1249.04H1365.27V1240.71H1367.26V1243.09H1369.25V1227.80H1371.24V1246.97H1373.23V1227.65H1375.23V1228.62H1377.22V1250.92H1379.21V1263.63H1381.20V1185.45H1383.19V1185.45H1385.18V1223.10H1387.17V1185.45H1389.17V1185.45H1391.16V1185.45H1393.15V1185.45H1395.14V1202.02H1397.13V1185.45H1399.12V1185.45H1401.11V1185.45H1403.11V1221.59H1405.10V1185.45H1407.09V1185.45H1409.08V1185.45H1411.07V1223.10H1413.06V1185.45H1415.05V1185.45H1417.05V1185.45H1419.04V1185.45H1421.03V1209.55H1423.02V1185.45H1425.01V1185.45H1427.00V1185.45H1428.99V1185.45H1430.99V1185.45H1432.98V1185.45H1434.97V1185.45H1436.96V1185.45H1438.95V1219.34H1440.94V1185.45H1442.93V1185.45H1444.93V1185.45H1446.92V1223.10H1448.91V1185.45H1450.90V1185.45H1452.89V1185.45H1454.88V1185.45H1456.87V1202.02H1458.87V1185.45H1460.86V1185.45H1462.85V1185.45H1464.84V1221.59H1466.83V1185.45H1468.82V1185.45H1470.81V1185.45H1472.81V1185.45H1474.80V1185.45H1476.79V1185.45H1478.78V1185.45H1480.77V1185.45H1482.76V1219.34H1484.75V1185.45H1486.75V1185.45H1488.74V1185.45H1490.73V1223.10H1492.72V1185.45H1494.71V1185.45H1496.70V1185.45H1498.69V1185.45H1500.69V1185.45H1502.68V1185.45H1504.67V1185.45H1506.66V1185.45H1508.65V1223.10H1510.64V1185.45H1512.63V1185.45H1514.63V1185.45H1516.62V1185.45H1518.61V1223.10H1520.60V1185.45H1522.59V1185.45H1524.58V1185.45H1526.57V1221.59H1528.57V1185.45H1530.56V1185.45H1532.55V1185.45H1534.54V1185.45H1536.53V1215.57H1538.52V1185.45H1540.51V1185.45H1542.51V1185.45H1544.50V1215.57H1546.49V1185.45H1548.48V1185.45H1550.47V1185.45H1552.46V1185.45H1554.45V1209.55H1556.45V1185.45H1558.44V1185.45H1560.43V1185.45H1562.42V1219.34H1564.41V1185.45H1566.40V1185.45H1568.39V1185.45H1570.39V1215.57H1572.38V1185.45H1574.37V1185.45H1576.36V1185.45H1578.35V1185.45H1580.34V1221.59H1582.33V1185.45H1584.33V1185.45H1586.32V1185.45H1588.31V1221.59H1590.30V1185.45H1592.29V1185.45H1594.28V1185.45H1596.27V1185.45H1598.27V1202.02H1600.26V1185.45H1602.25V1185.45H1604.24V1185.45H1606.23V1223.10H1608.22V1185.45H1610.21V1185.45H1612.21V1185.45H1614.20V1185.45H1616.19V1185.45H1618.18V1185.45H1620.17V1185.45H1622.16V1185.45H1624.15V1209.55H1626.15V1185.45H1628.14V1185.45H1630.13V1185.45H1632.12V1185.45H1634.11V1221.59H1636.10V1185.45H1638.09V1185.45H1640.09V1185.45H1642.08V1223.10H1644.07V1185.45H1646.06V1185.45H1648.05V1185.45H1650.04V1221.59H1652.03V1185.45H1654.03V1185.45H1656.02V1185.45H1658.01V1185.45H1660.00V1223.10H1661.99V1185.45H1663.98V1185.45H1665.97V1185.45H1667.97V1223.10H1669.96V1185.45H1671.95V1185.45H1673.94V1185.45H1675.93V1185.45H1677.92V1223.10H1679.91V1185.45H1681.91V1185.45H1683.90V1185.45H1685.89V1215.57H1687.88V1185.45H1689.87V1185.45H1691.86V1185.45H1693.85V1185.45H1695.85V1215.57H1697.84V1185.45H1699.83V1185.45H1701.82V1185.45H1703.81V1223.10H1705.80V1185.45H1707.79V1185.45H1709.79V1185.45H1711.78V1185.45H1713.77V1202.02H1715.76V1185.45H1717.75V1185.45H1719.74V1185.45H1721.73V1223.10H1723.73V1185.45H1725.72V1185.45H1727.71V1185.45H1729.70V1298.40Z" fill="#46b046"/>
<path d="M1034.69 1298.40V1291.33H1036.68V1298.40M1036.68 1298.40V1290.18H1038.67V1298.40M1038.67 1298.40V1287.50H1040.67V1298.40M1040.67 1298.40V1286.63H1042.66V1298.40M1042.66 1298.40V1287.00H1044.65V1298.40M1044.65 1298.40V1283.39H1046.64V1298.40M1046.64 1298.40V1282.04H1048.63V1298.40M1048.63 1298.40V1285.12H1050.62V1298.40M1050.62 1298.40V1281.26H1052.61V1298.40M1052.61 1298.40V1280.90H1054.61V1298.40M1054.61 1298.40V1280.28H1056.60V1298.40M1056.60 1298.40V1271.96H1058.59V1298.40M1058.59 1298.40V1219.34H1060.58V1298.40M1060.58 1298.40V1240.71H1062.57V1298.40M1062.57 1298.40V1235.74H1064.56V1298.40M1064.56 1298.40V1237.29H1066.55V1298.40M1066.55 1298.40V1226.45H1068.55V1298.40M1068.55 1298.40V1234.67H1070.54V1298.40M1070.54 1298.40V1242.89H1072.53V1298.40M1072.53 1298.40V1240.94H1074.52V1298.40M1074.52 1298.40V1248.84H1076.51V1298.40M1076.51 1298.40V1239.90H1078.50V1298.40M1078.50 1298.40V1240.55H1080.49V1298.40M1080.49 1298.40V1222.86H1082.49V1298.40M1082.49 1298.40V1227.46H1084.48V1298.40M1084.48 1298.40V1223.50H1086.47V1298.40M1086.47 1298.40V1260.42H1088.46V1298.40M1088.46 1298.40V1275.58H1090.45V1298.40M1090.45 1298.40V1296.51H1092.44V1298.40M1092.44 1298.40V1290.67H1094.43V1298.40M1094.43 1298.40V1286.87H1096.43V1298.40M1096.43 1298.40V1285.30H1098.42V1298.40M1098.42 1298.40V1287.02H1100.41V1298.40M1100.41 1298.40V1286.48H1102.40V1298.40M1102.40 1298.40V1287.65H1104.39V1298.40M1104.39 1298.40V1274.85H1106.38V1298.40M1106.38 1298.40V1223.10H1108.37V1298.40M1108.37 1298.40V1239.46H1110.37V1298.40M1110.37 1298.40V1251.71H1112.36V1298.40M1112.36 1298.40V1235.86H1114.35V1298.40M1114.35 1298.40V1241.99H1116.34V1298.40M1116.34 1298.40V1229.70H1118.33V1298.40M1118.33 1298.40V1233.37H1120.32V1298.40M1120.32 1298.40V1229.97H1122.31V1298.40M1122.31 1298.40V1230.63H1124.31V1298.40M1124.31 1298.40V1250.86H1126.30V1298.40M1126.30 1298.40V1225.10H1128.29V1298.40M1128.29 1298.40V1245.55H1130.28V1298.40M1130.28 1298.40V1234.43H1132.27V1298.40M1132.27 1298.40V1231.99H1134.26V1298.40M1134.26 1298.40V1273.20H1136.25V1298.40M1136.25 1298.40V1295.92H1138.25V1298.40M1138.25 1298.40V1291.17H1140.24V1298.40M1140.24 1298.40V1286.63H1142.23V1298.40M1142.23 1298.40V1286.43H1144.22V1298.40M1144.22 1298.40V1286.28H1146.21V1298.40M1146.21 1298.40V1286.66H1148.20V1298.40M1148.20 1298.40V1286.43H1150.19V1298.40M1150.19 1298.40V1286.36H1152.19V1298.40M1152.19 1298.40V1276.81H1154.18V1298.40M1154.18 1298.40V1223.10H1156.17V1298.40M1156.17 1298.40V1246.50H1158.16V1298.40M1158.16 1298.40V1239.11H1160.15V1298.40M1160.15 1298.40V1241.69H1162.14V1298.40M1162.14 1298.40V1247.88H1164.13V1298.40M1164.13 1298.40V1251.71H1166.13V1298.40M1166.13 1298.40V1263.86H1168.12V1298.40M1168.12 1298.40V1296.59H1170.11V1298.40M1170.11 1298.40V1290.51H1172.10V1298.40M1172.10 1298.40V1284.70H1174.09V1298.40M1174.09 1298.40V1286.64H1176.08V1298.40M1176.08 1298.40V1285.89H1178.07V1298.40M1178.07 1298.40V1286.63H1180.07V1298.40M1180.07 1298.40V1286.85H1182.06V1298.40M1182.06 1298.40V1285.85H1184.05V1298.40M1184.05 1298.40V1285.91H1186.04V1298.40M1186.04 1298.40V1273.72H1188.03V1298.40M1188.03 1298.40V1214.06H1190.02V1298.40M1190.02 1298.40V1240.02H1192.01V1298.40M1192.01 1298.40V1251.71H1194.01V1298.40M1194.01 1298.40V1239.36H1196.00V1298.40M1196.00 1298.40V1246.43H1197.99V1298.40M1197.99 1298.40V1249.88H1199.98V1298.40M1199.98 1298.40V1241.80H1201.97V1298.40M1201.97 1298.40V1231.12H1203.96V1298.40M1203.96 1298.40V1222.35H1205.95V1298.40M1205.95 1298.40V1232.73H1207.95V1298.40M1207.95 1298.40V1235.59H1209.94V1298.40M1209.94 1298.40V1251.71H1211.93V1298.40M1211.93 1298.40V1240.07H1213.92V1298.40M1213.92 1298.40V1264.55H1215.91V1298.40M1215.91 1298.40V1296.53H1217.90V1298.40M1217.90 1298.40V1290.13H1219.89V1298.40M1219.89 1298.40V1286.40H1221.89V1298.40M1221.89 1298.40V1285.38H1223.88V1298.40M1223.88 1298.40V1286.60H1225.87V1298.40M1225.87 1298.40V1286.37H1227.86V1298.40M1227.86 1298.40V1286.40H1229.85V1298.40M1229.85 1298.40V1276.01H1231.84V1298.40M1231.84 1298.40V1223.10H1233.83V1298.40M1233.83 1298.40V1229.93H1235.83V1298.40M1235.83 1298.40V1240.45H1237.82V1298.40M1237.82 1298.40V1275.80H1239.81V1298.40M1239.81 1298.40V1296.49H1241.80V1298.40M1241.80 1298.40V1291.07H1243.79V1298.40M1243.79 1298.40V1284.73H1245.78V1298.40M1245.78 1298.40V1286.01H1247.77V1298.40M1247.77 1298.40V1284.83H1249.77V1298.40M1249.77 1298.40V1287.14H1251.76V1298.40M1251.76 1298.40V1286.48H1253.75V1298.40M1253.75 1298.40V1286.08H1255.74V1298.40M1255.74 1298.40V1285.09H1257.73V1298.40M1257.73 1298.40V1287.43H1259.72V1298.40M1259.72 1298.40V1284.99H1261.71V1298.40M1261.71 1298.40V1286.29H1263.71V1298.40M1263.71 1298.40V1277.02H1265.70V1298.40M1265.70 1298.40V1221.59H1267.69V1298.40M1267.69 1298.40V1241.38H1269.68V1298.40M1269.68 1298.40V1237.16H1271.67V1298.40M1271.67 1298.40V1225.26H1273.66V1298.40M1273.66 1298.40V1238.92H1275.65V1298.40M1275.65 1298.40V1250.67H1277.65V1298.40M1277.65 1298.40V1269.11H1279.64V1298.40M1279.64 1298.40V1296.13H1281.63V1298.40M1281.63 1298.40V1290.92H1283.62V1298.40M1283.62 1298.40V1285.96H1285.61V1298.40M1285.61 1298.40V1285.09H1287.60V1298.40M1287.60 1298.40V1286.66H1289.59V1298.40M1289.59 1298.40V1285.93H1291.59V1298.40M1291.59 1298.40V1286.26H1293.58V1298.40M1293.58 1298.40V1284.64H1295.57V1298.40M1295.57 1298.40V1286.76H1297.56V1298.40M1297.56 1298.40V1269.25H1299.55V1298.40M1299.55 1298.40V1220.09H1301.54V1298.40M1301.54 1298.40V1248.57H1303.53V1298.40M1303.53 1298.40V1223.67H1305.53V1298.40M1305.53 1298.40V1239.97H1307.52V1298.40M1307.52 1298.40V1240.13H1309.51V1298.40M1309.51 1298.40V1239.11H1311.50V1298.40M1311.50 1298.40V1228.05H1313.49V1298.40M1313.49 1298.40V1247.76H1315.48V1298.40M1315.48 1298.40V1240.48H1317.47V1298.40M1317.47 1298.40V1235.35H1319.47V1298.40M1319.47 1298.40V1251.71H1321.46V1298.40M1321.46 1298.40V1249.67H1323.45V1298.40M1323.45 1298.40V1247.99H1325.44V1298.40M1325.44 1298.40V1230.63H1327.43V1298.40M1327.43 1298.40V1239.85H1329.42V1298.40M1329.42 1298.40V1243.43H1331.41V1298.40M1331.41 1298.40V1267.21H1333.41V1298.40M1333.41 1298.40V1296.35H1335.40V1298.40M1335.40 1298.40V1291.19H1337.39V1298.40M1337.39 1298.40V1287.76H1339.38V1298.40M1339.38 1298.40V1286.08H1341.37V1298.40M1341.37 1298.40V1287.00H1343.36V1298.40M1343.36 1298.40V1286.87H1345.35V1298.40M1345.35 1298.40V1274.44H1347.35V1298.40M1347.35 1298.40V1226.87H1349.34V1298.40M1349.34 1298.40V1245.40H1351.33V1298.40M1351.33 1298.40V1249.49H1353.32V1298.40M1353.32 1298.40V1249.35H1355.31V1298.40M1355.31 1298.40V1236.93H1357.30V1298.40M1357.30 1298.40V1236.39H1359.29V1298.40M1359.29 1298.40V1232.04H1361.29V1298.40M1361.29 1298.40V1231.53H1363.28V1298.40M1363.28 1298.40V1249.04H1365.27V1298.40M1365.27 1298.40V1240.71H1367.26V1298.40M1367.26 1298.40V1243.09H1369.25V1298.40M1369.25 1298.40V1227.80H1371.24V1298.40M1371.24 1298.40V1246.97H1373.23V1298.40M1373.23 1298.40V1227.65H1375.23V1298.40M1375.23 1298.40V1228.62H1377.22V1298.40M1377.22 1298.40V1250.92H1379.21V1298.40M1379.21 1298.40V1263.63H1381.20V1298.40M1381.20 1298.40V1185.45H1383.19V1298.40M1383.19 1298.40V1185.45H1385.18V1298.40M1385.18 1298.40V1223.10H1387.17V1298.40M1387.17 1298.40V1185.45H1389.17V1298.40M1389.17 1298.40V1185.45H1391.16V1298.40M1391.16 1298.40V1185.45H1393.15V1298.40M1393.15 1298.40V1185.45H1395.14V1298.40M1395.14 1298.40V1202.02H1397.13V1298.40M1397.13 1298.40V1185.45H1399.12V1298.40M1399.12 1298.40V1185.45H1401.11V1298.40M1401.11 1298.40V1185.45H1403.11V1298.40M1403.11 1298.40V1221.59H1405.10V1298.40M1405.10 1298.40V1185.45H1407.09V1298.40M1407.09 1298.40V1185.45H1409.08V1298.40M1409.08 1298.40V1185.45H1411.07V1298.40M1411.07 1298.40V1223.10H1413.06V1298.40M1413.06 1298.40V1185.45H1415.05V1298.40M1415.05 1298.40V1185.45H1417.05V1298.40M1417.05 1298.40V1185.45H1419.04V1298.40M1419.04 1298.40V1185.45H1421.03V1298.40M1421.03 1298.40V1209.55H1423.02V1298.40M1423.02 1298.40V1185.45H1425.01V1298.40M1425.01 1298.40V1185.45H1427.00V1298.40M1427.00 1298.40V1185.45H1428.99V1298.40M1428.99 1298.40V1185.45H1430.99V1298.40M1430.99 1298.40V1185.45H1432.98V1298.40M1432.98 1298.40V1185.45H1434.97V1298.40M1434.97 1298.40V1185.45H1436.96V1298.40M1436.96 1298.40V1185.45H1438.95V1298.40M1438.95 1298.40V1219.34H1440.94V1298.40M1440.94 1298.40V1185.45H1442.93V1298.40M1442.93 1298.40V1185.45H1444.93V1298.40M1444.93 1298.40V1185.45H1446.92V1298.40M1446.92 1298.40V1223.10H1448.91V1298.40M1448.91 1298.40V1185.45H1450.90V1298.40M1450.90 1298.40V1185.45H1452.89V1298.40M1452.89 1298.40V1185.45H1454.88V1298.40M1454.88 1298.40V1185.45H1456.87V1298.40M1456.87 1298.40V1202.02H1458.87V1298.40M1458.87 1298.40V1185.45H1460.86V1298.40M1460.86 1298.40V1185.45H1462.85V1298.40M1462.85 1298.40V1185.45H1464.84V1298.40M1464.84 1298.40V1221.59H1466.83V1298.40M1466.83 1298.40V1185.45H1468.82V1298.40M1468.82 1298.40V1185.45H1470.81V1298.40M1470.81 1298.40V1185.45H1472.81V1298.40M1472.81 1298.40V1185.45H1474.80V1298.40M1474.80 1298.40V1185.45H1476.79V1298.40M1476.79 1298.40V1185.45H1478.78V1298.40M1478.78 1298.40V1185.45H1480.77V1298.40M1480.77 1298.40V1185.45H1482.76V1298.40M1482.76 1298.40V1219.34H1484.75V1298.40M1484.75 1298.40V1185.45H1486.75V1298.40M1486.75 1298.40V1185.45H1488.74V1298.40M1488.74 1298.40V1185.45H1490.73V1298.40M1490.73 1298.40V1223.10H1492.72V1298.40M1492.72 1298.40V1185.45H1494.71V1298.40M1494.71 1298.40V1185.45H1496.70V1298.40M1496.70 1298.40V1185.45H1498.69V1298.40M1498.69 1298.40V1185.45H1500.69V1298.40M1500.69 1298.40V1185.45H1502.68V1298.40M1502.68 1298.40V1185.45H1504.67V1298.40M1504.67 1298.40V1185.45H1506.66V1298.40M1506.66 1298.40V1185.45H1508.65V1298.40M1508.65 1298.40V1223.10H1510.64V1298.40M1510.64 1298.40V1185.45H1512.63V1298.40M1512.63 1298.40V1185.45H1514.63V1298.40M1514.63 1298.40V1185.45H1516.62V1298.40M1516.62 1298.40V1185.45H1518.61V1298.40M1518.61 1298.40V1223.10H1520.60V1298.40M1520.60 1298.40V1185.45H1522.59V1298.40M1522.59 1298.40V1185.45H1524.58V1298.40M1524.58 1298.40V1185.45H1526.57V1298.40M1526.57 1298.40V1221.59H1528.57V1298.40M1528.57 1298.40V1185.45H1530.56V1298.40M1530.56 1298.40V1185.45H1532.55V1298.40M1532.55 1298.40V1185.45H1534.54V1298.40M1534.54 1298.40V1185.45H1536.53V1298.40M1536.53 1298.40V1215.57H1538.52V1298.40M1538.52 1298.40V1185.45H1540.51V1298.40M1540.51 1298.40V1185.45H1542.51V1298.40M1542.51 1298.40V1185.45H1544.50V1298.40M1544.50 1298.40V1215.57H1546.49V1298.40M1546.49 1298.40V1185.45H1548.48V1298.40M1548.48 1298.40V1185.45H1550.47V1298.40M1550.47 1298.40V1185.45H1552.46V1298.40M1552.46 1298.40V1185.45H1554.45V1298.40M1554.45 1298.40V1209.55H1556.45V1298.40M1556.45 1298.40V1185.45H1558.44V1298.40M1558.44 1298.40V1185.45H1560.43V1298.40M1560.43 1298.40V1185.45H1562.42V1298.40M1562.42 1298.40V1219.34H1564.41V1298.40M1564.41 1298.40V1185.45H1566.40V1298.40M1566.40 1298.40V1185.45H1568.39V1298.40M1568.39 1298.40V1185.45H1570.39V1298.40M1570.39 1298.40V1215.57H1572.38V1298.40M1572.38 1298.40V1185.45H1574.37V1298.40M1574.37 1298.40V1185.45H1576.36V1298.40M1576.36 1298.40V1185.45H1578.35V1298.40M1578.35 1298.40V1185.45H1580.34V1298.40M1580.34 1298.40V1221.59H1582.33V1298.40M1582.33 1298.40V1185.45H1584.33V1298.40M1584.33 1298.40V1185.45H1586.32V1298.40M1586.32 1298.40V1185.45H1588.31V1298.40M1588.31 1298.40V1221.59H1590.30V1298.40M1590.30 1298.40V1185.45H1592.29V1298.40M1592.29 1298.40V1185.45H1594.28V1298.40M1594.28 1298.40V1185.45H1596.27V1298.40M1596.27 1298.40V1185.45H1598.27V1298.40M1598.27 1298.40V1202.02H1600.26V1298.40M1600.26 1298.40V1185.45H1602.25V1298.40M1602.25 1298.40V1185.45H1604.24V1298.40M1604.24 1298.40V1185.45H1606.23V1298.40M1606.23 1298.40V1223.10H1608.22V1298.40M1608.22 1298.40V1185.45H1610.21V1298.40M1610.21 1298.40V1185.45H1612.21V1298.40M1612.21 1298.40V1185.45H1614.20V1298.40M1614.20 1298.40V1185.45H1616.19V1298.40M1616.19 1298.40V1185.45H1618.18V1298.40M1618.18 1298.40V1185.45H1620.17V1298.40M1620.17 1298.40V1185.45H1622.16V1298.40M1622.16 1298.40V1185.45H1624.15V1298.40M1624.15 1298.40V1209.55H1626.15V1298.40M1626.15 1298.40V1185.45H1628.14V1298.40M1628.14 1298.40V1185.45H1630.13V1298.40M1630.13 1298.40V1185.45H1632.12V1298.40M1632.12 1298.40V1185.45H1634.11V1298.40M1634.11 1298.40V1221.59H1636.10V1298.40M1636.10 1298.40V1185.45H1638.09V1298.40M1638.09 1298.40V1185.45H1640.09V1298.40M1640.09 1298.40V1185.45H1642.08V1298.40M1642.08 1298.40V1223.10H1644.07V1298.40M1644.07 1298.40V1185.45H1646.06V1298.40M1646.06 1298.40V1185.45H1648.05V1298.40M1648.05 1298.40V1185.45H1650.04V1298.40M1650.04 1298.40V1221.59H1652.03V1298.40M1652.03 1298.40V1185.45H1654.03V1298.40M1654.03 1298.40V1185.45H1656.02V1298.40M1656.02 1298.40V1185.45H1658.01V1298.40M1658.01 1298.40V1185.45H1660.00V1298.40M1660.00 1298.40V1223.10H1661.99V1298.40M1661.99 1298.40V1185.45H1663.98V1298.40M1663.98 1298.40V1185.45H1665.97V1298.40M1665.97 1298.40V1185.45H1667.97V1298.40M1667.97 1298.40V1223.10H1669.96V1298.40M1669.96 1298.40V1185.45H1671.95V1298.40M1671.95 1298.40V1185.45H1673.94V1298.40M1673.94 1298.40V1185.45H1675.93V1298.40M1675.93 1298.40V1185.45H1677.92V1298.40M1677.92 1298.40V1223.10H1679.91V1298.40M1679.91 1298.40V1185.45H1681.91V1298.40M1681.91 1298.40V1185.45H1683.90V1298.40M1683.90 1298.40V1185.45H1685.89V1298.40M1685.89 1298.40V1215.57H1687.88V1298.40M1687.88 1298.40V1185.45H1689.87V1298.40M1689.87 1298.40V1185.45H1691.86V1298.40M1691.86 1298.40V1185.45H1693.85V1298.40M1693.85 1298.40V1185.45H1695.85V1298.40M1695.85 1298.40V1215.57H1697.84V1298.40M1697.84 1298.40V1185.45H1699.83V1298.40M1699.83 1298.40V1185.45H1701.82V1298.40M1701.82 1298.40V1185.45H1703.81V1298.40M1703.81 1298.40V1223.10H1705.80V1298.40M1705.80 1298.40V1185.45H1707.79V1298.40M1707.79 1298.40V1185.45H1709.79V1298.40M1709.79 1298.40V1185.45H1711.78V1298.40M1711.78 1298.40V1185.45H1713.77V1298.40M1713.77 1298.40V1202.02H1715.76V1298.40M1715.76 1298.40V1185.45H1717.75V1298.40M1717.75 1298.40V1185.45H1719.74V1298.40M1719.74 1298.40V1185.45H1721.73V1298.40M1721.73 1298.40V1223.10H1723.73V1298.40M1723.73 1298.40V1185.45H1725.72V1298.40M1725.72 1298.40V1185.45H1727.71V1298.40M1727.71 1298.40V1185.45H1729.70V1298.40" fill="none" stroke="#000" stroke-width="0.25"/>
<line x1="1381.20" y1="1298.40" x2="1381.20" y2="1173.40" stroke="#000" stroke-width="2.1" stroke-dasharray="8.1 4.35"/>
<line x1="1032.70" y1="1173.40" x2="1032.70" y2="1299.15" stroke="#000" stroke-width="1.5"/>
<line x1="1031.95" y1="1298.40" x2="1730.45" y2="1298.40" stroke="#000" stroke-width="1.5"/>
<line x1="1032.70" y1="1298.40" x2="1032.70" y2="1304.70" stroke="#000" stroke-width="1.5"/>
<text x="1032.70" y="1325.90" font-family="'Liberation Sans', Arial, sans-serif" font-size="23" text-anchor="middle">0</text>
<line x1="1172.10" y1="1298.40" x2="1172.10" y2="1304.70" stroke="#000" stroke-width="1.5"/>
<text x="1172.10" y="1325.90" font-family="'Liberation Sans', Arial, sans-serif" font-size="23" text-anchor="middle">2000</text>
<line x1="1311.50" y1="1298.40" x2="1311.50" y2="1304.70" stroke="#000" stroke-width="1.5"/>
<text x="1311.50" y="1325.90" font-family="'Liberation Sans', Arial, sans-serif" font-size="23" text-anchor="middle">4000</text>
<line x1="1450.90" y1="1298.40" x2="1450.90" y2="1304.70" stroke="#000" stroke-width="1.5"/>
<text x="1450.90" y="1325.90" font-family="'Liberation Sans', Arial, sans-serif" font-size="23" text-anchor="middle">6000</text>
<line x1="1590.30" y1="1298.40" x2="1590.30" y2="1304.70" stroke="#000" stroke-width="1.5"/>
<text x="1590.30" y="1325.90" font-family="'Liberation Sans', Arial, sans-serif" font-size="23" text-anchor="middle">8000</text>
<line x1="1729.70" y1="1298.40" x2="1729.70" y2="1304.70" stroke="#000" stroke-width="1.5"/>
<text x="1729.70" y="1325.90" font-family="'Liberation Sans', Arial, sans-serif" font-size="23" text-anchor="middle">10000</text>
<line x1="1025.50" y1="1298.40" x2="1032.70" y2="1298.40" stroke="#000" stroke-width="1.6"/>
<text x="1020.2" y="1306.30" font-family="'Liberation Sans', Arial, sans-serif" font-size="22" text-anchor="end">0</text>
<line x1="1025.50" y1="1223.10" x2="1032.70" y2="1223.10" stroke="#000" stroke-width="1.6"/>
<text x="1020.2" y="1231.00" font-family="'Liberation Sans', Arial, sans-serif" font-size="22" text-anchor="end">100</text>
<text x="1381.20" y="1166.80" font-family="'Liberation Sans', Arial, sans-serif" font-size="25.7" text-anchor="middle">Rate plot of BC</text>
<text transform="translate(973.9,1235.90) rotate(-90)" font-family="'Liberation Sans', Arial, sans-serif" font-size="25.7" text-anchor="middle">Rate(Hz)</text>
<path d="M1032.70 1497.40V1485.55H1034.69V1449.99H1036.68V1461.84H1038.67V1473.70H1040.67V1485.55H1042.66V1473.70H1044.65V1473.70H1046.64V1473.70H1048.63V1473.70H1050.62V1426.29H1052.61V1378.88H1054.61V1438.14H1056.60V1449.99H1058.59V1473.70H1060.58V1426.29H1062.57V1449.99H1064.56V1473.70H1066.55V1461.84H1068.55V1473.70H1070.54V1461.84H1072.53V1449.99H1074.52V1461.84H1076.51V1473.70H1078.50V1473.70H1080.49V1449.99H1082.49V1473.70H1084.48V1461.84H1086.47V1449.99H1088.46V1449.99H1090.45V1438.14H1092.44V1461.84H1094.43V1449.99H1096.43V1461.84H1098.42V1497.40H1100.41V1473.70H1102.40V1461.84H1104.39V1438.14H1106.38V1485.55H1108.37V1473.70H1110.37V1485.55H1112.36V1449.99H1114.35V1414.43H1116.34V1461.84H1118.33V1473.70H1120.32V1461.84H1122.31V1438.14H1124.31V1449.99H1126.30V1473.70H1128.29V1449.99H1130.28V1449.99H1132.27V1485.55H1134.26V1426.29H1136.25V1485.55H1138.25V1461.84H1140.24V1461.84H1142.23V1485.55H1144.22V1497.40H1146.21V1461.84H1148.20V1473.70H1150.19V1497.40H1152.19V1461.84H1154.18V1473.70H1156.17V1485.55H1158.16V1485.55H1160.15V1461.84H1162.14V1485.55H1164.13V1449.99H1166.13V1485.55H1168.12V1473.70H1170.11V1497.40H1172.10V1402.58H1174.09V1461.84H1176.08V1414.43H1178.07V1414.43H1180.07V1426.29H1182.06V1449.99H1184.05V1414.43H1186.04V1461.84H1188.03V1485.55H1190.02V1438.14H1192.01V1461.84H1194.01V1485.55H1196.00V1438.14H1197.99V1473.70H1199.98V1473.70H1201.97V1485.55H1203.96V1485.55H1205.95V1473.70H1207.95V1473.70H1209.94V1449.99H1211.93V1461.84H1213.92V1438.14H1215.91V1390.73H1217.90V1414.43H1219.89V1438.14H1221.89V1449.99H1223.88V1485.55H1225.87V1438.14H1227.86V1485.55H1229.85V1485.55H1231.84V1438.14H1233.83V1426.29H1235.83V1449.99H1237.82V1461.84H1239.81V1473.70H1241.80V1473.70H1243.79V1497.40H1245.78V1449.99H1247.77V1461.84H1249.77V1473.70H1251.76V1473.70H1253.75V1461.84H1255.74V1438.14H1257.73V1497.40H1259.72V1473.70H1261.71V1485.55H1263.71V1438.14H1265.70V1449.99H1267.69V1438.14H1269.68V1402.58H1271.67V1391.73H1273.66V1461.84H1275.65V1473.70H1277.65V1485.55H1279.64V1438.14H1281.63V1485.55H1283.62V1473.70H1285.61V1391.73H1287.60V1449.99H1289.59V1461.84H1291.59V1473.70H1293.58V1497.40H1295.57V1438.14H1297.56V1414.43H1299.55V1461.84H1301.54V1449.99H1303.53V1473.70H1305.53V1497.40H1307.52V1473.70H1309.51V1426.29H1311.50V1485.55H1313.49V1438.14H1315.48V1461.84H1317.47V1497.40H1319.47V1449.99H1321.46V1461.84H1323.45V1426.29H1325.44V1438.14H1327.43V1485.55H1329.42V1402.58H1331.41V1449.99H1333.41V1473.70H1335.40V1461.84H1337.39V1378.88H1339.38V1473.70H1341.37V1461.84H1343.36V1485.55H1345.35V1438.14H1347.35V1461.84H1349.34V1449.99H1351.33V1485.55H1353.32V1497.40H1355.31V1438.14H1357.30V1438.14H1359.29V1461.84H1361.29V1485.55H1363.28V1438.14H1365.27V1461.84H1367.26V1485.55H1369.25V1473.70H1371.24V1497.40H1373.23V1426.29H1375.23V1473.70H1377.22V1426.29H1379.21V1461.84H1381.20V1485.55H1383.19V1485.55H1385.18V1497.40H1387.17V1473.70H1389.17V1485.55H1391.16V1449.99H1393.15V1485.55H1395.14V1485.55H1397.13V1473.70H1399.12V1473.70H1401.11V1461.84H1403.11V1485.55H1405.10V1485.55H1407.09V1485.55H1409.08V1485.55H1411.07V1473.70H1413.06V1461.84H1415.05V1473.70H1417.05V1461.84H1419.04V1497.40H1421.03V1497.40H1423.02V1473.70H1425.01V1473.70H1427.00V1449.99H1428.99V1473.70H1430.99V1485.55H1432.98V1497.40H1434.97V1485.55H1436.96V1461.84H1438.95V1473.70H1440.94V1461.84H1442.93V1461.84H1444.93V1473.70H1446.92V1485.55H1448.91V1485.55H1450.90V1461.84H1452.89V1485.55H1454.88V1485.55H1456.87V1497.40H1458.87V1473.70H1460.86V1449.99H1462.85V1497.40H1464.84V1473.70H1466.83V1449.99H1468.82V1449.99H1470.81V1473.70H1472.81V1473.70H1474.80V1473.70H1476.79V1485.55H1478.78V1497.40H1480.77V1449.99H1482.76V1461.84H1484.75V1497.40H1486.75V1473.70H1488.74V1485.55H1490.73V1485.55H1492.72V1497.40H1494.71V1473.70H1496.70V1485.55H1498.69V1485.55H1500.69V1449.99H1502.68V1473.70H1504.67V1449.99H1506.66V1461.84H1508.65V1497.40H1510.64V1461.84H1512.63V1497.40H1514.63V1449.99H1516.62V1485.55H1518.61V1473.70H1520.60V1497.40H1522.59V1485.55H1524.58V1461.84H1526.57V1485.55H1528.57V1473.70H1530.56V1497.40H1532.55V1497.40H1534.54V1473.70H1536.53V1473.70H1538.52V1449.99H1540.51V1497.40H1542.51V1497.40H1544.50V1485.55H1546.49V1426.29H1548.48V1473.70H1550.47V1497.40H1552.46V1473.70H1554.45V1485.55H1556.45V1485.55H1558.44V1461.84H1560.43V1449.99H1562.42V1497.40H1564.41V1473.70H1566.40V1485.55H1568.39V1485.55H1570.39V1449.99H1572.38V1461.84H1574.37V1485.55H1576.36V1473.70H1578.35V1485.55H1580.34V1438.14H1582.33V1485.55H1584.33V1449.99H1586.32V1473.70H1588.31V1438.14H1590.30V1485.55H1592.29V1497.40H1594.28V1485.55H1596.27V1485.55H1598.27V1485.55H1600.26V1485.55H1602.25V1473.70H1604.24V1485.55H1606.23V1473.70H1608.22V1497.40H1610.21V1485.55H1612.21V1497.40H1614.20V1485.55H1616.19V1497.40H1618.18V1497.40H1620.17V1497.40H1622.16V1485.55H1624.15V1485.55H1626.15V1473.70H1628.14V1461.84H1630.13V1473.70H1632.12V1473.70H1634.11V1485.55H1636.10V1497.40H1638.09V1473.70H1640.09V1485.55H1642.08V1473.70H1644.07V1485.55H1646.06V1485.55H1648.05V1461.84H1650.04V1473.70H1652.03V1473.70H1654.03V1485.55H1656.02V1497.40H1658.01V1449.99H1660.00V1461.84H1661.99V1473.70H1663.98V1497.40H1665.97V1497.40H1667.97V1497.40H1669.96V1473.70H1671.95V1473.70H1673.94V1473.70H1675.93V1497.40H1677.92V1485.55H1679.91V1485.55H1681.91V1473.70H1683.90V1473.70H1685.89V1497.40H1687.88V1485.55H1689.87V1485.55H1691.86V1449.99H1693.85V1438.14H1695.85V1497.40H1697.84V1438.14H1699.83V1497.40H1701.82V1485.55H1703.81V1461.84H1705.80V1473.70H1707.79V1497.40H1709.79V1485.55H1711.78V1497.40H1713.77V1414.43H1715.76V1485.55H1717.75V1461.84H1719.74V1497.40H1721.73V1485.55H1723.73V1485.55H1725.72V1461.84H1727.71V1461.84H1729.70V1497.40Z" fill="#e08592"/>
<path d="M1032.70 1497.40V1485.55H1034.69V1497.40M1034.69 1497.40V1449.99H1036.68V1497.40M1036.68 1497.40V1461.84H1038.67V1497.40M1038.67 1497.40V1473.70H1040.67V1497.40M1040.67 1497.40V1485.55H1042.66V1497.40M1042.66 1497.40V1473.70H1044.65V1497.40M1044.65 1497.40V1473.70H1046.64V1497.40M1046.64 1497.40V1473.70H1048.63V1497.40M1048.63 1497.40V1473.70H1050.62V1497.40M1050.62 1497.40V1426.29H1052.61V1497.40M1052.61 1497.40V1378.88H1054.61V1497.40M1054.61 1497.40V1438.14H1056.60V1497.40M1056.60 1497.40V1449.99H1058.59V1497.40M1058.59 1497.40V1473.70H1060.58V1497.40M1060.58 1497.40V1426.29H1062.57V1497.40M1062.57 1497.40V1449.99H1064.56V1497.40M1064.56 1497.40V1473.70H1066.55V1497.40M1066.55 1497.40V1461.84H1068.55V1497.40M1068.55 1497.40V1473.70H1070.54V1497.40M1070.54 1497.40V1461.84H1072.53V1497.40M1072.53 1497.40V1449.99H1074.52V1497.40M1074.52 1497.40V1461.84H1076.51V1497.40M1076.51 1497.40V1473.70H1078.50V1497.40M1078.50 1497.40V1473.70H1080.49V1497.40M1080.49 1497.40V1449.99H1082.49V1497.40M1082.49 1497.40V1473.70H1084.48V1497.40M1084.48 1497.40V1461.84H1086.47V1497.40M1086.47 1497.40V1449.99H1088.46V1497.40M1088.46 1497.40V1449.99H1090.45V1497.40M1090.45 1497.40V1438.14H1092.44V1497.40M1092.44 1497.40V1461.84H1094.43V1497.40M1094.43 1497.40V1449.99H1096.43V1497.40M1096.43 1497.40V1461.84H1098.42V1497.40M1100.41 1497.40V1473.70H1102.40V1497.40M1102.40 1497.40V1461.84H1104.39V1497.40M1104.39 1497.40V1438.14H1106.38V1497.40M1106.38 1497.40V1485.55H1108.37V1497.40M1108.37 1497.40V1473.70H1110.37V1497.40M1110.37 1497.40V1485.55H1112.36V1497.40M1112.36 1497.40V1449.99H1114.35V1497.40M1114.35 1497.40V1414.43H1116.34V1497.40M1116.34 1497.40V1461.84H1118.33V1497.40M1118.33 1497.40V1473.70H1120.32V1497.40M1120.32 1497.40V1461.84H1122.31V1497.40M1122.31 1497.40V1438.14H1124.31V1497.40M1124.31 1497.40V1449.99H1126.30V1497.40M1126.30 1497.40V1473.70H1128.29V1497.40M1128.29 1497.40V1449.99H1130.28V1497.40M1130.28 1497.40V1449.99H1132.27V1497.40M1132.27 1497.40V1485.55H1134.26V1497.40M1134.26 1497.40V1426.29H1136.25V1497.40M1136.25 1497.40V1485.55H1138.25V1497.40M1138.25 1497.40V1461.84H1140.24V1497.40M1140.24 1497.40V1461.84H1142.23V1497.40M1142.23 1497.40V1485.55H1144.22V1497.40M1146.21 1497.40V1461.84H1148.20V1497.40M1148.20 1497.40V1473.70H1150.19V1497.40M1152.19 1497.40V1461.84H1154.18V1497.40M1154.18 1497.40V1473.70H1156.17V1497.40M1156.17 1497.40V1485.55H1158.16V1497.40M1158.16 1497.40V1485.55H1160.15V1497.40M1160.15 1497.40V1461.84H1162.14V1497.40M1162.14 1497.40V1485.55H1164.13V1497.40M1164.13 1497.40V1449.99H1166.13V1497.40M1166.13 1497.40V1485.55H1168.12V1497.40M1168.12 1497.40V1473.70H1170.11V1497.40M1172.10 1497.40V1402.58H1174.09V1497.40M1174.09 1497.40V1461.84H1176.08V1497.40M1176.08 1497.40V1414.43H1178.07V1497.40M1178.07 1497.40V1414.43H1180.07V1497.40M1180.07 1497.40V1426.29H1182.06V1497.40M1182.06 1497.40V1449.99H1184.05V1497.40M1184.05 1497.40V1414.43H1186.04V1497.40M1186.04 1497.40V1461.84H1188.03V1497.40M1188.03 1497.40V1485.55H1190.02V1497.40M1190.02 1497.40V1438.14H1192.01V1497.40M1192.01 1497.40V1461.84H1194.01V1497.40M1194.01 1497.40V1485.55H1196.00V1497.40M1196.00 1497.40V1438.14H1197.99V1497.40M1197.99 1497.40V1473.70H1199.98V1497.40M1199.98 1497.40V1473.70H1201.97V1497.40M1201.97 1497.40V1485.55H1203.96V1497.40M1203.96 1497.40V1485.55H1205.95V1497.40M1205.95 1497.40V1473.70H1207.95V1497.40M1207.95 1497.40V1473.70H1209.94V1497.40M1209.94 1497.40V1449.99H1211.93V1497.40M1211.93 1497.40V1461.84H1213.92V1497.40M1213.92 1497.40V1438.14H1215.91V1497.40M1215.91 1497.40V1390.73H1217.90V1497.40M1217.90 1497.40V1414.43H1219.89V1497.40M1219.89 1497.40V1438.14H1221.89V1497.40M1221.89 1497.40V1449.99H1223.88V1497.40M1223.88 1497.40V1485.55H1225.87V1497.40M1225.87 1497.40V1438.14H1227.86V1497.40M1227.86 1497.40V1485.55H1229.85V1497.40M1229.85 1497.40V1485.55H1231.84V1497.40M1231.84 1497.40V1438.14H1233.83V1497.40M1233.83 1497.40V1426.29H1235.83V1497.40M1235.83 1497.40V1449.99H1237.82V1497.40M1237.82 1497.40V1461.84H1239.81V1497.40M1239.81 1497.40V1473.70H1241.80V1497.40M1241.80 1497.40V1473.70H1243.79V1497.40M1245.78 1497.40V1449.99H1247.77V1497.40M1247.77 1497.40V1461.84H1249.77V1497.40M1249.77 1497.40V1473.70H1251.76V1497.40M1251.76 1497.40V1473.70H1253.75V1497.40M1253.75 1497.40V1461.84H1255.74V1497.40M1255.74 1497.40V1438.14H1257.73V1497.40M1259.72 1497.40V1473.70H1261.71V1497.40M1261.71 1497.40V1485.55H1263.71V1497.40M1263.71 1497.40V1438.14H1265.70V1497.40M1265.70 1497.40V1449.99H1267.69V1497.40M1267.69 1497.40V1438.14H1269.68V1497.40M1269.68 1497.40V1402.58H1271.67V1497.40M1271.67 1497.40V1391.73H1273.66V1497.40M1273.66 1497.40V1461.84H1275.65V1497.40M1275.65 1497.40V1473.70H1277.65V1497.40M1277.65 1497.40V1485.55H1279.64V1497.40M1279.64 1497.40V1438.14H1281.63V1497.40M1281.63 1497.40V1485.55H1283.62V1497.40M1283.62 1497.40V1473.70H1285.61V1497.40M1285.61 1497.40V1391.73H1287.60V1497.40M1287.60 1497.40V1449.99H1289.59V1497.40M1289.59 1497.40V1461.84H1291.59V1497.40M1291.59 1497.40V1473.70H1293.58V1497.40M1295.57 1497.40V1438.14H1297.56V1497.40M1297.56 1497.40V1414.43H1299.55V1497.40M1299.55 1497.40V1461.84H1301.54V1497.40M1301.54 1497.40V1449.99H1303.53V1497.40M1303.53 1497.40V1473.70H1305.53V1497.40M1307.52 1497.40V1473.70H1309.51V1497.40M1309.51 1497.40V1426.29H1311.50V1497.40M1311.50 1497.40V1485.55H1313.49V1497.40M1313.49 1497.40V1438.14H1315.48V1497.40M1315.48 1497.40V1461.84H1317.47V1497.40M1319.47 1497.40V1449.99H1321.46V1497.40M1321.46 1497.40V1461.84H1323.45V1497.40M1323.45 1497.40V1426.29H1325.44V1497.40M1325.44 1497.40V1438.14H1327.43V1497.40M1327.43 1497.40V1485.55H1329.42V1497.40M1329.42 1497.40V1402.58H1331.41V1497.40M1331.41 1497.40V1449.99H1333.41V1497.40M1333.41 1497.40V1473.70H1335.40V1497.40M1335.40 1497.40V1461.84H1337.39V1497.40M1337.39 1497.40V1378.88H1339.38V1497.40M1339.38 1497.40V1473.70H1341.37V1497.40M1341.37 1497.40V1461.84H1343.36V1497.40M1343.36 1497.40V1485.55H1345.35V1497.40M1345.35 1497.40V1438.14H1347.35V1497.40M1347.35 1497.40V1461.84H1349.34V1497.40M1349.34 1497.40V1449.99H1351.33V1497.40M1351.33 1497.40V1485.55H1353.32V1497.40M1355.31 1497.40V1438.14H1357.30V1497.40M1357.30 1497.40V1438.14H1359.29V1497.40M1359.29 1497.40V1461.84H1361.29V1497.40M1361.29 1497.40V1485.55H1363.28V1497.40M1363.28 1497.40V1438.14H1365.27V1497.40M1365.27 1497.40V1461.84H1367.26V1497.40M1367.26 1497.40V1485.55H1369.25V1497.40M1369.25 1497.40V1473.70H1371.24V1497.40M1373.23 1497.40V1426.29H1375.23V1497.40M1375.23 1497.40V1473.70H1377.22V1497.40M1377.22 1497.40V1426.29H1379.21V1497.40M1379.21 1497.40V1461.84H1381.20V1497.40M1381.20 1497.40V1485.55H1383.19V1497.40M1383.19 1497.40V1485.55H1385.18V1497.40M1387.17 1497.40V1473.70H1389.17V1497.40M1389.17 1497.40V1485.55H1391.16V1497.40M1391.16 1497.40V1449.99H1393.15V1497.40M1393.15 1497.40V1485.55H1395.14V1497.40M1395.14 1497.40V1485.55H1397.13V1497.40M1397.13 1497.40V1473.70H1399.12V1497.40M1399.12 1497.40V1473.70H1401.11V1497.40M1401.11 1497.40V1461.84H1403.11V1497.40M1403.11 1497.40V1485.55H1405.10V1497.40M1405.10 1497.40V1485.55H1407.09V1497.40M1407.09 1497.40V1485.55H1409.08V1497.40M1409.08 1497.40V1485.55H1411.07V1497.40M1411.07 1497.40V1473.70H1413.06V1497.40M1413.06 1497.40V1461.84H1415.05V1497.40M1415.05 1497.40V1473.70H1417.05V1497.40M1417.05 1497.40V1461.84H1419.04V1497.40M1423.02 1497.40V1473.70H1425.01V1497.40M1425.01 1497.40V1473.70H1427.00V1497.40M1427.00 1497.40V1449.99H1428.99V1497.40M1428.99 1497.40V1473.70H1430.99V1497.40M1430.99 1497.40V1485.55H1432.98V1497.40M1434.97 1497.40V1485.55H1436.96V1497.40M1436.96 1497.40V1461.84H1438.95V1497.40M1438.95 1497.40V1473.70H1440.94V1497.40M1440.94 1497.40V1461.84H1442.93V1497.40M1442.93 1497.40V1461.84H1444.93V1497.40M1444.93 1497.40V1473.70H1446.92V1497.40M1446.92 1497.40V1485.55H1448.91V1497.40M1448.91 1497.40V1485.55H1450.90V1497.40M1450.90 1497.40V1461.84H1452.89V1497.40M1452.89 1497.40V1485.55H1454.88V1497.40M1454.88 1497.40V1485.55H1456.87V1497.40M1458.87 1497.40V1473.70H1460.86V1497.40M1460.86 1497.40V1449.99H1462.85V1497.40M1464.84 1497.40V1473.70H1466.83V1497.40M1466.83 1497.40V1449.99H1468.82V1497.40M1468.82 1497.40V1449.99H1470.81V1497.40M1470.81 1497.40V1473.70H1472.81V1497.40M1472.81 1497.40V1473.70H1474.80V1497.40M1474.80 1497.40V1473.70H1476.79V1497.40M1476.79 1497.40V1485.55H1478.78V1497.40M1480.77 1497.40V1449.99H1482.76V1497.40M1482.76 1497.40V1461.84H1484.75V1497.40M1486.75 1497.40V1473.70H1488.74V1497.40M1488.74 1497.40V1485.55H1490.73V1497.40M1490.73 1497.40V1485.55H1492.72V1497.40M1494.71 1497.40V1473.70H1496.70V1497.40M1496.70 1497.40V1485.55H1498.69V1497.40M1498.69 1497.40V1485.55H1500.69V1497.40M1500.69 1497.40V1449.99H1502.68V1497.40M1502.68 1497.40V1473.70H1504.67V1497.40M1504.67 1497.40V1449.99H1506.66V1497.40M1506.66 1497.40V1461.84H1508.65V1497.40M1510.64 1497.40V1461.84H1512.63V1497.40M1514.63 1497.40V1449.99H1516.62V1497.40M1516.62 1497.40V1485.55H1518.61V1497.40M1518.61 1497.40V1473.70H1520.60V1497.40M1522.59 1497.40V1485.55H1524.58V1497.40M1524.58 1497.40V1461.84H1526.57V1497.40M1526.57 1497.40V1485.55H1528.57V1497.40M1528.57 1497.40V1473.70H1530.56V1497.40M1534.54 1497.40V1473.70H1536.53V1497.40M1536.53 1497.40V1473.70H1538.52V1497.40M1538.52 1497.40V1449.99H1540.51V1497.40M1544.50 1497.40V1485.55H1546.49V1497.40M1546.49 1497.40V1426.29H1548.48V1497.40M1548.48 1497.40V1473.70H1550.47V1497.40M1552.46 1497.40V1473.70H1554.45V1497.40M1554.45 1497.40V1485.55H1556.45V1497.40M1556.45 1497.40V1485.55H1558.44V1497.40M1558.44 1497.40V1461.84H1560.43V1497.40M1560.43 1497.40V1449.99H1562.42V1497.40M1564.41 1497.40V1473.70H1566.40V1497.40M1566.40 1497.40V1485.55H1568.39V1497.40M1568.39 1497.40V1485.55H1570.39V1497.40M1570.39 1497.40V1449.99H1572.38V1497.40M1572.38 1497.40V1461.84H1574.37V1497.40M1574.37 1497.40V1485.55H1576.36V1497.40M1576.36 1497.40V1473.70H1578.35V1497.40M1578.35 1497.40V1485.55H1580.34V1497.40M1580.34 1497.40V1438.14H1582.33V1497.40M1582.33 1497.40V1485.55H1584.33V1497.40M1584.33 1497.40V1449.99H1586.32V1497.40M1586.32 1497.40V1473.70H1588.31V1497.40M1588.31 1497.40V1438.14H1590.30V1497.40M1590.30 1497.40V1485.55H1592.29V1497.40M1594.28 1497.40V1485.55H1596.27V1497.40M1596.27 1497.40V1485.55H1598.27V1497.40M1598.27 1497.40V1485.55H1600.26V1497.40M1600.26 1497.40V1485.55H1602.25V1497.40M1602.25 1497.40V1473.70H1604.24V1497.40M1604.24 1497.40V1485.55H1606.23V1497.40M1606.23 1497.40V1473.70H1608.22V1497.40M1610.21 1497.40V1485.55H1612.21V1497.40M1614.20 1497.40V1485.55H1616.19V1497.40M1622.16 1497.40V1485.55H1624.15V1497.40M1624.15 1497.40V1485.55H1626.15V1497.40M1626.15 1497.40V1473.70H1628.14V1497.40M1628.14 1497.40V1461.84H1630.13V1497.40M1630.13 1497.40V1473.70H1632.12V1497.40M1632.12 1497.40V1473.70H1634.11V1497.40M1634.11 1497.40V1485.55H1636.10V1497.40M1638.09 1497.40V1473.70H1640.09V1497.40M1640.09 1497.40V1485.55H1642.08V1497.40M1642.08 1497.40V1473.70H1644.07V1497.40M1644.07 1497.40V1485.55H1646.06V1497.40M1646.06 1497.40V1485.55H1648.05V1497.40M1648.05 1497.40V1461.84H1650.04V1497.40M1650.04 1497.40V1473.70H1652.03V1497.40M1652.03 1497.40V1473.70H1654.03V1497.40M1654.03 1497.40V1485.55H1656.02V1497.40M1658.01 1497.40V1449.99H1660.00V1497.40M1660.00 1497.40V1461.84H1661.99V1497.40M1661.99 1497.40V1473.70H1663.98V1497.40M1669.96 1497.40V1473.70H1671.95V1497.40M1671.95 1497.40V1473.70H1673.94V1497.40M1673.94 1497.40V1473.70H1675.93V1497.40M1677.92 1497.40V1485.55H1679.91V1497.40M1679.91 1497.40V1485.55H1681.91V1497.40M1681.91 1497.40V1473.70H1683.90V1497.40M1683.90 1497.40V1473.70H1685.89V1497.40M1687.88 1497.40V1485.55H1689.87V1497.40M1689.87 1497.40V1485.55H1691.86V1497.40M1691.86 1497.40V1449.99H1693.85V1497.40M1693.85 1497.40V1438.14H1695.85V1497.40M1697.84 1497.40V1438.14H1699.83V1497.40M1701.82 1497.40V1485.55H1703.81V1497.40M1703.81 1497.40V1461.84H1705.80V1497.40M1705.80 1497.40V1473.70H1707.79V1497.40M1709.79 1497.40V1485.55H1711.78V1497.40M1713.77 1497.40V1414.43H1715.76V1497.40M1715.76 1497.40V1485.55H1717.75V1497.40M1717.75 1497.40V1461.84H1719.74V1497.40M1721.73 1497.40V1485.55H1723.73V1497.40M1723.73 1497.40V1485.55H1725.72V1497.40M1725.72 1497.40V1461.84H1727.71V1497.40M1727.71 1497.40V1461.84H1729.70V1497.40" fill="none" stroke="#000" stroke-width="0.25"/>
<line x1="1381.20" y1="1497.40" x2="1381.20" y2="1371.70" stroke="#000" stroke-width="2.1" stroke-dasharray="8.1 4.35"/>
<line x1="1032.70" y1="1371.70" x2="1032.70" y2="1498.15" stroke="#000" stroke-width="1.5"/>
<line x1="1031.95" y1="1497.40" x2="1730.45" y2="1497.40" stroke="#000" stroke-width="1.5"/>
<line x1="1032.70" y1="1497.40" x2="1032.70" y2="1503.70" stroke="#000" stroke-width="1.5"/>
<text x="1032.70" y="1524.90" font-family="'Liberation Sans', Arial, sans-serif" font-size="23" text-anchor="middle">0</text>
<line x1="1172.10" y1="1497.40" x2="1172.10" y2="1503.70" stroke="#000" stroke-width="1.5"/>
<text x="1172.10" y="1524.90" font-family="'Liberation Sans', Arial, sans-serif" font-size="23" text-anchor="middle">2000</text>
<line x1="1311.50" y1="1497.40" x2="1311.50" y2="1503.70" stroke="#000" stroke-width="1.5"/>
<text x="1311.50" y="1524.90" font-family="'Liberation Sans', Arial, sans-serif" font-size="23" text-anchor="middle">4000</text>
<line x1="1450.90" y1="1497.40" x2="1450.90" y2="1503.70" stroke="#000" stroke-width="1.5"/>
<text x="1450.90" y="1524.90" font-family="'Liberation Sans', Arial, sans-serif" font-size="23" text-anchor="middle">6000</text>
<line x1="1590.30" y1="1497.40" x2="1590.30" y2="1503.70" stroke="#000" stroke-width="1.5"/>
<text x="1590.30" y="1524.90" font-family="'Liberation Sans', Arial, sans-serif" font-size="23" text-anchor="middle">8000</text>
<line x1="1729.70" y1="1497.40" x2="1729.70" y2="1503.70" stroke="#000" stroke-width="1.5"/>
<text x="1729.70" y="1524.90" font-family="'Liberation Sans', Arial, sans-serif" font-size="23" text-anchor="middle">10000</text>
<line x1="1025.50" y1="1497.40" x2="1032.70" y2="1497.40" stroke="#000" stroke-width="1.6"/>
<text x="1020.2" y="1505.30" font-family="'Liberation Sans', Arial, sans-serif" font-size="22" text-anchor="end">0.00</text>
<line x1="1025.50" y1="1426.00" x2="1032.70" y2="1426.00" stroke="#000" stroke-width="1.6"/>
<text x="1020.2" y="1433.90" font-family="'Liberation Sans', Arial, sans-serif" font-size="22" text-anchor="end">0.25</text>
<text x="1381.20" y="1365.10" font-family="'Liberation Sans', Arial, sans-serif" font-size="25.7" text-anchor="middle">Rate plot of athorny PC</text>
<text transform="translate(967.9,1434.55) rotate(-90)" font-family="'Liberation Sans', Arial, sans-serif" font-size="25.7" text-anchor="middle">Rate(Hz)</text>
<text x="1382.40" y="1552.8" font-family="'Liberation Sans', Arial, sans-serif" font-size="24.3" text-anchor="middle">Time(ms)</text></svg>
</body></html>
